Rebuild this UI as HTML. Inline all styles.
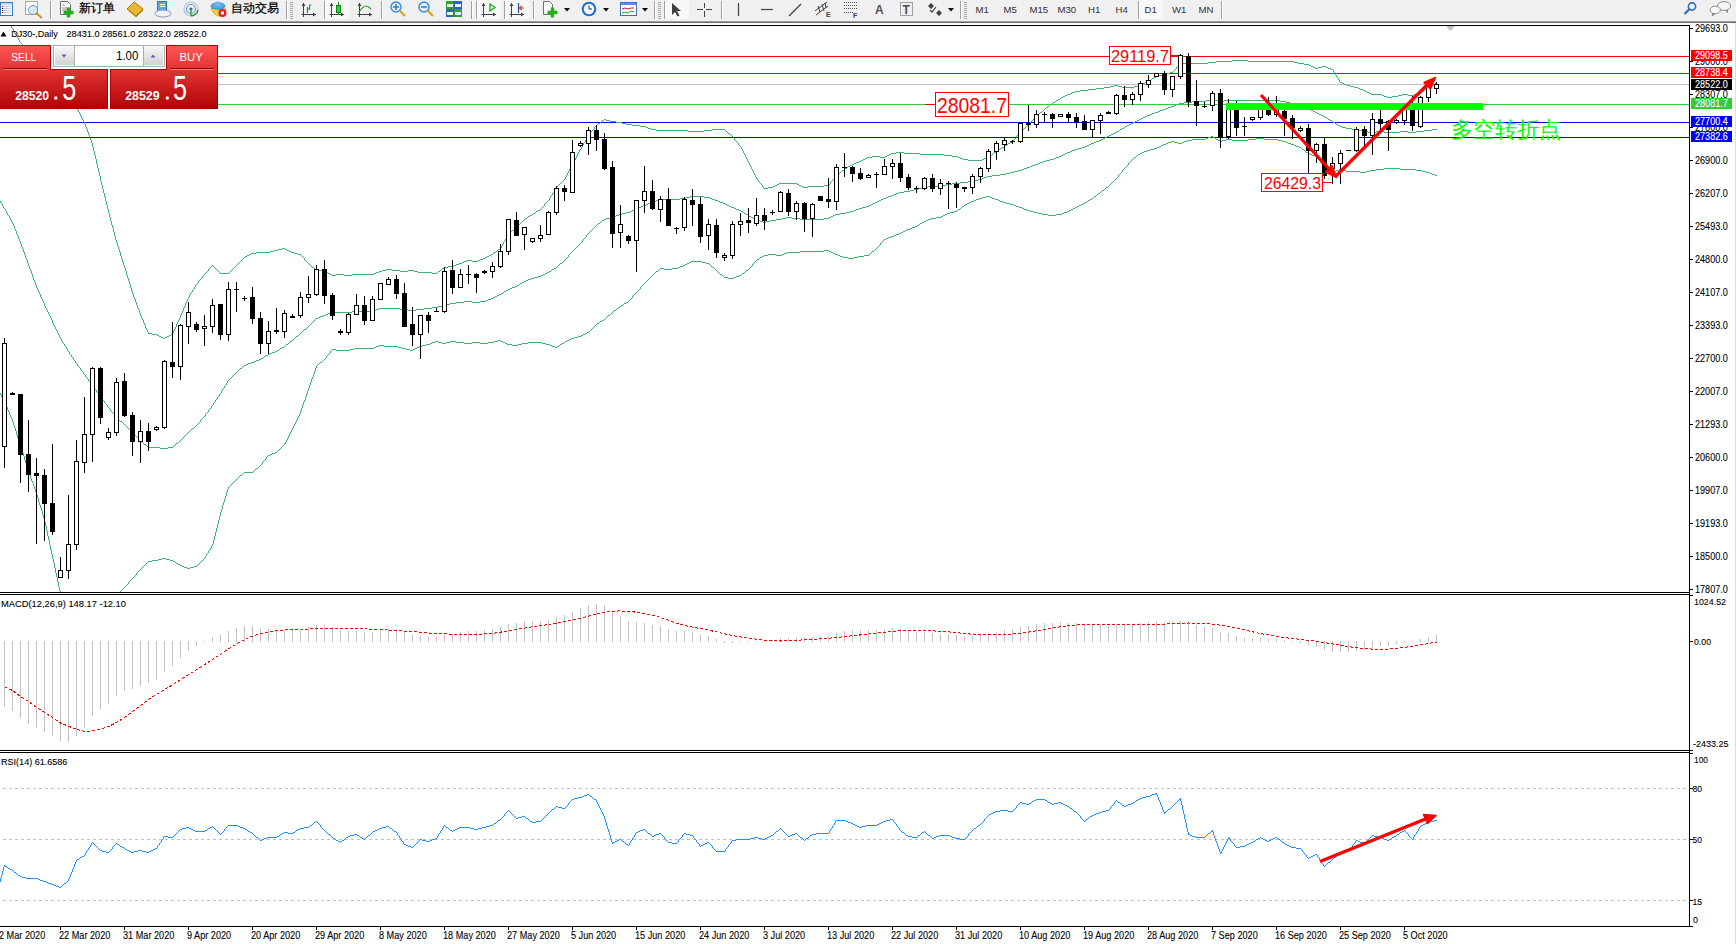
<!DOCTYPE html><html><head><meta charset="utf-8"><title>MT4</title><style>
html,body{margin:0;padding:0;width:1736px;height:944px;overflow:hidden;background:#fff;font-family:"Liberation Sans",sans-serif}
svg{position:absolute;left:0;top:0;display:block}
text{font-family:"Liberation Sans",sans-serif}
</style></head><body>
<svg width="1736" height="944" viewBox="0 0 1736 944">
<rect x="0" y="0" width="1736" height="21" fill="#f0f0f0"/>
<rect x="0" y="21" width="1736" height="1" fill="#a0a0a0"/>
<rect x="0" y="22" width="1736" height="1" fill="#696969"/>
<g>
<rect x="0.5" y="2.5" width="12" height="13" fill="#fff" stroke="#3b78c4" stroke-width="1"/>
<rect x="1" y="3" width="11" height="2" fill="#c8d8f0"/>
<rect x="3" y="6" width="8" height="1" fill="#c0d0ec"/><rect x="2" y="6" width="1" height="1" fill="#e00000"/>
<rect x="3" y="8" width="8" height="1" fill="#c0d0ec"/><rect x="2" y="8" width="1" height="1" fill="#000"/>
<rect x="3" y="10" width="8" height="1" fill="#c0d0ec"/><rect x="2" y="10" width="1" height="1" fill="#000"/>
<rect x="3" y="12" width="8" height="1" fill="#c0d0ec"/><rect x="2" y="12" width="1" height="1" fill="#e00000"/>
<rect x="25.5" y="1.5" width="12" height="13" fill="#fafafa" stroke="#b0a890"/>
<circle cx="33" cy="10" r="4.5" fill="#d8ecf8" stroke="#6a9ad0" stroke-width="1"/>
<path d="M36 13 L42 18" stroke="#c89a20" stroke-width="2.2"/>
<rect x="50" y="1" width="1" height="18" fill="#a0a0a0"/><rect x="51" y="1" width="1" height="18" fill="#ffffff"/>
<path d="M60.5 1.5 h7 l3 3 v10 h-10 z" fill="#fff" stroke="#707070"/>
<path d="M62 5 h3 M62 8 h6 M62 10 h6" stroke="#909090"/>
<path d="M68.5 7.5 v10 M63.5 12.5 h10" stroke="#20b020" stroke-width="3.4"/>
<text x="79" y="12.3" font-size="12" fill="#000" stroke="#000" stroke-width="0.25">新订单</text>
<path d="M127 9 L134 2 L143 9 L136 16 Z" fill="#e8b830" stroke="#a87810" stroke-width="1"/>
<path d="M128 10 L136 17 L143 10" stroke="#c08818" fill="none" stroke-width="1"/>
<rect x="157.5" y="1.5" width="9" height="10" fill="#5aa8e8" stroke="#2a78c8"/>
<rect x="160" y="4" width="5" height="1" fill="#fff"/><rect x="160" y="6" width="5" height="1" fill="#fff"/>
<ellipse cx="163" cy="13.5" rx="8" ry="3.5" fill="#f0f4fa" stroke="#8098b8"/>
<circle cx="191" cy="9" r="7" fill="none" stroke="#a8c4e8" stroke-width="1.2"/>
<circle cx="191" cy="9" r="4.5" fill="none" stroke="#6a98d8" stroke-width="1.2"/>
<circle cx="191" cy="9" r="1.6" fill="#2a60c0"/>
<path d="M191 9 V16 M191 16 Q197 15 198 10" stroke="#30a040" stroke-width="1.4" fill="none"/>
<path d="M211 8 Q214 17 222 16 L226 9 Z" fill="#f0d040" stroke="#c0a020" stroke-width="0.8"/>
<ellipse cx="218" cy="6" rx="7" ry="3.2" fill="#58a8e0" stroke="#3080c0" stroke-width="0.8"/>
<ellipse cx="218" cy="4" rx="3.5" ry="2.5" fill="#68b8f0"/>
<circle cx="222.5" cy="13" r="4" fill="#e02020"/><rect x="221" y="11.5" width="3" height="3" fill="#fff"/>
<text x="231" y="12.3" font-size="12" fill="#000" stroke="#000" stroke-width="0.25">自动交易</text>
<rect x="286" y="1" width="1" height="18" fill="#a0a0a0"/><rect x="287" y="1" width="1" height="18" fill="#ffffff"/>
<rect x="290" y="2" width="3" height="1" fill="#a8a8a8"/><rect x="290" y="4" width="3" height="1" fill="#a8a8a8"/><rect x="290" y="6" width="3" height="1" fill="#a8a8a8"/><rect x="290" y="8" width="3" height="1" fill="#a8a8a8"/><rect x="290" y="10" width="3" height="1" fill="#a8a8a8"/><rect x="290" y="12" width="3" height="1" fill="#a8a8a8"/><rect x="290" y="14" width="3" height="1" fill="#a8a8a8"/><rect x="290" y="16" width="3" height="1" fill="#a8a8a8"/><rect x="290" y="18" width="3" height="1" fill="#a8a8a8"/>
<path d="M303.5 3 V17 M301.5 14.5 H316" stroke="#404040" stroke-width="1" fill="none"/><path d="M303.5 3 l-2 3 h4 z M316 14.5 l-3 -2 v4 z" fill="#404040"/>
<path d="M307.5 7 v6 M307.5 9 h2 M309.5 5 v5 M309.5 5 h2" stroke="#20a020" stroke-width="1.2" fill="none"/>
<rect x="324" y="1" width="1" height="18" fill="#a0a0a0"/><rect x="325" y="1" width="1" height="18" fill="#ffffff"/>
<rect x="326" y="0" width="23" height="19" fill="#f8f8f8"/>
<path d="M331.5 3 V17 M329.5 14.5 H344" stroke="#404040" stroke-width="1" fill="none"/><path d="M331.5 3 l-2 3 h4 z M344 14.5 l-3 -2 v4 z" fill="#404040"/>
<path d="M338.5 2 v13" stroke="#108010"/><rect x="336.5" y="5.5" width="4" height="7" fill="#30d040" stroke="#108010"/>
<path d="M359.5 3 V17 M357.5 14.5 H372" stroke="#404040" stroke-width="1" fill="none"/><path d="M359.5 3 l-2 3 h4 z M372 14.5 l-3 -2 v4 z" fill="#404040"/>
<path d="M359 12 Q363 6 366 6 Q368 6 371 9" stroke="#20a020" stroke-width="1.2" fill="none"/>
<rect x="381" y="1" width="1" height="18" fill="#a0a0a0"/><rect x="382" y="1" width="1" height="18" fill="#ffffff"/>
<circle cx="396" cy="7" r="5" fill="#dff0fc" stroke="#3a88d8" stroke-width="1.4"/>
<path d="M399.5 10.5 L405 16" stroke="#d0a820" stroke-width="2.4"/>
<path d="M393 7 h6" stroke="#3a80c8" stroke-width="1.6"/>
<path d="M396 4 v6" stroke="#3a80c8" stroke-width="1.6"/>
<circle cx="424" cy="7" r="5" fill="#dff0fc" stroke="#3a88d8" stroke-width="1.4"/>
<path d="M427.5 10.5 L433 16" stroke="#d0a820" stroke-width="2.4"/>
<path d="M421 7 h6" stroke="#3a80c8" stroke-width="1.6"/>
<rect x="446" y="1" width="8" height="8" fill="#30a030"/><rect x="454" y="1" width="8" height="8" fill="#2a60c8"/>
<rect x="446" y="9" width="8" height="8" fill="#2a60c8"/><rect x="454" y="9" width="8" height="8" fill="#30a030"/>
<rect x="447" y="4" width="6" height="3" fill="#e8f0e8"/>
<rect x="455" y="4" width="6" height="3" fill="#e8f0e8"/>
<rect x="447" y="12" width="6" height="3" fill="#e8f0e8"/>
<rect x="455" y="12" width="6" height="3" fill="#e8f0e8"/>
<rect x="471" y="1" width="1" height="18" fill="#a0a0a0"/><rect x="472" y="1" width="1" height="18" fill="#ffffff"/>
<rect x="476" y="1" width="1" height="18" fill="#a0a0a0"/><rect x="477" y="1" width="1" height="18" fill="#ffffff"/>
<rect x="478" y="0" width="23" height="19" fill="#f8f8f8"/>
<path d="M483.5 3 V17 M481.5 14.5 H496" stroke="#404040" stroke-width="1" fill="none"/><path d="M483.5 3 l-2 3 h4 z M496 14.5 l-3 -2 v4 z" fill="#404040"/>
<path d="M490 4 v7 l5 -3.5 z" fill="none" stroke="#20b020" stroke-width="1.4"/>
<rect x="504" y="1" width="1" height="18" fill="#a0a0a0"/><rect x="505" y="1" width="1" height="18" fill="#ffffff"/>
<rect x="506" y="0" width="23" height="19" fill="#f8f8f8"/>
<path d="M511.5 3 V17 M509.5 14.5 H524" stroke="#404040" stroke-width="1" fill="none"/><path d="M511.5 3 l-2 3 h4 z M524 14.5 l-3 -2 v4 z" fill="#404040"/>
<path d="M518.5 3 v10" stroke="#2050c0" stroke-width="1.2"/><path d="M519 8 h5 M519 8 l3 -2 M519 8 l3 2" stroke="#e04010" stroke-width="1.2"/>
<rect x="533" y="1" width="1" height="18" fill="#a0a0a0"/><rect x="534" y="1" width="1" height="18" fill="#ffffff"/>
<path d="M543.5 1.5 h6 l3 3 v10 h-9 z" fill="#fafafa" stroke="#707070"/>
<path d="M552.5 7.5 v10 M547.5 12.5 h10" stroke="#20b020" stroke-width="3.4"/>
<path d="M564 8 h6 l-3 3.5 z" fill="#000"/>
<circle cx="589" cy="9" r="7.3" fill="#1e70d8"/><circle cx="589" cy="9" r="5.2" fill="#f4f8fc"/>
<path d="M589 5.5 V9 H592" stroke="#303030" stroke-width="1" fill="none"/>
<path d="M603 8 h6 l-3 3.5 z" fill="#000"/>
<rect x="620.5" y="2.5" width="16" height="13" fill="#fff" stroke="#3a70c0"/><rect x="621" y="3" width="15" height="2" fill="#5a90d8"/>
<path d="M622 9 l3 -1 l3 1 l3 -1 l3 0" stroke="#c02020" fill="none"/><path d="M622 13 l3 -1 l3 1 l3 -2 l3 1" stroke="#20a020" fill="none"/>
<path d="M642 8 h6 l-3 3.5 z" fill="#000"/>
<rect x="654" y="1" width="1" height="18" fill="#a0a0a0"/><rect x="655" y="1" width="1" height="18" fill="#ffffff"/>
<rect x="658" y="2" width="3" height="1" fill="#a8a8a8"/><rect x="658" y="4" width="3" height="1" fill="#a8a8a8"/><rect x="658" y="6" width="3" height="1" fill="#a8a8a8"/><rect x="658" y="8" width="3" height="1" fill="#a8a8a8"/><rect x="658" y="10" width="3" height="1" fill="#a8a8a8"/><rect x="658" y="12" width="3" height="1" fill="#a8a8a8"/><rect x="658" y="14" width="3" height="1" fill="#a8a8a8"/><rect x="658" y="16" width="3" height="1" fill="#a8a8a8"/><rect x="658" y="18" width="3" height="1" fill="#a8a8a8"/>
<rect x="664" y="1" width="1" height="18" fill="#a0a0a0"/><rect x="665" y="1" width="1" height="18" fill="#ffffff"/>
<rect x="666" y="0" width="23" height="19" fill="#f8f8f8"/>
<path d="M672 3 L672 15 L675 12 L677.5 16.5 L679.5 15.5 L677 11 L681 11 Z" fill="#404040"/>
<path d="M704.5 3 v5 M704.5 11 v6 M697 9.5 h6 M706 9.5 h6" stroke="#404040" stroke-width="1" fill="none"/>
<rect x="721" y="1" width="1" height="18" fill="#a0a0a0"/><rect x="722" y="1" width="1" height="18" fill="#ffffff"/>
<path d="M738.5 3 v13" stroke="#404040" stroke-width="1.2"/>
<path d="M761 9.5 h12" stroke="#404040" stroke-width="1.2"/>
<path d="M789 16 L801 4" stroke="#404040" stroke-width="1.2"/>
<path d="M815 11 L827 2 M816 15 L828 6 M818 6 l2 6 M822 4 l2 7 M825 3 l1 5" stroke="#404040" stroke-width="1" fill="none"/>
<text x="826" y="17" font-size="7" font-weight="bold" fill="#404040">E</text>
<path d="M844 2.5 h13 M844 5.5 h13 M844 8.5 h13 M844 12.5 h9" stroke="#505050" stroke-width="1" stroke-dasharray="1,1" fill="none"/>
<text x="853" y="18" font-size="7" font-weight="bold" fill="#404040">F</text>
<text x="875" y="14" font-size="12" font-weight="bold" fill="#505050">A</text>
<rect x="900.5" y="2.5" width="12" height="13" fill="none" stroke="#505050" stroke-dasharray="1,1"/>
<text x="902.5" y="14" font-size="12" font-weight="bold" fill="#505050">T</text>
<path d="M928 6 l3 -3 l3 3 l-3 3 z M936 13 l3 -3 l3 3 l-3 3 z" fill="#404040"/><path d="M930 10 l2 2 l4 -5" stroke="#404040" fill="none" stroke-width="1.2"/>
<path d="M948 8 h6 l-3 3.5 z" fill="#000"/>
<rect x="960" y="1" width="1" height="18" fill="#a0a0a0"/><rect x="961" y="1" width="1" height="18" fill="#ffffff"/>
<rect x="964" y="2" width="3" height="1" fill="#a8a8a8"/><rect x="964" y="4" width="3" height="1" fill="#a8a8a8"/><rect x="964" y="6" width="3" height="1" fill="#a8a8a8"/><rect x="964" y="8" width="3" height="1" fill="#a8a8a8"/><rect x="964" y="10" width="3" height="1" fill="#a8a8a8"/><rect x="964" y="12" width="3" height="1" fill="#a8a8a8"/><rect x="964" y="14" width="3" height="1" fill="#a8a8a8"/><rect x="964" y="16" width="3" height="1" fill="#a8a8a8"/><rect x="964" y="18" width="3" height="1" fill="#a8a8a8"/>
<rect x="1139" y="0" width="24" height="19" fill="#f8f8f8"/>
<rect x="1138" y="1" width="1" height="18" fill="#a0a0a0"/><rect x="1139" y="1" width="1" height="18" fill="#ffffff"/>
<rect x="1221" y="1" width="1" height="18" fill="#a0a0a0"/><rect x="1222" y="1" width="1" height="18" fill="#ffffff"/>
<text x="975.5" y="13" font-size="9.6" fill="#303030">M1</text>
<text x="1003.5" y="13" font-size="9.6" fill="#303030">M5</text>
<text x="1029.5" y="13" font-size="9.6" fill="#303030">M15</text>
<text x="1057.5" y="13" font-size="9.6" fill="#303030">M30</text>
<text x="1088" y="13" font-size="9.6" fill="#303030">H1</text>
<text x="1115.5" y="13" font-size="9.6" fill="#303030">H4</text>
<text x="1144.5" y="13" font-size="9.6" fill="#303030">D1</text>
<text x="1172" y="13" font-size="9.6" fill="#303030">W1</text>
<text x="1198.5" y="13" font-size="9.6" fill="#303030">MN</text>
<circle cx="1692" cy="6.5" r="3.6" fill="none" stroke="#2a68c0" stroke-width="1.6"/><path d="M1689.5 9 L1684.5 14" stroke="#2a68c0" stroke-width="2.2"/>
<path d="M1726 10 l1.5 2.5 l-0.5 -2.8 z" fill="#707070" stroke="#707070" stroke-width="0.8"/>
<ellipse cx="1724" cy="6" rx="6.6" ry="4.4" fill="#f6f6fa" stroke="#808080" stroke-width="0.9"/>
<path d="M1713 13 l-0.8 3 l2.8 -2.5 z" fill="#707070" stroke="#707070" stroke-width="0.8"/>
<ellipse cx="1715.2" cy="10" rx="5.2" ry="3.8" fill="#f8f8fc" stroke="#808080" stroke-width="0.9"/>
</g>
<g shape-rendering="crispEdges">
<rect x="0" y="25" width="1689" height="1" fill="#000"/>
<rect x="0" y="592" width="1690" height="1" fill="#000"/>
<rect x="0" y="594" width="1690" height="1" fill="#000"/>
<rect x="0" y="750" width="1690" height="1" fill="#000"/>
<rect x="0" y="752" width="1690" height="1" fill="#000"/>
<rect x="0" y="926" width="1690" height="1" fill="#000"/>
<rect x="1689" y="25" width="1" height="902" fill="#000"/>
<rect x="1735" y="23" width="1" height="921" fill="#dcdcdc"/>
</g>
<g shape-rendering="crispEdges">
<rect x="0" y="56" width="1689" height="1" fill="#ff0000"/>
<rect x="0" y="73" width="1689" height="1" fill="#ff0000"/>
<rect x="0" y="84" width="1689" height="1" fill="#c0c0c0"/>
<rect x="0" y="104" width="1689" height="1" fill="#32cd32"/>
<rect x="0" y="122" width="1689" height="1" fill="#0000ff"/>
<rect x="0" y="137" width="1689" height="1" fill="#0000ff"/>
</g>
<defs><clipPath id="mainclip"><rect x="0" y="26" width="1689" height="566"/></clipPath><clipPath id="macdclip"><rect x="0" y="595" width="1689" height="155"/></clipPath><clipPath id="rsiclip"><rect x="0" y="753" width="1689" height="173"/></clipPath></defs>
<g clip-path="url(#mainclip)">
<path fill="#3cb371" shape-rendering="crispEdges" d="M-4 8h1v1h-1zM-3 9h1v1h-1zM-2 10h1v1h-1zM-1 11h1v1h-1zM0 12h2v1h-2zM2 13h1v1h-1zM3 14h1v1h-1zM4 15h1v1h-1zM5 16h1v1h-1zM5 17h1v1h-1zM6 18h1v1h-1zM6 19h1v1h-1zM7 20h1v1h-1zM8 21h1v1h-1zM8 22h1v1h-1zM9 23h1v1h-1zM10 24h1v1h-1zM10 25h1v1h-1zM11 26h1v1h-1zM11 27h1v1h-1zM12 28h1v1h-1zM13 29h1v1h-1zM13 30h1v1h-1zM14 31h1v1h-1zM14 32h1v1h-1zM15 33h1v1h-1zM15 34h1v1h-1zM16 35h1v1h-1zM17 36h1v1h-1zM17 37h1v1h-1zM18 38h1v1h-1zM18 39h1v1h-1zM19 40h1v1h-1zM19 41h1v1h-1zM20 42h1v1h-1zM21 43h1v1h-1zM22 44h1v1h-1zM23 45h1v1h-1zM24 46h1v1h-1zM24 47h1v1h-1zM25 48h1v1h-1zM26 49h1v1h-1zM27 50h1v1h-1zM28 51h1v1h-1zM29 52h1v1h-1zM30 53h1v1h-1zM30 54h1v1h-1zM31 55h1v1h-1zM32 56h1v1h-1zM33 57h1v1h-1zM34 58h1v1h-1zM34 59h1v1h-1zM35 60h1v1h-1zM1232 60h16v1h-16zM36 61h1v1h-1zM1216 61h16v1h-16zM1248 61h46v1h-46zM37 62h1v1h-1zM1208 62h8v1h-8zM1294 62h4v1h-4zM38 63h1v1h-1zM1180 63h28v1h-28zM1298 63h6v1h-6zM39 64h1v1h-1zM1179 64h1v1h-1zM1304 64h5v1h-5zM40 65h1v1h-1zM1178 65h1v1h-1zM1309 65h2v1h-2zM40 66h1v1h-1zM1177 66h1v1h-1zM1311 66h2v1h-2zM1322 66h4v1h-4zM41 67h1v1h-1zM1176 67h1v1h-1zM1313 67h2v1h-2zM1318 67h4v1h-4zM1326 67h2v1h-2zM42 68h1v1h-1zM1176 68h1v1h-1zM1315 68h3v1h-3zM1328 68h3v1h-3zM43 69h1v1h-1zM1175 69h1v1h-1zM1331 69h2v1h-2zM44 70h1v1h-1zM1174 70h1v1h-1zM1333 70h1v1h-1zM45 71h1v1h-1zM1173 71h1v1h-1zM1333 71h1v1h-1zM46 72h1v1h-1zM1170 72h3v1h-3zM1334 72h1v1h-1zM47 73h1v1h-1zM1166 73h4v1h-4zM1334 73h1v1h-1zM48 74h1v1h-1zM1162 74h4v1h-4zM1335 74h1v1h-1zM48 75h1v1h-1zM1158 75h4v1h-4zM1336 75h1v1h-1zM49 76h1v1h-1zM1156 76h2v1h-2zM1336 76h1v1h-1zM50 77h1v1h-1zM1154 77h2v1h-2zM1337 77h1v1h-1zM51 78h1v1h-1zM1152 78h2v1h-2zM1338 78h1v1h-1zM52 79h1v1h-1zM1151 79h1v1h-1zM1338 79h1v1h-1zM53 80h1v1h-1zM1149 80h2v1h-2zM1339 80h1v1h-1zM54 81h1v1h-1zM1147 81h2v1h-2zM1339 81h1v1h-1zM55 82h1v1h-1zM1145 82h2v1h-2zM1340 82h2v1h-2zM56 83h1v1h-1zM1143 83h2v1h-2zM1342 83h2v1h-2zM1435 83h2v1h-2zM56 84h1v1h-1zM1141 84h2v1h-2zM1344 84h3v1h-3zM1433 84h2v1h-2zM57 85h1v1h-1zM1114 85h4v1h-4zM1138 85h3v1h-3zM1347 85h3v1h-3zM1431 85h2v1h-2zM58 86h1v1h-1zM1110 86h4v1h-4zM1118 86h4v1h-4zM1134 86h4v1h-4zM1350 86h4v1h-4zM1429 86h2v1h-2zM59 87h1v1h-1zM1104 87h6v1h-6zM1122 87h12v1h-12zM1354 87h4v1h-4zM1428 87h1v1h-1zM60 88h1v1h-1zM1096 88h8v1h-8zM1358 88h2v1h-2zM1426 88h2v1h-2zM61 89h1v1h-1zM1088 89h8v1h-8zM1360 89h3v1h-3zM1425 89h1v1h-1zM62 90h1v1h-1zM1080 90h8v1h-8zM1363 90h2v1h-2zM1424 90h1v1h-1zM62 91h1v1h-1zM1075 91h5v1h-5zM1365 91h2v1h-2zM1422 91h2v1h-2zM63 92h1v1h-1zM1072 92h3v1h-3zM1367 92h2v1h-2zM1421 92h1v1h-1zM64 93h1v1h-1zM1070 93h2v1h-2zM1369 93h2v1h-2zM1418 93h3v1h-3zM65 94h1v1h-1zM1067 94h3v1h-3zM1371 94h11v1h-11zM1402 94h6v1h-6zM1414 94h4v1h-4zM66 95h1v1h-1zM1065 95h2v1h-2zM1382 95h2v1h-2zM1398 95h4v1h-4zM1408 95h6v1h-6zM66 96h1v1h-1zM1063 96h2v1h-2zM1384 96h3v1h-3zM1392 96h6v1h-6zM67 97h1v1h-1zM1061 97h2v1h-2zM1387 97h5v1h-5zM68 98h1v1h-1zM1060 98h1v1h-1zM69 99h1v1h-1zM1058 99h2v1h-2zM70 100h1v1h-1zM1056 100h2v1h-2zM71 101h1v1h-1zM1055 101h1v1h-1zM72 102h1v1h-1zM1053 102h2v1h-2zM72 103h1v1h-1zM1052 103h1v1h-1zM73 104h1v1h-1zM1050 104h2v1h-2zM74 105h1v1h-1zM1049 105h1v1h-1zM75 106h1v1h-1zM1048 106h1v1h-1zM76 107h1v1h-1zM1046 107h2v1h-2zM77 108h1v1h-1zM1045 108h1v1h-1zM77 109h1v1h-1zM1044 109h1v1h-1zM78 110h1v1h-1zM1043 110h1v1h-1zM78 111h1v1h-1zM1042 111h1v1h-1zM79 112h1v1h-1zM1040 112h2v1h-2zM79 113h1v1h-1zM1039 113h1v1h-1zM80 114h1v1h-1zM1038 114h1v1h-1zM80 115h1v1h-1zM1037 115h1v1h-1zM81 116h1v1h-1zM1036 116h1v1h-1zM81 117h1v1h-1zM1035 117h1v1h-1zM82 118h1v1h-1zM1034 118h1v1h-1zM82 119h1v1h-1zM604 119h2v1h-2zM1033 119h1v1h-1zM83 120h1v1h-1zM602 120h2v1h-2zM606 120h4v1h-4zM1032 120h1v1h-1zM83 121h1v1h-1zM601 121h1v1h-1zM610 121h6v1h-6zM1031 121h1v1h-1zM84 122h1v1h-1zM600 122h1v1h-1zM616 122h6v1h-6zM1030 122h1v1h-1zM84 123h1v1h-1zM598 123h2v1h-2zM622 123h4v1h-4zM1029 123h1v1h-1zM85 124h1v1h-1zM597 124h1v1h-1zM626 124h6v1h-6zM1028 124h1v1h-1zM85 125h1v1h-1zM596 125h1v1h-1zM632 125h8v1h-8zM1027 125h1v1h-1zM85 126h1v1h-1zM595 126h1v1h-1zM640 126h6v1h-6zM1026 126h1v1h-1zM86 127h1v1h-1zM594 127h1v1h-1zM646 127h2v1h-2zM1025 127h1v1h-1zM86 128h1v1h-1zM594 128h1v1h-1zM648 128h3v1h-3zM1024 128h1v1h-1zM87 129h1v1h-1zM593 129h1v1h-1zM651 129h5v1h-5zM712 129h13v1h-13zM1023 129h1v1h-1zM87 130h1v1h-1zM592 130h1v1h-1zM656 130h32v1h-32zM704 130h8v1h-8zM725 130h1v1h-1zM1022 130h1v1h-1zM87 131h1v1h-1zM591 131h1v1h-1zM688 131h16v1h-16zM726 131h1v1h-1zM1021 131h1v1h-1zM88 132h1v1h-1zM590 132h1v1h-1zM727 132h1v1h-1zM1020 132h1v1h-1zM88 133h1v1h-1zM590 133h1v1h-1zM728 133h2v1h-2zM1019 133h1v1h-1zM88 134h1v1h-1zM589 134h1v1h-1zM730 134h1v1h-1zM1018 134h1v1h-1zM89 135h1v1h-1zM588 135h1v1h-1zM731 135h1v1h-1zM1017 135h1v1h-1zM89 136h1v1h-1zM587 136h1v1h-1zM732 136h1v1h-1zM1016 136h1v1h-1zM89 137h1v1h-1zM587 137h1v1h-1zM733 137h1v1h-1zM1016 137h1v1h-1zM90 138h1v1h-1zM586 138h1v1h-1zM734 138h1v1h-1zM1015 138h1v1h-1zM90 139h1v1h-1zM586 139h1v1h-1zM734 139h1v1h-1zM1014 139h1v1h-1zM91 140h1v1h-1zM585 140h1v1h-1zM735 140h1v1h-1zM1013 140h1v1h-1zM91 141h1v1h-1zM585 141h1v1h-1zM736 141h1v1h-1zM1012 141h1v1h-1zM91 142h1v1h-1zM584 142h1v1h-1zM737 142h1v1h-1zM1010 142h2v1h-2zM92 143h1v1h-1zM583 143h1v1h-1zM738 143h1v1h-1zM1008 143h2v1h-2zM92 144h1v1h-1zM583 144h1v1h-1zM738 144h1v1h-1zM1007 144h1v1h-1zM92 145h1v1h-1zM582 145h1v1h-1zM739 145h1v1h-1zM1005 145h2v1h-2zM92 146h1v1h-1zM582 146h1v1h-1zM740 146h1v1h-1zM1004 146h1v1h-1zM93 147h1v1h-1zM581 147h1v1h-1zM741 147h1v1h-1zM1002 147h2v1h-2zM93 148h1v1h-1zM581 148h1v1h-1zM741 148h1v1h-1zM1000 148h2v1h-2zM93 149h1v1h-1zM580 149h1v1h-1zM742 149h1v1h-1zM999 149h1v1h-1zM93 150h1v1h-1zM579 150h1v1h-1zM742 150h1v1h-1zM997 150h2v1h-2zM94 151h1v1h-1zM579 151h1v1h-1zM743 151h1v1h-1zM996 151h1v1h-1zM94 152h1v1h-1zM578 152h1v1h-1zM743 152h1v1h-1zM896 152h8v1h-8zM994 152h2v1h-2zM94 153h1v1h-1zM578 153h1v1h-1zM744 153h1v1h-1zM891 153h5v1h-5zM904 153h16v1h-16zM993 153h1v1h-1zM94 154h1v1h-1zM577 154h1v1h-1zM744 154h1v1h-1zM889 154h2v1h-2zM920 154h24v1h-24zM992 154h1v1h-1zM95 155h1v1h-1zM577 155h1v1h-1zM745 155h1v1h-1zM887 155h2v1h-2zM944 155h8v1h-8zM990 155h2v1h-2zM95 156h1v1h-1zM576 156h1v1h-1zM745 156h1v1h-1zM872 156h8v1h-8zM885 156h2v1h-2zM952 156h6v1h-6zM989 156h1v1h-1zM95 157h1v1h-1zM576 157h1v1h-1zM746 157h1v1h-1zM867 157h5v1h-5zM880 157h5v1h-5zM958 157h2v1h-2zM987 157h2v1h-2zM95 158h1v1h-1zM575 158h1v1h-1zM746 158h1v1h-1zM865 158h2v1h-2zM960 158h3v1h-3zM984 158h3v1h-3zM96 159h1v1h-1zM575 159h1v1h-1zM747 159h1v1h-1zM863 159h2v1h-2zM963 159h5v1h-5zM982 159h2v1h-2zM96 160h1v1h-1zM574 160h1v1h-1zM747 160h1v1h-1zM861 160h2v1h-2zM968 160h14v1h-14zM96 161h1v1h-1zM574 161h1v1h-1zM748 161h1v1h-1zM859 161h2v1h-2zM96 162h1v1h-1zM573 162h1v1h-1zM748 162h1v1h-1zM856 162h3v1h-3zM96 163h1v1h-1zM573 163h1v1h-1zM749 163h1v1h-1zM854 163h2v1h-2zM97 164h1v1h-1zM572 164h1v1h-1zM749 164h1v1h-1zM852 164h2v1h-2zM97 165h1v1h-1zM571 165h1v1h-1zM750 165h1v1h-1zM850 165h2v1h-2zM97 166h1v1h-1zM571 166h1v1h-1zM750 166h1v1h-1zM848 166h2v1h-2zM97 167h1v1h-1zM570 167h1v1h-1zM751 167h1v1h-1zM847 167h1v1h-1zM98 168h1v1h-1zM570 168h1v1h-1zM751 168h1v1h-1zM845 168h2v1h-2zM98 169h1v1h-1zM569 169h1v1h-1zM752 169h1v1h-1zM844 169h1v1h-1zM98 170h1v1h-1zM569 170h1v1h-1zM752 170h1v1h-1zM842 170h2v1h-2zM98 171h1v1h-1zM568 171h1v1h-1zM753 171h1v1h-1zM841 171h1v1h-1zM99 172h1v1h-1zM568 172h1v1h-1zM753 172h1v1h-1zM840 172h1v1h-1zM99 173h1v1h-1zM567 173h1v1h-1zM754 173h1v1h-1zM838 173h2v1h-2zM99 174h1v1h-1zM567 174h1v1h-1zM754 174h1v1h-1zM837 174h1v1h-1zM99 175h1v1h-1zM566 175h1v1h-1zM755 175h1v1h-1zM836 175h1v1h-1zM100 176h1v1h-1zM566 176h1v1h-1zM755 176h1v1h-1zM835 176h1v1h-1zM100 177h1v1h-1zM565 177h1v1h-1zM756 177h1v1h-1zM834 177h1v1h-1zM100 178h1v1h-1zM565 178h1v1h-1zM756 178h1v1h-1zM834 178h1v1h-1zM100 179h1v1h-1zM564 179h1v1h-1zM757 179h1v1h-1zM833 179h1v1h-1zM100 180h1v1h-1zM563 180h1v1h-1zM758 180h1v1h-1zM832 180h1v1h-1zM101 181h1v1h-1zM562 181h1v1h-1zM758 181h1v1h-1zM831 181h1v1h-1zM101 182h1v1h-1zM561 182h1v1h-1zM759 182h1v1h-1zM830 182h1v1h-1zM101 183h1v1h-1zM560 183h1v1h-1zM760 183h1v1h-1zM779 183h18v1h-18zM830 183h1v1h-1zM101 184h1v1h-1zM559 184h1v1h-1zM761 184h1v1h-1zM777 184h2v1h-2zM797 184h2v1h-2zM829 184h1v1h-1zM102 185h1v1h-1zM558 185h1v1h-1zM762 185h1v1h-1zM775 185h2v1h-2zM799 185h2v1h-2zM824 185h5v1h-5zM102 186h1v1h-1zM557 186h1v1h-1zM762 186h1v1h-1zM773 186h2v1h-2zM801 186h2v1h-2zM808 186h16v1h-16zM102 187h1v1h-1zM556 187h1v1h-1zM763 187h1v1h-1zM768 187h5v1h-5zM803 187h5v1h-5zM102 188h1v1h-1zM555 188h1v1h-1zM764 188h4v1h-4zM103 189h1v1h-1zM555 189h1v1h-1zM103 190h1v1h-1zM554 190h1v1h-1zM103 191h1v1h-1zM554 191h1v1h-1zM103 192h1v1h-1zM553 192h1v1h-1zM104 193h1v1h-1zM552 193h1v1h-1zM104 194h1v1h-1zM552 194h1v1h-1zM104 195h1v1h-1zM551 195h1v1h-1zM104 196h1v1h-1zM550 196h1v1h-1zM105 197h1v1h-1zM550 197h1v1h-1zM105 198h1v1h-1zM549 198h1v1h-1zM105 199h1v1h-1zM549 199h1v1h-1zM105 200h1v1h-1zM548 200h1v1h-1zM106 201h1v1h-1zM547 201h1v1h-1zM106 202h1v1h-1zM546 202h1v1h-1zM106 203h1v1h-1zM545 203h1v1h-1zM106 204h1v1h-1zM544 204h1v1h-1zM107 205h1v1h-1zM544 205h1v1h-1zM107 206h1v1h-1zM543 206h1v1h-1zM107 207h1v1h-1zM542 207h1v1h-1zM107 208h1v1h-1zM541 208h1v1h-1zM108 209h1v1h-1zM540 209h1v1h-1zM108 210h1v1h-1zM538 210h2v1h-2zM108 211h1v1h-1zM536 211h2v1h-2zM108 212h1v1h-1zM535 212h1v1h-1zM109 213h1v1h-1zM533 213h2v1h-2zM109 214h1v1h-1zM532 214h1v1h-1zM109 215h1v1h-1zM530 215h2v1h-2zM109 216h1v1h-1zM528 216h2v1h-2zM110 217h1v1h-1zM527 217h1v1h-1zM110 218h1v1h-1zM525 218h2v1h-2zM110 219h1v1h-1zM524 219h1v1h-1zM110 220h1v1h-1zM523 220h1v1h-1zM111 221h1v1h-1zM522 221h1v1h-1zM111 222h1v1h-1zM521 222h1v1h-1zM111 223h1v1h-1zM520 223h1v1h-1zM111 224h1v1h-1zM519 224h1v1h-1zM112 225h1v1h-1zM518 225h1v1h-1zM112 226h1v1h-1zM517 226h1v1h-1zM112 227h1v1h-1zM516 227h1v1h-1zM113 228h1v1h-1zM515 228h1v1h-1zM113 229h1v1h-1zM514 229h1v1h-1zM113 230h1v1h-1zM512 230h2v1h-2zM113 231h1v1h-1zM511 231h1v1h-1zM114 232h1v1h-1zM510 232h1v1h-1zM114 233h1v1h-1zM509 233h1v1h-1zM114 234h1v1h-1zM508 234h1v1h-1zM114 235h1v1h-1zM507 235h1v1h-1zM115 236h1v1h-1zM507 236h1v1h-1zM115 237h1v1h-1zM506 237h1v1h-1zM115 238h1v1h-1zM506 238h1v1h-1zM115 239h1v1h-1zM505 239h1v1h-1zM116 240h1v1h-1zM505 240h1v1h-1zM116 241h1v1h-1zM504 241h1v1h-1zM116 242h1v1h-1zM503 242h1v1h-1zM117 243h1v1h-1zM503 243h1v1h-1zM117 244h1v1h-1zM502 244h1v1h-1zM117 245h1v1h-1zM502 245h1v1h-1zM118 246h1v1h-1zM501 246h1v1h-1zM118 247h1v1h-1zM501 247h1v1h-1zM118 248h1v1h-1zM282 248h3v1h-3zM500 248h1v1h-1zM119 249h1v1h-1zM278 249h4v1h-4zM285 249h2v1h-2zM498 249h2v1h-2zM119 250h1v1h-1zM274 250h4v1h-4zM287 250h2v1h-2zM497 250h1v1h-1zM119 251h1v1h-1zM270 251h4v1h-4zM289 251h2v1h-2zM496 251h1v1h-1zM120 252h1v1h-1zM256 252h14v1h-14zM291 252h3v1h-3zM494 252h2v1h-2zM120 253h1v1h-1zM251 253h5v1h-5zM294 253h4v1h-4zM493 253h1v1h-1zM120 254h1v1h-1zM249 254h2v1h-2zM298 254h3v1h-3zM491 254h2v1h-2zM120 255h1v1h-1zM247 255h2v1h-2zM301 255h1v1h-1zM489 255h2v1h-2zM121 256h1v1h-1zM245 256h2v1h-2zM302 256h1v1h-1zM487 256h2v1h-2zM121 257h1v1h-1zM244 257h1v1h-1zM303 257h1v1h-1zM485 257h2v1h-2zM121 258h1v1h-1zM243 258h1v1h-1zM304 258h1v1h-1zM483 258h2v1h-2zM122 259h1v1h-1zM242 259h1v1h-1zM304 259h1v1h-1zM480 259h3v1h-3zM122 260h1v1h-1zM241 260h1v1h-1zM305 260h1v1h-1zM467 260h5v1h-5zM478 260h2v1h-2zM122 261h1v1h-1zM240 261h1v1h-1zM306 261h1v1h-1zM464 261h3v1h-3zM472 261h6v1h-6zM123 262h1v1h-1zM239 262h1v1h-1zM307 262h1v1h-1zM462 262h2v1h-2zM123 263h1v1h-1zM238 263h1v1h-1zM308 263h1v1h-1zM459 263h3v1h-3zM123 264h1v1h-1zM237 264h1v1h-1zM309 264h1v1h-1zM456 264h3v1h-3zM124 265h1v1h-1zM212 265h1v1h-1zM236 265h1v1h-1zM310 265h1v1h-1zM454 265h2v1h-2zM124 266h1v1h-1zM211 266h1v1h-1zM213 266h1v1h-1zM235 266h1v1h-1zM311 266h1v1h-1zM448 266h6v1h-6zM124 267h1v1h-1zM210 267h1v1h-1zM214 267h1v1h-1zM234 267h1v1h-1zM312 267h2v1h-2zM444 267h4v1h-4zM125 268h1v1h-1zM209 268h1v1h-1zM215 268h1v1h-1zM233 268h1v1h-1zM314 268h1v1h-1zM442 268h2v1h-2zM125 269h1v1h-1zM208 269h1v1h-1zM216 269h1v1h-1zM232 269h1v1h-1zM315 269h1v1h-1zM386 269h6v1h-6zM441 269h1v1h-1zM125 270h1v1h-1zM208 270h1v1h-1zM217 270h1v1h-1zM231 270h1v1h-1zM316 270h9v1h-9zM382 270h4v1h-4zM392 270h8v1h-8zM408 270h6v1h-6zM440 270h1v1h-1zM126 271h1v1h-1zM207 271h1v1h-1zM218 271h1v1h-1zM230 271h1v1h-1zM325 271h2v1h-2zM379 271h3v1h-3zM400 271h8v1h-8zM414 271h4v1h-4zM438 271h2v1h-2zM126 272h1v1h-1zM206 272h1v1h-1zM219 272h1v1h-1zM229 272h1v1h-1zM327 272h1v1h-1zM376 272h3v1h-3zM418 272h14v1h-14zM437 272h1v1h-1zM126 273h1v1h-1zM205 273h1v1h-1zM220 273h9v1h-9zM328 273h2v1h-2zM374 273h2v1h-2zM432 273h5v1h-5zM126 274h1v1h-1zM204 274h1v1h-1zM330 274h2v1h-2zM336 274h8v1h-8zM352 274h22v1h-22zM127 275h1v1h-1zM203 275h1v1h-1zM332 275h4v1h-4zM344 275h8v1h-8zM127 276h1v1h-1zM202 276h1v1h-1zM127 277h1v1h-1zM202 277h1v1h-1zM128 278h1v1h-1zM201 278h1v1h-1zM128 279h1v1h-1zM200 279h1v1h-1zM128 280h1v1h-1zM199 280h1v1h-1zM129 281h1v1h-1zM198 281h1v1h-1zM129 282h1v1h-1zM198 282h1v1h-1zM129 283h1v1h-1zM197 283h1v1h-1zM130 284h1v1h-1zM196 284h1v1h-1zM130 285h1v1h-1zM195 285h1v1h-1zM130 286h1v1h-1zM195 286h1v1h-1zM130 287h1v1h-1zM194 287h1v1h-1zM131 288h1v1h-1zM194 288h1v1h-1zM131 289h1v1h-1zM193 289h1v1h-1zM131 290h1v1h-1zM192 290h1v1h-1zM132 291h1v1h-1zM192 291h1v1h-1zM132 292h1v1h-1zM191 292h1v1h-1zM132 293h1v1h-1zM190 293h1v1h-1zM133 294h1v1h-1zM190 294h1v1h-1zM133 295h1v1h-1zM189 295h1v1h-1zM133 296h1v1h-1zM189 296h1v1h-1zM134 297h1v1h-1zM188 297h1v1h-1zM134 298h1v1h-1zM188 298h1v1h-1zM135 299h1v1h-1zM187 299h1v1h-1zM135 300h1v1h-1zM187 300h1v1h-1zM135 301h1v1h-1zM186 301h1v1h-1zM136 302h1v1h-1zM186 302h1v1h-1zM136 303h1v1h-1zM185 303h1v1h-1zM136 304h1v1h-1zM185 304h1v1h-1zM137 305h1v1h-1zM185 305h1v1h-1zM137 306h1v1h-1zM184 306h1v1h-1zM137 307h1v1h-1zM184 307h1v1h-1zM138 308h1v1h-1zM183 308h1v1h-1zM138 309h1v1h-1zM183 309h1v1h-1zM139 310h1v1h-1zM183 310h1v1h-1zM139 311h1v1h-1zM182 311h1v1h-1zM139 312h1v1h-1zM182 312h1v1h-1zM140 313h1v1h-1zM181 313h1v1h-1zM140 314h1v1h-1zM181 314h1v1h-1zM140 315h1v1h-1zM180 315h1v1h-1zM141 316h1v1h-1zM180 316h1v1h-1zM141 317h1v1h-1zM180 317h1v1h-1zM142 318h1v1h-1zM179 318h1v1h-1zM142 319h1v1h-1zM179 319h1v1h-1zM143 320h1v1h-1zM178 320h1v1h-1zM143 321h1v1h-1zM178 321h1v1h-1zM143 322h1v1h-1zM177 322h1v1h-1zM144 323h1v1h-1zM177 323h1v1h-1zM144 324h1v1h-1zM176 324h1v1h-1zM145 325h1v1h-1zM176 325h1v1h-1zM145 326h1v1h-1zM176 326h1v1h-1zM145 327h1v1h-1zM175 327h1v1h-1zM146 328h1v1h-1zM175 328h1v1h-1zM146 329h1v1h-1zM174 329h1v1h-1zM147 330h1v1h-1zM174 330h1v1h-1zM147 331h1v1h-1zM173 331h1v1h-1zM148 332h1v1h-1zM173 332h1v1h-1zM148 333h4v1h-4zM172 333h1v1h-1zM152 334h5v1h-5zM171 334h2v1h-2zM157 335h2v1h-2zM169 335h2v1h-2zM159 336h2v1h-2zM167 336h2v1h-2zM161 337h2v1h-2zM165 337h2v1h-2zM163 338h2v1h-2z"/>
<path fill="#3cb371" shape-rendering="crispEdges" d="M-4 195h1v1h-1zM891 195h3v1h-3zM-3 196h1v1h-1zM690 196h14v1h-14zM888 196h3v1h-3zM-3 197h1v1h-1zM686 197h4v1h-4zM704 197h6v1h-6zM886 197h2v1h-2zM-2 198h1v1h-1zM680 198h6v1h-6zM710 198h2v1h-2zM883 198h3v1h-3zM-2 199h1v1h-1zM659 199h21v1h-21zM712 199h3v1h-3zM881 199h2v1h-2zM-1 200h1v1h-1zM656 200h3v1h-3zM715 200h3v1h-3zM879 200h2v1h-2zM0 201h1v1h-1zM654 201h2v1h-2zM718 201h2v1h-2zM877 201h2v1h-2zM0 202h1v1h-1zM651 202h3v1h-3zM720 202h3v1h-3zM875 202h2v1h-2zM1 203h1v1h-1zM648 203h3v1h-3zM723 203h2v1h-2zM873 203h2v1h-2zM2 204h1v1h-1zM646 204h2v1h-2zM725 204h2v1h-2zM871 204h2v1h-2zM2 205h1v1h-1zM643 205h3v1h-3zM727 205h2v1h-2zM869 205h2v1h-2zM3 206h1v1h-1zM641 206h2v1h-2zM729 206h2v1h-2zM866 206h3v1h-3zM3 207h1v1h-1zM639 207h2v1h-2zM731 207h3v1h-3zM862 207h4v1h-4zM4 208h1v1h-1zM637 208h2v1h-2zM734 208h2v1h-2zM859 208h3v1h-3zM5 209h1v1h-1zM635 209h2v1h-2zM736 209h3v1h-3zM856 209h3v1h-3zM5 210h1v1h-1zM632 210h3v1h-3zM739 210h2v1h-2zM854 210h2v1h-2zM6 211h1v1h-1zM630 211h2v1h-2zM741 211h2v1h-2zM850 211h4v1h-4zM6 212h1v1h-1zM626 212h4v1h-4zM743 212h1v1h-1zM846 212h4v1h-4zM7 213h1v1h-1zM622 213h4v1h-4zM744 213h2v1h-2zM840 213h6v1h-6zM7 214h1v1h-1zM619 214h3v1h-3zM746 214h2v1h-2zM835 214h5v1h-5zM8 215h1v1h-1zM616 215h3v1h-3zM748 215h1v1h-1zM833 215h2v1h-2zM9 216h1v1h-1zM614 216h2v1h-2zM749 216h2v1h-2zM831 216h2v1h-2zM9 217h1v1h-1zM610 217h4v1h-4zM751 217h2v1h-2zM786 217h6v1h-6zM829 217h2v1h-2zM10 218h1v1h-1zM606 218h4v1h-4zM753 218h2v1h-2zM782 218h4v1h-4zM792 218h8v1h-8zM824 218h5v1h-5zM10 219h1v1h-1zM604 219h2v1h-2zM755 219h3v1h-3zM776 219h6v1h-6zM800 219h24v1h-24zM11 220h1v1h-1zM602 220h2v1h-2zM758 220h2v1h-2zM770 220h6v1h-6zM11 221h1v1h-1zM601 221h1v1h-1zM760 221h3v1h-3zM766 221h4v1h-4zM12 222h1v1h-1zM600 222h1v1h-1zM763 222h3v1h-3zM12 223h1v1h-1zM598 223h2v1h-2zM13 224h1v1h-1zM597 224h1v1h-1zM13 225h1v1h-1zM596 225h1v1h-1zM14 226h1v1h-1zM595 226h1v1h-1zM14 227h1v1h-1zM594 227h1v1h-1zM14 228h1v1h-1zM593 228h1v1h-1zM15 229h1v1h-1zM592 229h1v1h-1zM15 230h1v1h-1zM591 230h1v1h-1zM16 231h1v1h-1zM590 231h1v1h-1zM16 232h1v1h-1zM589 232h1v1h-1zM16 233h1v1h-1zM588 233h1v1h-1zM17 234h1v1h-1zM587 234h1v1h-1zM17 235h1v1h-1zM586 235h1v1h-1zM18 236h1v1h-1zM586 236h1v1h-1zM18 237h1v1h-1zM585 237h1v1h-1zM18 238h1v1h-1zM584 238h1v1h-1zM19 239h1v1h-1zM583 239h1v1h-1zM19 240h1v1h-1zM582 240h1v1h-1zM20 241h1v1h-1zM582 241h1v1h-1zM20 242h1v1h-1zM581 242h1v1h-1zM20 243h1v1h-1zM580 243h1v1h-1zM21 244h1v1h-1zM579 244h1v1h-1zM21 245h1v1h-1zM578 245h1v1h-1zM21 246h1v1h-1zM577 246h1v1h-1zM22 247h1v1h-1zM576 247h1v1h-1zM22 248h1v1h-1zM575 248h1v1h-1zM23 249h1v1h-1zM574 249h1v1h-1zM23 250h1v1h-1zM573 250h1v1h-1zM23 251h1v1h-1zM572 251h1v1h-1zM24 252h1v1h-1zM571 252h1v1h-1zM24 253h1v1h-1zM570 253h1v1h-1zM24 254h1v1h-1zM569 254h1v1h-1zM25 255h1v1h-1zM568 255h1v1h-1zM25 256h1v1h-1zM568 256h1v1h-1zM25 257h1v1h-1zM567 257h1v1h-1zM26 258h1v1h-1zM566 258h1v1h-1zM26 259h1v1h-1zM565 259h1v1h-1zM27 260h1v1h-1zM564 260h1v1h-1zM27 261h1v1h-1zM563 261h1v1h-1zM27 262h1v1h-1zM562 262h1v1h-1zM28 263h1v1h-1zM560 263h2v1h-2zM28 264h1v1h-1zM559 264h1v1h-1zM28 265h1v1h-1zM558 265h1v1h-1zM29 266h1v1h-1zM557 266h1v1h-1zM29 267h1v1h-1zM556 267h1v1h-1zM29 268h1v1h-1zM554 268h2v1h-2zM30 269h1v1h-1zM552 269h2v1h-2zM30 270h1v1h-1zM551 270h1v1h-1zM31 271h1v1h-1zM549 271h2v1h-2zM31 272h1v1h-1zM547 272h2v1h-2zM31 273h1v1h-1zM545 273h2v1h-2zM32 274h1v1h-1zM543 274h2v1h-2zM32 275h1v1h-1zM541 275h2v1h-2zM32 276h1v1h-1zM538 276h3v1h-3zM33 277h1v1h-1zM534 277h4v1h-4zM33 278h1v1h-1zM531 278h3v1h-3zM33 279h1v1h-1zM528 279h3v1h-3zM34 280h1v1h-1zM526 280h2v1h-2zM34 281h1v1h-1zM524 281h2v1h-2zM35 282h1v1h-1zM522 282h2v1h-2zM35 283h1v1h-1zM520 283h2v1h-2zM35 284h1v1h-1zM519 284h1v1h-1zM36 285h1v1h-1zM517 285h2v1h-2zM36 286h1v1h-1zM515 286h2v1h-2zM36 287h1v1h-1zM512 287h3v1h-3zM37 288h1v1h-1zM510 288h2v1h-2zM37 289h1v1h-1zM508 289h2v1h-2zM38 290h1v1h-1zM506 290h2v1h-2zM38 291h1v1h-1zM504 291h2v1h-2zM39 292h1v1h-1zM503 292h1v1h-1zM39 293h1v1h-1zM501 293h2v1h-2zM40 294h1v1h-1zM499 294h2v1h-2zM40 295h1v1h-1zM497 295h2v1h-2zM40 296h1v1h-1zM495 296h2v1h-2zM41 297h1v1h-1zM493 297h2v1h-2zM41 298h1v1h-1zM491 298h2v1h-2zM42 299h1v1h-1zM488 299h3v1h-3zM42 300h1v1h-1zM486 300h2v1h-2zM43 301h1v1h-1zM464 301h8v1h-8zM480 301h6v1h-6zM43 302h1v1h-1zM456 302h8v1h-8zM472 302h8v1h-8zM44 303h1v1h-1zM450 303h6v1h-6zM44 304h1v1h-1zM446 304h4v1h-4zM44 305h1v1h-1zM442 305h4v1h-4zM45 306h1v1h-1zM438 306h4v1h-4zM45 307h1v1h-1zM432 307h6v1h-6zM46 308h1v1h-1zM379 308h21v1h-21zM424 308h8v1h-8zM46 309h1v1h-1zM376 309h3v1h-3zM400 309h8v1h-8zM416 309h8v1h-8zM47 310h1v1h-1zM374 310h2v1h-2zM408 310h8v1h-8zM47 311h1v1h-1zM352 311h22v1h-22zM48 312h1v1h-1zM331 312h21v1h-21zM48 313h1v1h-1zM328 313h3v1h-3zM49 314h1v1h-1zM326 314h2v1h-2zM49 315h1v1h-1zM323 315h3v1h-3zM50 316h1v1h-1zM320 316h3v1h-3zM50 317h1v1h-1zM318 317h2v1h-2zM51 318h1v1h-1zM316 318h2v1h-2zM51 319h1v1h-1zM315 319h1v1h-1zM52 320h1v1h-1zM314 320h1v1h-1zM52 321h1v1h-1zM313 321h1v1h-1zM52 322h1v1h-1zM312 322h1v1h-1zM53 323h1v1h-1zM311 323h1v1h-1zM53 324h1v1h-1zM310 324h1v1h-1zM54 325h1v1h-1zM309 325h1v1h-1zM54 326h1v1h-1zM308 326h1v1h-1zM55 327h1v1h-1zM307 327h1v1h-1zM55 328h1v1h-1zM306 328h1v1h-1zM56 329h1v1h-1zM304 329h2v1h-2zM56 330h1v1h-1zM303 330h1v1h-1zM57 331h1v1h-1zM302 331h1v1h-1zM57 332h1v1h-1zM301 332h1v1h-1zM58 333h1v1h-1zM300 333h1v1h-1zM58 334h1v1h-1zM299 334h1v1h-1zM59 335h1v1h-1zM298 335h1v1h-1zM59 336h1v1h-1zM296 336h2v1h-2zM60 337h1v1h-1zM295 337h1v1h-1zM60 338h1v1h-1zM294 338h1v1h-1zM61 339h1v1h-1zM293 339h1v1h-1zM61 340h1v1h-1zM292 340h1v1h-1zM62 341h1v1h-1zM290 341h2v1h-2zM62 342h1v1h-1zM289 342h1v1h-1zM63 343h1v1h-1zM288 343h1v1h-1zM64 344h1v1h-1zM286 344h2v1h-2zM64 345h1v1h-1zM285 345h1v1h-1zM65 346h1v1h-1zM284 346h1v1h-1zM66 347h1v1h-1zM282 347h2v1h-2zM66 348h1v1h-1zM280 348h2v1h-2zM67 349h1v1h-1zM279 349h1v1h-1zM67 350h1v1h-1zM277 350h2v1h-2zM68 351h1v1h-1zM275 351h2v1h-2zM69 352h1v1h-1zM272 352h3v1h-3zM69 353h1v1h-1zM270 353h2v1h-2zM70 354h1v1h-1zM268 354h2v1h-2zM71 355h1v1h-1zM266 355h2v1h-2zM71 356h1v1h-1zM264 356h2v1h-2zM72 357h1v1h-1zM263 357h1v1h-1zM73 358h1v1h-1zM261 358h2v1h-2zM73 359h1v1h-1zM259 359h2v1h-2zM74 360h1v1h-1zM256 360h3v1h-3zM75 361h1v1h-1zM254 361h2v1h-2zM75 362h1v1h-1zM251 362h3v1h-3zM76 363h1v1h-1zM248 363h3v1h-3zM77 364h1v1h-1zM246 364h2v1h-2zM77 365h1v1h-1zM244 365h2v1h-2zM78 366h1v1h-1zM243 366h1v1h-1zM79 367h1v1h-1zM242 367h1v1h-1zM80 368h1v1h-1zM240 368h2v1h-2zM80 369h1v1h-1zM239 369h1v1h-1zM81 370h1v1h-1zM238 370h1v1h-1zM82 371h1v1h-1zM237 371h1v1h-1zM83 372h1v1h-1zM236 372h1v1h-1zM83 373h1v1h-1zM235 373h1v1h-1zM84 374h1v1h-1zM234 374h1v1h-1zM85 375h1v1h-1zM233 375h1v1h-1zM85 376h1v1h-1zM232 376h1v1h-1zM86 377h1v1h-1zM231 377h1v1h-1zM87 378h1v1h-1zM230 378h1v1h-1zM88 379h1v1h-1zM229 379h1v1h-1zM88 380h1v1h-1zM228 380h1v1h-1zM89 381h1v1h-1zM227 381h1v1h-1zM90 382h1v1h-1zM227 382h1v1h-1zM91 383h1v1h-1zM226 383h1v1h-1zM91 384h1v1h-1zM226 384h1v1h-1zM92 385h1v1h-1zM225 385h1v1h-1zM93 386h1v1h-1zM224 386h1v1h-1zM93 387h1v1h-1zM224 387h1v1h-1zM94 388h1v1h-1zM223 388h1v1h-1zM95 389h1v1h-1zM222 389h1v1h-1zM96 390h1v1h-1zM222 390h1v1h-1zM96 391h1v1h-1zM221 391h1v1h-1zM97 392h1v1h-1zM221 392h1v1h-1zM98 393h1v1h-1zM220 393h1v1h-1zM99 394h1v1h-1zM219 394h1v1h-1zM99 395h1v1h-1zM219 395h1v1h-1zM100 396h1v1h-1zM218 396h1v1h-1zM101 397h1v1h-1zM217 397h1v1h-1zM101 398h1v1h-1zM217 398h1v1h-1zM102 399h1v1h-1zM216 399h1v1h-1zM103 400h1v1h-1zM215 400h1v1h-1zM104 401h1v1h-1zM215 401h1v1h-1zM104 402h1v1h-1zM214 402h1v1h-1zM105 403h1v1h-1zM213 403h1v1h-1zM106 404h1v1h-1zM213 404h1v1h-1zM107 405h1v1h-1zM212 405h1v1h-1zM107 406h1v1h-1zM211 406h1v1h-1zM108 407h1v1h-1zM211 407h1v1h-1zM109 408h1v1h-1zM210 408h1v1h-1zM110 409h1v1h-1zM209 409h1v1h-1zM110 410h1v1h-1zM208 410h1v1h-1zM111 411h1v1h-1zM208 411h1v1h-1zM112 412h1v1h-1zM207 412h1v1h-1zM113 413h1v1h-1zM206 413h1v1h-1zM114 414h1v1h-1zM205 414h1v1h-1zM114 415h1v1h-1zM205 415h1v1h-1zM115 416h1v1h-1zM204 416h1v1h-1zM116 417h1v1h-1zM203 417h1v1h-1zM117 418h1v1h-1zM202 418h1v1h-1zM118 419h1v1h-1zM201 419h1v1h-1zM119 420h1v1h-1zM200 420h1v1h-1zM120 421h2v1h-2zM200 421h1v1h-1zM122 422h1v1h-1zM199 422h1v1h-1zM123 423h1v1h-1zM198 423h1v1h-1zM124 424h1v1h-1zM197 424h1v1h-1zM125 425h1v1h-1zM196 425h1v1h-1zM126 426h1v1h-1zM195 426h1v1h-1zM127 427h1v1h-1zM194 427h1v1h-1zM128 428h1v1h-1zM192 428h2v1h-2zM129 429h1v1h-1zM191 429h1v1h-1zM130 430h1v1h-1zM190 430h1v1h-1zM131 431h1v1h-1zM189 431h1v1h-1zM132 432h1v1h-1zM188 432h1v1h-1zM133 433h1v1h-1zM187 433h1v1h-1zM134 434h1v1h-1zM186 434h1v1h-1zM135 435h1v1h-1zM185 435h1v1h-1zM136 436h1v1h-1zM184 436h1v1h-1zM137 437h1v1h-1zM183 437h1v1h-1zM138 438h1v1h-1zM182 438h1v1h-1zM139 439h1v1h-1zM181 439h1v1h-1zM140 440h1v1h-1zM180 440h1v1h-1zM141 441h1v1h-1zM179 441h1v1h-1zM142 442h1v1h-1zM178 442h1v1h-1zM143 443h1v1h-1zM176 443h2v1h-2zM144 444h2v1h-2zM175 444h1v1h-1zM146 445h1v1h-1zM174 445h1v1h-1zM147 446h1v1h-1zM173 446h1v1h-1zM148 447h12v1h-12zM168 447h5v1h-5zM160 448h8v1h-8zM894 194h2v1h-2zM896 193h3v1h-3zM899 192h5v1h-5zM904 191h6v1h-6zM910 190h4v1h-4zM914 189h4v1h-4zM918 188h4v1h-4zM922 187h6v1h-6zM928 186h14v1h-14zM942 185h4v1h-4zM946 184h6v1h-6zM952 183h8v1h-8zM960 182h8v1h-8zM968 181h6v1h-6zM974 180h4v1h-4zM978 179h4v1h-4zM982 178h2v1h-2zM984 177h3v1h-3zM987 176h5v1h-5zM992 175h8v1h-8zM1000 174h6v1h-6zM1006 173h4v1h-4zM1010 172h4v1h-4zM1014 171h4v1h-4zM1018 170h4v1h-4zM1022 169h2v1h-2zM1024 168h3v1h-3zM1027 167h3v1h-3zM1030 166h2v1h-2zM1032 165h3v1h-3zM1035 164h3v1h-3zM1038 163h2v1h-2zM1040 162h3v1h-3zM1043 161h3v1h-3zM1046 160h4v1h-4zM1050 159h4v1h-4zM1054 158h2v1h-2zM1056 157h3v1h-3zM1059 156h2v1h-2zM1061 155h2v1h-2zM1063 154h2v1h-2zM1065 153h2v1h-2zM1067 152h3v1h-3zM1070 151h2v1h-2zM1072 150h3v1h-3zM1075 149h3v1h-3zM1078 148h4v1h-4zM1082 147h3v1h-3zM1085 146h2v1h-2zM1087 145h2v1h-2zM1089 144h2v1h-2zM1091 143h3v1h-3zM1094 142h2v1h-2zM1096 141h3v1h-3zM1099 140h2v1h-2zM1101 139h2v1h-2zM1103 138h2v1h-2zM1105 137h2v1h-2zM1107 136h2v1h-2zM1109 135h2v1h-2zM1111 134h2v1h-2zM1113 133h2v1h-2zM1115 132h2v1h-2zM1368 132h8v1h-8zM1384 132h16v1h-16zM1408 132h8v1h-8zM1117 131h2v1h-2zM1362 131h6v1h-6zM1376 131h8v1h-8zM1400 131h8v1h-8zM1416 131h8v1h-8zM1119 130h1v1h-1zM1358 130h4v1h-4zM1424 130h8v1h-8zM1120 129h2v1h-2zM1352 129h6v1h-6zM1432 129h5v1h-5zM1122 128h2v1h-2zM1346 128h6v1h-6zM1124 127h1v1h-1zM1342 127h4v1h-4zM1125 126h2v1h-2zM1340 126h2v1h-2zM1127 125h2v1h-2zM1338 125h2v1h-2zM1129 124h2v1h-2zM1336 124h2v1h-2zM1131 123h2v1h-2zM1335 123h1v1h-1zM1133 122h2v1h-2zM1333 122h2v1h-2zM1135 121h2v1h-2zM1332 121h1v1h-1zM1137 120h2v1h-2zM1330 120h2v1h-2zM1139 119h2v1h-2zM1328 119h2v1h-2zM1141 118h2v1h-2zM1327 118h1v1h-1zM1143 117h2v1h-2zM1325 117h2v1h-2zM1145 116h2v1h-2zM1323 116h2v1h-2zM1147 115h3v1h-3zM1321 115h2v1h-2zM1150 114h2v1h-2zM1319 114h2v1h-2zM1152 113h3v1h-3zM1317 113h2v1h-2zM1155 112h3v1h-3zM1315 112h2v1h-2zM1158 111h2v1h-2zM1313 111h2v1h-2zM1160 110h3v1h-3zM1311 110h2v1h-2zM1163 109h3v1h-3zM1309 109h2v1h-2zM1166 108h2v1h-2zM1307 108h2v1h-2zM1168 107h3v1h-3zM1304 107h3v1h-3zM1171 106h3v1h-3zM1302 106h2v1h-2zM1174 105h2v1h-2zM1298 105h4v1h-4zM1176 104h3v1h-3zM1294 104h4v1h-4zM1179 103h5v1h-5zM1290 103h4v1h-4zM1184 102h8v1h-8zM1286 102h4v1h-4zM1192 101h14v1h-14zM1218 101h6v1h-6zM1280 101h6v1h-6zM1206 100h4v1h-4zM1214 100h4v1h-4zM1224 100h56v1h-56zM1210 99h4v1h-4z"/>
<path fill="#3cb371" shape-rendering="crispEdges" d="M-4 386h1v1h-1zM309 386h1v1h-1zM-3 387h1v1h-1zM309 387h1v1h-1zM-3 388h1v1h-1zM308 388h1v1h-1zM-2 389h1v1h-1zM308 389h1v1h-1zM-2 390h1v1h-1zM308 390h1v1h-1zM-1 391h1v1h-1zM307 391h1v1h-1zM-1 392h1v1h-1zM307 392h1v1h-1zM0 393h1v1h-1zM307 393h1v1h-1zM0 394h1v1h-1zM306 394h1v1h-1zM1 395h1v1h-1zM306 395h1v1h-1zM1 396h1v1h-1zM306 396h1v1h-1zM2 397h1v1h-1zM305 397h1v1h-1zM2 398h1v1h-1zM305 398h1v1h-1zM3 399h1v1h-1zM305 399h1v1h-1zM3 400h1v1h-1zM304 400h1v1h-1zM4 401h1v1h-1zM304 401h1v1h-1zM4 402h1v1h-1zM303 402h1v1h-1zM5 403h1v1h-1zM303 403h1v1h-1zM5 404h1v1h-1zM303 404h1v1h-1zM6 405h1v1h-1zM302 405h1v1h-1zM6 406h1v1h-1zM302 406h1v1h-1zM7 407h1v1h-1zM302 407h1v1h-1zM7 408h1v1h-1zM301 408h1v1h-1zM7 409h1v1h-1zM301 409h1v1h-1zM8 410h1v1h-1zM301 410h1v1h-1zM8 411h1v1h-1zM300 411h1v1h-1zM9 412h1v1h-1zM300 412h1v1h-1zM9 413h1v1h-1zM300 413h1v1h-1zM9 414h1v1h-1zM299 414h1v1h-1zM10 415h1v1h-1zM299 415h1v1h-1zM10 416h1v1h-1zM298 416h1v1h-1zM11 417h1v1h-1zM298 417h1v1h-1zM11 418h1v1h-1zM297 418h1v1h-1zM12 419h1v1h-1zM297 419h1v1h-1zM12 420h1v1h-1zM296 420h1v1h-1zM12 421h1v1h-1zM296 421h1v1h-1zM13 422h1v1h-1zM295 422h1v1h-1zM13 423h1v1h-1zM295 423h1v1h-1zM13 424h1v1h-1zM294 424h1v1h-1zM14 425h1v1h-1zM294 425h1v1h-1zM14 426h1v1h-1zM293 426h1v1h-1zM14 427h1v1h-1zM293 427h1v1h-1zM15 428h1v1h-1zM292 428h1v1h-1zM15 429h1v1h-1zM292 429h1v1h-1zM15 430h1v1h-1zM291 430h1v1h-1zM16 431h1v1h-1zM291 431h1v1h-1zM16 432h1v1h-1zM290 432h1v1h-1zM16 433h1v1h-1zM290 433h1v1h-1zM16 434h1v1h-1zM289 434h1v1h-1zM17 435h1v1h-1zM289 435h1v1h-1zM17 436h1v1h-1zM288 436h1v1h-1zM17 437h1v1h-1zM288 437h1v1h-1zM18 438h1v1h-1zM287 438h1v1h-1zM18 439h1v1h-1zM287 439h1v1h-1zM18 440h1v1h-1zM286 440h1v1h-1zM19 441h1v1h-1zM286 441h1v1h-1zM19 442h1v1h-1zM285 442h1v1h-1zM19 443h1v1h-1zM285 443h1v1h-1zM20 444h1v1h-1zM284 444h1v1h-1zM20 445h1v1h-1zM283 445h1v1h-1zM20 446h1v1h-1zM282 446h1v1h-1zM21 447h1v1h-1zM281 447h1v1h-1zM21 448h1v1h-1zM280 448h1v1h-1zM21 449h1v1h-1zM279 449h1v1h-1zM22 450h1v1h-1zM278 450h1v1h-1zM22 451h1v1h-1zM277 451h1v1h-1zM22 452h1v1h-1zM275 452h2v1h-2zM23 453h1v1h-1zM272 453h3v1h-3zM23 454h1v1h-1zM270 454h2v1h-2zM23 455h1v1h-1zM268 455h2v1h-2zM24 456h1v1h-1zM267 456h1v1h-1zM24 457h1v1h-1zM266 457h1v1h-1zM24 458h1v1h-1zM266 458h1v1h-1zM24 459h1v1h-1zM265 459h1v1h-1zM25 460h1v1h-1zM264 460h1v1h-1zM25 461h1v1h-1zM263 461h1v1h-1zM25 462h1v1h-1zM262 462h1v1h-1zM26 463h1v1h-1zM262 463h1v1h-1zM26 464h1v1h-1zM261 464h1v1h-1zM26 465h1v1h-1zM260 465h1v1h-1zM27 466h1v1h-1zM259 466h1v1h-1zM27 467h1v1h-1zM258 467h1v1h-1zM27 468h1v1h-1zM256 468h2v1h-2zM28 469h1v1h-1zM255 469h1v1h-1zM28 470h1v1h-1zM254 470h1v1h-1zM28 471h1v1h-1zM253 471h1v1h-1zM29 472h1v1h-1zM244 472h9v1h-9zM29 473h1v1h-1zM243 473h1v1h-1zM29 474h1v1h-1zM242 474h1v1h-1zM30 475h1v1h-1zM240 475h2v1h-2zM30 476h1v1h-1zM239 476h1v1h-1zM30 477h1v1h-1zM238 477h1v1h-1zM31 478h1v1h-1zM237 478h1v1h-1zM31 479h1v1h-1zM236 479h1v1h-1zM31 480h1v1h-1zM235 480h1v1h-1zM32 481h1v1h-1zM234 481h1v1h-1zM32 482h1v1h-1zM233 482h1v1h-1zM33 483h1v1h-1zM232 483h1v1h-1zM33 484h1v1h-1zM231 484h1v1h-1zM33 485h1v1h-1zM230 485h1v1h-1zM34 486h1v1h-1zM229 486h1v1h-1zM34 487h1v1h-1zM228 487h1v1h-1zM34 488h1v1h-1zM228 488h1v1h-1zM35 489h1v1h-1zM227 489h1v1h-1zM35 490h1v1h-1zM227 490h1v1h-1zM35 491h1v1h-1zM227 491h1v1h-1zM36 492h1v1h-1zM226 492h1v1h-1zM36 493h1v1h-1zM226 493h1v1h-1zM36 494h1v1h-1zM226 494h1v1h-1zM37 495h1v1h-1zM226 495h1v1h-1zM37 496h1v1h-1zM225 496h1v1h-1zM37 497h1v1h-1zM225 497h1v1h-1zM38 498h1v1h-1zM225 498h1v1h-1zM38 499h1v1h-1zM224 499h1v1h-1zM38 500h1v1h-1zM224 500h1v1h-1zM38 501h1v1h-1zM224 501h1v1h-1zM39 502h1v1h-1zM223 502h1v1h-1zM39 503h1v1h-1zM223 503h1v1h-1zM39 504h1v1h-1zM223 504h1v1h-1zM40 505h1v1h-1zM222 505h1v1h-1zM40 506h1v1h-1zM222 506h1v1h-1zM40 507h1v1h-1zM222 507h1v1h-1zM41 508h1v1h-1zM222 508h1v1h-1zM41 509h1v1h-1zM221 509h1v1h-1zM41 510h1v1h-1zM221 510h1v1h-1zM42 511h1v1h-1zM221 511h1v1h-1zM42 512h1v1h-1zM220 512h1v1h-1zM42 513h1v1h-1zM220 513h1v1h-1zM42 514h1v1h-1zM220 514h1v1h-1zM43 515h1v1h-1zM220 515h1v1h-1zM43 516h1v1h-1zM219 516h1v1h-1zM43 517h1v1h-1zM219 517h1v1h-1zM44 518h1v1h-1zM219 518h1v1h-1zM44 519h1v1h-1zM219 519h1v1h-1zM44 520h1v1h-1zM218 520h1v1h-1zM44 521h1v1h-1zM218 521h1v1h-1zM45 522h1v1h-1zM218 522h1v1h-1zM45 523h1v1h-1zM218 523h1v1h-1zM45 524h1v1h-1zM217 524h1v1h-1zM45 525h1v1h-1zM217 525h1v1h-1zM46 526h1v1h-1zM217 526h1v1h-1zM46 527h1v1h-1zM217 527h1v1h-1zM46 528h1v1h-1zM216 528h1v1h-1zM46 529h1v1h-1zM216 529h1v1h-1zM46 530h1v1h-1zM216 530h1v1h-1zM47 531h1v1h-1zM216 531h1v1h-1zM47 532h1v1h-1zM215 532h1v1h-1zM47 533h1v1h-1zM215 533h1v1h-1zM47 534h1v1h-1zM215 534h1v1h-1zM47 535h1v1h-1zM215 535h1v1h-1zM48 536h1v1h-1zM214 536h1v1h-1zM48 537h1v1h-1zM214 537h1v1h-1zM48 538h1v1h-1zM214 538h1v1h-1zM48 539h1v1h-1zM214 539h1v1h-1zM49 540h1v1h-1zM213 540h1v1h-1zM49 541h1v1h-1zM213 541h1v1h-1zM49 542h1v1h-1zM213 542h1v1h-1zM49 543h1v1h-1zM213 543h1v1h-1zM49 544h1v1h-1zM212 544h1v1h-1zM50 545h1v1h-1zM212 545h1v1h-1zM50 546h1v1h-1zM211 546h1v1h-1zM50 547h1v1h-1zM211 547h1v1h-1zM50 548h1v1h-1zM210 548h1v1h-1zM50 549h1v1h-1zM210 549h1v1h-1zM51 550h1v1h-1zM209 550h1v1h-1zM51 551h1v1h-1zM208 551h1v1h-1zM51 552h1v1h-1zM208 552h1v1h-1zM51 553h1v1h-1zM207 553h1v1h-1zM52 554h1v1h-1zM206 554h1v1h-1zM52 555h1v1h-1zM206 555h1v1h-1zM52 556h1v1h-1zM205 556h1v1h-1zM52 557h1v1h-1zM205 557h1v1h-1zM52 558h1v1h-1zM162 558h4v1h-4zM204 558h1v1h-1zM53 559h1v1h-1zM158 559h4v1h-4zM166 559h4v1h-4zM203 559h1v1h-1zM53 560h1v1h-1zM152 560h6v1h-6zM170 560h3v1h-3zM202 560h1v1h-1zM53 561h1v1h-1zM148 561h4v1h-4zM173 561h2v1h-2zM201 561h1v1h-1zM53 562h1v1h-1zM147 562h1v1h-1zM175 562h1v1h-1zM200 562h1v1h-1zM54 563h1v1h-1zM146 563h1v1h-1zM176 563h2v1h-2zM199 563h1v1h-1zM54 564h1v1h-1zM145 564h1v1h-1zM178 564h2v1h-2zM198 564h1v1h-1zM54 565h1v1h-1zM144 565h1v1h-1zM180 565h2v1h-2zM197 565h1v1h-1zM54 566h1v1h-1zM143 566h1v1h-1zM182 566h2v1h-2zM194 566h3v1h-3zM54 567h1v1h-1zM142 567h1v1h-1zM184 567h3v1h-3zM190 567h4v1h-4zM55 568h1v1h-1zM141 568h1v1h-1zM187 568h3v1h-3zM55 569h1v1h-1zM140 569h1v1h-1zM55 570h1v1h-1zM139 570h1v1h-1zM55 571h1v1h-1zM138 571h1v1h-1zM55 572h1v1h-1zM137 572h1v1h-1zM56 573h1v1h-1zM136 573h1v1h-1zM56 574h1v1h-1zM136 574h1v1h-1zM56 575h1v1h-1zM135 575h1v1h-1zM56 576h1v1h-1zM134 576h1v1h-1zM57 577h1v1h-1zM133 577h1v1h-1zM57 578h1v1h-1zM132 578h1v1h-1zM57 579h1v1h-1zM131 579h1v1h-1zM57 580h1v1h-1zM130 580h1v1h-1zM57 581h1v1h-1zM129 581h1v1h-1zM58 582h1v1h-1zM128 582h1v1h-1zM58 583h1v1h-1zM128 583h1v1h-1zM58 584h1v1h-1zM127 584h1v1h-1zM58 585h1v1h-1zM126 585h1v1h-1zM58 586h1v1h-1zM125 586h1v1h-1zM59 587h1v1h-1zM124 587h1v1h-1zM59 588h1v1h-1zM123 588h1v1h-1zM59 589h1v1h-1zM122 589h1v1h-1zM59 590h1v1h-1zM121 590h1v1h-1zM60 591h1v1h-1zM120 591h1v1h-1zM60 592h1v1h-1zM120 592h1v1h-1zM60 593h1v1h-1zM119 593h1v1h-1zM60 594h1v1h-1zM118 594h1v1h-1zM61 595h1v1h-1zM117 595h1v1h-1zM61 596h1v1h-1zM116 596h1v1h-1zM62 597h1v1h-1zM116 597h1v1h-1zM62 598h1v1h-1zM115 598h1v1h-1zM63 599h1v1h-1zM115 599h1v1h-1zM63 600h1v1h-1zM115 600h1v1h-1zM63 601h1v1h-1zM114 601h1v1h-1zM64 602h1v1h-1zM114 602h1v1h-1zM64 603h1v1h-1zM113 603h1v1h-1zM65 604h1v1h-1zM113 604h1v1h-1zM65 605h1v1h-1zM113 605h1v1h-1zM65 606h1v1h-1zM112 606h1v1h-1zM66 607h1v1h-1zM112 607h1v1h-1zM66 608h1v1h-1zM112 608h1v1h-1zM67 609h1v1h-1zM111 609h1v1h-1zM67 610h1v1h-1zM111 610h1v1h-1zM68 611h1v1h-1zM111 611h1v1h-1zM68 612h1v1h-1zM110 612h1v1h-1zM68 613h1v1h-1zM110 613h1v1h-1zM69 614h1v1h-1zM109 614h1v1h-1zM69 615h1v1h-1zM109 615h1v1h-1zM70 616h1v1h-1zM109 616h1v1h-1zM70 617h1v1h-1zM108 617h1v1h-1zM71 618h1v1h-1zM108 618h1v1h-1zM71 619h1v1h-1zM108 619h1v1h-1zM71 620h1v1h-1zM107 620h1v1h-1zM72 621h1v1h-1zM107 621h1v1h-1zM72 622h1v1h-1zM107 622h1v1h-1zM73 623h1v1h-1zM106 623h1v1h-1zM73 624h1v1h-1zM106 624h1v1h-1zM73 625h1v1h-1zM105 625h1v1h-1zM74 626h1v1h-1zM105 626h1v1h-1zM74 627h1v1h-1zM105 627h1v1h-1zM75 628h1v1h-1zM104 628h1v1h-1zM75 629h1v1h-1zM104 629h1v1h-1zM76 630h1v1h-1zM104 630h1v1h-1zM76 631h1v1h-1zM103 631h1v1h-1zM77 632h1v1h-1zM103 632h1v1h-1zM78 633h1v1h-1zM103 633h1v1h-1zM79 634h1v1h-1zM102 634h1v1h-1zM80 635h1v1h-1zM102 635h1v1h-1zM80 636h1v1h-1zM101 636h1v1h-1zM81 637h1v1h-1zM101 637h1v1h-1zM82 638h1v1h-1zM101 638h1v1h-1zM83 639h1v1h-1zM100 639h1v1h-1zM84 640h17v1h-17zM309 385h1v1h-1zM310 384h1v1h-1zM310 383h1v1h-1zM310 382h1v1h-1zM311 381h1v1h-1zM311 380h1v1h-1zM311 379h1v1h-1zM312 378h1v1h-1zM312 377h1v1h-1zM313 376h1v1h-1zM313 375h1v1h-1zM313 374h1v1h-1zM314 373h1v1h-1zM314 372h1v1h-1zM314 371h1v1h-1zM315 370h1v1h-1zM315 369h1v1h-1zM315 368h1v1h-1zM316 367h1v1h-1zM316 366h1v1h-1zM317 365h1v1h-1zM318 364h1v1h-1zM319 363h1v1h-1zM320 362h2v1h-2zM322 361h1v1h-1zM323 360h1v1h-1zM324 359h1v1h-1zM325 358h1v1h-1zM326 357h1v1h-1zM326 356h1v1h-1zM327 355h1v1h-1zM328 354h1v1h-1zM329 353h1v1h-1zM330 352h1v1h-1zM330 351h1v1h-1zM331 350h1v1h-1zM336 350h14v1h-14zM410 350h3v1h-3zM332 349h4v1h-4zM350 349h4v1h-4zM406 349h4v1h-4zM413 349h2v1h-2zM354 348h20v1h-20zM402 348h4v1h-4zM415 348h2v1h-2zM374 347h2v1h-2zM398 347h4v1h-4zM417 347h2v1h-2zM555 347h2v1h-2zM376 346h3v1h-3zM384 346h14v1h-14zM419 346h3v1h-3zM552 346h3v1h-3zM557 346h2v1h-2zM379 345h5v1h-5zM422 345h4v1h-4zM512 345h6v1h-6zM550 345h2v1h-2zM559 345h1v1h-1zM426 344h4v1h-4zM507 344h5v1h-5zM518 344h4v1h-4zM546 344h4v1h-4zM560 344h2v1h-2zM430 343h2v1h-2zM442 343h4v1h-4zM464 343h8v1h-8zM480 343h8v1h-8zM505 343h2v1h-2zM522 343h6v1h-6zM542 343h4v1h-4zM562 343h2v1h-2zM432 342h3v1h-3zM438 342h4v1h-4zM446 342h4v1h-4zM456 342h8v1h-8zM472 342h8v1h-8zM488 342h6v1h-6zM503 342h2v1h-2zM528 342h14v1h-14zM564 342h1v1h-1zM435 341h3v1h-3zM450 341h6v1h-6zM494 341h4v1h-4zM501 341h2v1h-2zM565 341h2v1h-2zM498 340h3v1h-3zM567 340h2v1h-2zM569 339h2v1h-2zM571 338h3v1h-3zM574 337h4v1h-4zM578 336h3v1h-3zM581 335h2v1h-2zM583 334h2v1h-2zM585 333h2v1h-2zM587 332h2v1h-2zM589 331h1v1h-1zM590 330h1v1h-1zM591 329h1v1h-1zM592 328h1v1h-1zM593 327h1v1h-1zM594 326h1v1h-1zM595 325h1v1h-1zM596 324h1v1h-1zM597 323h2v1h-2zM599 322h1v1h-1zM600 321h2v1h-2zM602 320h2v1h-2zM604 319h1v1h-1zM605 318h1v1h-1zM606 317h1v1h-1zM607 316h1v1h-1zM608 315h2v1h-2zM610 314h1v1h-1zM611 313h1v1h-1zM612 312h1v1h-1zM613 311h1v1h-1zM614 310h2v1h-2zM616 309h1v1h-1zM617 308h1v1h-1zM618 307h2v1h-2zM620 306h1v1h-1zM621 305h2v1h-2zM623 304h1v1h-1zM624 303h2v1h-2zM626 302h2v1h-2zM628 301h1v1h-1zM629 300h1v1h-1zM630 299h1v1h-1zM631 298h1v1h-1zM632 297h1v1h-1zM632 296h1v1h-1zM633 295h1v1h-1zM634 294h1v1h-1zM635 293h1v1h-1zM636 292h1v1h-1zM637 291h1v1h-1zM638 290h1v1h-1zM639 289h1v1h-1zM640 288h1v1h-1zM640 287h1v1h-1zM641 286h1v1h-1zM642 285h1v1h-1zM643 284h1v1h-1zM644 283h1v1h-1zM645 282h1v1h-1zM646 281h1v1h-1zM647 280h1v1h-1zM648 279h1v1h-1zM649 278h1v1h-1zM728 278h6v1h-6zM650 277h1v1h-1zM724 277h4v1h-4zM734 277h2v1h-2zM651 276h1v1h-1zM723 276h1v1h-1zM736 276h3v1h-3zM652 275h1v1h-1zM722 275h1v1h-1zM739 275h2v1h-2zM653 274h1v1h-1zM720 274h2v1h-2zM741 274h1v1h-1zM654 273h1v1h-1zM719 273h1v1h-1zM742 273h2v1h-2zM655 272h1v1h-1zM718 272h1v1h-1zM744 272h1v1h-1zM656 271h2v1h-2zM717 271h1v1h-1zM745 271h1v1h-1zM658 270h1v1h-1zM716 270h1v1h-1zM746 270h2v1h-2zM659 269h1v1h-1zM664 269h8v1h-8zM715 269h1v1h-1zM748 269h1v1h-1zM660 268h4v1h-4zM672 268h6v1h-6zM714 268h1v1h-1zM749 268h1v1h-1zM678 267h2v1h-2zM712 267h2v1h-2zM750 267h1v1h-1zM680 266h3v1h-3zM711 266h1v1h-1zM751 266h1v1h-1zM683 265h2v1h-2zM710 265h1v1h-1zM752 265h1v1h-1zM685 264h2v1h-2zM709 264h1v1h-1zM752 264h1v1h-1zM687 263h2v1h-2zM706 263h3v1h-3zM753 263h1v1h-1zM689 262h2v1h-2zM702 262h4v1h-4zM754 262h1v1h-1zM691 261h11v1h-11zM755 261h1v1h-1zM756 260h1v1h-1zM757 259h2v1h-2zM759 258h1v1h-1zM848 258h6v1h-6zM760 257h2v1h-2zM843 257h5v1h-5zM854 257h4v1h-4zM762 256h2v1h-2zM840 256h3v1h-3zM858 256h6v1h-6zM764 255h4v1h-4zM776 255h6v1h-6zM838 255h2v1h-2zM864 255h5v1h-5zM768 254h8v1h-8zM782 254h2v1h-2zM835 254h3v1h-3zM869 254h1v1h-1zM784 253h3v1h-3zM833 253h2v1h-2zM870 253h1v1h-1zM787 252h13v1h-13zM831 252h2v1h-2zM871 252h1v1h-1zM800 251h24v1h-24zM829 251h2v1h-2zM872 251h2v1h-2zM824 250h5v1h-5zM874 250h1v1h-1zM875 249h1v1h-1zM876 248h1v1h-1zM877 247h1v1h-1zM878 246h1v1h-1zM879 245h1v1h-1zM880 244h1v1h-1zM880 243h1v1h-1zM881 242h1v1h-1zM882 241h1v1h-1zM883 240h1v1h-1zM884 239h2v1h-2zM886 238h2v1h-2zM888 237h3v1h-3zM891 236h3v1h-3zM894 235h2v1h-2zM896 234h3v1h-3zM899 233h2v1h-2zM901 232h2v1h-2zM903 231h2v1h-2zM905 230h2v1h-2zM907 229h3v1h-3zM910 228h2v1h-2zM912 227h3v1h-3zM915 226h2v1h-2zM917 225h2v1h-2zM919 224h1v1h-1zM920 223h2v1h-2zM922 222h2v1h-2zM924 221h2v1h-2zM926 220h2v1h-2zM928 219h3v1h-3zM931 218h5v1h-5zM936 217h5v1h-5zM941 216h2v1h-2zM943 215h2v1h-2zM1048 215h8v1h-8zM945 214h2v1h-2zM1042 214h6v1h-6zM1056 214h6v1h-6zM947 213h3v1h-3zM1038 213h4v1h-4zM1062 213h2v1h-2zM950 212h4v1h-4zM1034 212h4v1h-4zM1064 212h3v1h-3zM954 211h3v1h-3zM1030 211h4v1h-4zM1067 211h2v1h-2zM957 210h1v1h-1zM1027 210h3v1h-3zM1069 210h2v1h-2zM958 209h2v1h-2zM1024 209h3v1h-3zM1071 209h2v1h-2zM960 208h1v1h-1zM1022 208h2v1h-2zM1073 208h2v1h-2zM961 207h1v1h-1zM1019 207h3v1h-3zM1075 207h2v1h-2zM962 206h2v1h-2zM1016 206h3v1h-3zM1077 206h2v1h-2zM964 205h1v1h-1zM1014 205h2v1h-2zM1079 205h2v1h-2zM965 204h2v1h-2zM1010 204h4v1h-4zM1081 204h2v1h-2zM967 203h2v1h-2zM1006 203h4v1h-4zM1083 203h2v1h-2zM969 202h2v1h-2zM1003 202h3v1h-3zM1085 202h2v1h-2zM971 201h3v1h-3zM1000 201h3v1h-3zM1087 201h1v1h-1zM974 200h2v1h-2zM998 200h2v1h-2zM1088 200h2v1h-2zM976 199h3v1h-3zM995 199h3v1h-3zM1090 199h2v1h-2zM979 198h3v1h-3zM992 198h3v1h-3zM1092 198h1v1h-1zM982 197h4v1h-4zM990 197h2v1h-2zM1093 197h1v1h-1zM986 196h4v1h-4zM1094 196h2v1h-2zM1096 195h1v1h-1zM1097 194h1v1h-1zM1098 193h2v1h-2zM1100 192h1v1h-1zM1101 191h1v1h-1zM1102 190h2v1h-2zM1104 189h1v1h-1zM1105 188h1v1h-1zM1106 187h2v1h-2zM1108 186h1v1h-1zM1109 185h1v1h-1zM1110 184h1v1h-1zM1111 183h1v1h-1zM1112 182h1v1h-1zM1113 181h1v1h-1zM1114 180h1v1h-1zM1115 179h1v1h-1zM1116 178h1v1h-1zM1117 177h1v1h-1zM1118 176h1v1h-1zM1118 175h1v1h-1zM1435 175h2v1h-2zM1119 174h1v1h-1zM1432 174h3v1h-3zM1120 173h1v1h-1zM1430 173h2v1h-2zM1121 172h1v1h-1zM1332 172h2v1h-2zM1360 172h6v1h-6zM1426 172h4v1h-4zM1122 171h1v1h-1zM1330 171h2v1h-2zM1334 171h2v1h-2zM1346 171h14v1h-14zM1366 171h4v1h-4zM1422 171h4v1h-4zM1122 170h1v1h-1zM1328 170h2v1h-2zM1336 170h3v1h-3zM1342 170h4v1h-4zM1370 170h6v1h-6zM1416 170h6v1h-6zM1123 169h1v1h-1zM1327 169h1v1h-1zM1339 169h3v1h-3zM1376 169h8v1h-8zM1400 169h16v1h-16zM1124 168h1v1h-1zM1325 168h2v1h-2zM1384 168h16v1h-16zM1125 167h1v1h-1zM1324 167h1v1h-1zM1126 166h1v1h-1zM1323 166h1v1h-1zM1127 165h1v1h-1zM1323 165h1v1h-1zM1128 164h1v1h-1zM1322 164h1v1h-1zM1128 163h1v1h-1zM1321 163h1v1h-1zM1129 162h1v1h-1zM1320 162h1v1h-1zM1130 161h1v1h-1zM1320 161h1v1h-1zM1131 160h1v1h-1zM1319 160h1v1h-1zM1132 159h1v1h-1zM1318 159h1v1h-1zM1133 158h1v1h-1zM1317 158h1v1h-1zM1134 157h2v1h-2zM1317 157h1v1h-1zM1136 156h1v1h-1zM1315 156h2v1h-2zM1137 155h1v1h-1zM1312 155h3v1h-3zM1138 154h2v1h-2zM1310 154h2v1h-2zM1140 153h2v1h-2zM1308 153h2v1h-2zM1142 152h2v1h-2zM1306 152h2v1h-2zM1144 151h3v1h-3zM1305 151h1v1h-1zM1147 150h3v1h-3zM1304 150h1v1h-1zM1150 149h4v1h-4zM1302 149h2v1h-2zM1154 148h3v1h-3zM1301 148h1v1h-1zM1157 147h2v1h-2zM1299 147h2v1h-2zM1159 146h2v1h-2zM1296 146h3v1h-3zM1161 145h2v1h-2zM1294 145h2v1h-2zM1163 144h3v1h-3zM1291 144h3v1h-3zM1166 143h2v1h-2zM1178 143h4v1h-4zM1288 143h3v1h-3zM1168 142h3v1h-3zM1174 142h4v1h-4zM1182 142h2v1h-2zM1286 142h2v1h-2zM1171 141h3v1h-3zM1184 141h3v1h-3zM1220 141h2v1h-2zM1282 141h4v1h-4zM1187 140h5v1h-5zM1218 140h2v1h-2zM1222 140h4v1h-4zM1232 140h16v1h-16zM1278 140h4v1h-4zM1192 139h14v1h-14zM1216 139h2v1h-2zM1226 139h6v1h-6zM1248 139h8v1h-8zM1264 139h14v1h-14zM1206 138h2v1h-2zM1215 138h1v1h-1zM1256 138h8v1h-8zM1208 137h3v1h-3zM1213 137h2v1h-2zM1211 136h2v1h-2z"/>
<g shape-rendering="crispEdges">
<rect x="4" y="338" width="1" height="5" fill="#000"/>
<rect x="4" y="447" width="1" height="21" fill="#000"/>
<rect x="2" y="343" width="5" height="104" fill="#000"/>
<rect x="3" y="344" width="3" height="102" fill="#fff"/>
<rect x="12" y="392" width="1" height="1" fill="#000"/>
<rect x="10" y="393" width="5" height="2" fill="#000"/>
<rect x="20" y="455" width="1" height="28" fill="#000"/>
<rect x="18" y="394" width="5" height="61" fill="#000"/>
<rect x="28" y="420" width="1" height="34" fill="#000"/>
<rect x="28" y="475" width="1" height="17" fill="#000"/>
<rect x="26" y="454" width="5" height="21" fill="#000"/>
<rect x="36" y="458" width="1" height="15" fill="#000"/>
<rect x="36" y="476" width="1" height="68" fill="#000"/>
<rect x="34" y="473" width="5" height="3" fill="#000"/>
<rect x="44" y="469" width="1" height="6" fill="#000"/>
<rect x="44" y="504" width="1" height="37" fill="#000"/>
<rect x="42" y="475" width="5" height="29" fill="#000"/>
<rect x="52" y="444" width="1" height="59" fill="#000"/>
<rect x="52" y="532" width="1" height="3" fill="#000"/>
<rect x="50" y="503" width="5" height="29" fill="#000"/>
<rect x="60" y="557" width="1" height="13" fill="#000"/>
<rect x="58" y="570" width="5" height="8" fill="#000"/>
<rect x="59" y="571" width="3" height="6" fill="#fff"/>
<rect x="68" y="495" width="1" height="49" fill="#000"/>
<rect x="68" y="571" width="1" height="8" fill="#000"/>
<rect x="66" y="544" width="5" height="27" fill="#000"/>
<rect x="67" y="545" width="3" height="25" fill="#fff"/>
<rect x="76" y="440" width="1" height="21" fill="#000"/>
<rect x="76" y="545" width="1" height="5" fill="#000"/>
<rect x="74" y="461" width="5" height="84" fill="#000"/>
<rect x="75" y="462" width="3" height="82" fill="#fff"/>
<rect x="84" y="397" width="1" height="37" fill="#000"/>
<rect x="84" y="463" width="1" height="10" fill="#000"/>
<rect x="82" y="434" width="5" height="29" fill="#000"/>
<rect x="83" y="435" width="3" height="27" fill="#fff"/>
<rect x="92" y="367" width="1" height="1" fill="#000"/>
<rect x="92" y="435" width="1" height="27" fill="#000"/>
<rect x="90" y="368" width="5" height="67" fill="#000"/>
<rect x="91" y="369" width="3" height="65" fill="#fff"/>
<rect x="100" y="367" width="1" height="1" fill="#000"/>
<rect x="100" y="418" width="1" height="6" fill="#000"/>
<rect x="98" y="368" width="5" height="50" fill="#000"/>
<rect x="108" y="428" width="1" height="4" fill="#000"/>
<rect x="108" y="438" width="1" height="2" fill="#000"/>
<rect x="106" y="432" width="5" height="6" fill="#000"/>
<rect x="107" y="433" width="3" height="4" fill="#fff"/>
<rect x="116" y="378" width="1" height="4" fill="#000"/>
<rect x="116" y="433" width="1" height="3" fill="#000"/>
<rect x="114" y="382" width="5" height="51" fill="#000"/>
<rect x="115" y="383" width="3" height="49" fill="#fff"/>
<rect x="124" y="373" width="1" height="8" fill="#000"/>
<rect x="124" y="416" width="1" height="1" fill="#000"/>
<rect x="122" y="381" width="5" height="35" fill="#000"/>
<rect x="132" y="412" width="1" height="3" fill="#000"/>
<rect x="132" y="442" width="1" height="14" fill="#000"/>
<rect x="130" y="415" width="5" height="27" fill="#000"/>
<rect x="140" y="420" width="1" height="11" fill="#000"/>
<rect x="140" y="442" width="1" height="21" fill="#000"/>
<rect x="138" y="431" width="5" height="11" fill="#000"/>
<rect x="139" y="432" width="3" height="9" fill="#fff"/>
<rect x="148" y="423" width="1" height="8" fill="#000"/>
<rect x="148" y="442" width="1" height="9" fill="#000"/>
<rect x="146" y="431" width="5" height="11" fill="#000"/>
<rect x="156" y="426" width="1" height="1" fill="#000"/>
<rect x="156" y="430" width="1" height="1" fill="#000"/>
<rect x="154" y="427" width="5" height="3" fill="#000"/>
<rect x="155" y="428" width="3" height="1" fill="#fff"/>
<rect x="164" y="360" width="1" height="1" fill="#000"/>
<rect x="164" y="428" width="1" height="1" fill="#000"/>
<rect x="162" y="361" width="5" height="67" fill="#000"/>
<rect x="163" y="362" width="3" height="65" fill="#fff"/>
<rect x="172" y="322" width="1" height="40" fill="#000"/>
<rect x="172" y="367" width="1" height="11" fill="#000"/>
<rect x="170" y="362" width="5" height="5" fill="#000"/>
<rect x="180" y="324" width="1" height="1" fill="#000"/>
<rect x="180" y="367" width="1" height="13" fill="#000"/>
<rect x="178" y="325" width="5" height="42" fill="#000"/>
<rect x="179" y="326" width="3" height="40" fill="#fff"/>
<rect x="188" y="302" width="1" height="10" fill="#000"/>
<rect x="188" y="327" width="1" height="17" fill="#000"/>
<rect x="186" y="312" width="5" height="15" fill="#000"/>
<rect x="187" y="313" width="3" height="13" fill="#fff"/>
<rect x="196" y="322" width="1" height="2" fill="#000"/>
<rect x="196" y="330" width="1" height="2" fill="#000"/>
<rect x="194" y="324" width="5" height="6" fill="#000"/>
<rect x="204" y="315" width="1" height="11" fill="#000"/>
<rect x="204" y="329" width="1" height="17" fill="#000"/>
<rect x="202" y="326" width="5" height="3" fill="#000"/>
<rect x="203" y="327" width="3" height="1" fill="#fff"/>
<rect x="212" y="299" width="1" height="6" fill="#000"/>
<rect x="212" y="327" width="1" height="6" fill="#000"/>
<rect x="210" y="305" width="5" height="22" fill="#000"/>
<rect x="211" y="306" width="3" height="20" fill="#fff"/>
<rect x="220" y="335" width="1" height="5" fill="#000"/>
<rect x="218" y="304" width="5" height="31" fill="#000"/>
<rect x="228" y="282" width="1" height="7" fill="#000"/>
<rect x="228" y="335" width="1" height="6" fill="#000"/>
<rect x="226" y="289" width="5" height="46" fill="#000"/>
<rect x="227" y="290" width="3" height="44" fill="#fff"/>
<rect x="236" y="282" width="1" height="7" fill="#000"/>
<rect x="236" y="290" width="1" height="22" fill="#000"/>
<rect x="234" y="289" width="5" height="1" fill="#000"/>
<rect x="244" y="296" width="1" height="2" fill="#000"/>
<rect x="244" y="299" width="1" height="2" fill="#000"/>
<rect x="242" y="298" width="5" height="1" fill="#000"/>
<rect x="252" y="287" width="1" height="10" fill="#000"/>
<rect x="252" y="319" width="1" height="5" fill="#000"/>
<rect x="250" y="297" width="5" height="22" fill="#000"/>
<rect x="260" y="312" width="1" height="6" fill="#000"/>
<rect x="260" y="344" width="1" height="10" fill="#000"/>
<rect x="258" y="318" width="5" height="26" fill="#000"/>
<rect x="268" y="321" width="1" height="10" fill="#000"/>
<rect x="268" y="344" width="1" height="10" fill="#000"/>
<rect x="266" y="331" width="5" height="13" fill="#000"/>
<rect x="267" y="332" width="3" height="11" fill="#fff"/>
<rect x="276" y="308" width="1" height="22" fill="#000"/>
<rect x="276" y="332" width="1" height="2" fill="#000"/>
<rect x="274" y="330" width="5" height="2" fill="#000"/>
<rect x="284" y="310" width="1" height="3" fill="#000"/>
<rect x="284" y="332" width="1" height="6" fill="#000"/>
<rect x="282" y="313" width="5" height="19" fill="#000"/>
<rect x="283" y="314" width="3" height="17" fill="#fff"/>
<rect x="292" y="314" width="1" height="2" fill="#000"/>
<rect x="290" y="316" width="5" height="2" fill="#000"/>
<rect x="300" y="292" width="1" height="5" fill="#000"/>
<rect x="300" y="316" width="1" height="2" fill="#000"/>
<rect x="298" y="297" width="5" height="19" fill="#000"/>
<rect x="299" y="298" width="3" height="17" fill="#fff"/>
<rect x="308" y="276" width="1" height="18" fill="#000"/>
<rect x="308" y="298" width="1" height="5" fill="#000"/>
<rect x="306" y="294" width="5" height="4" fill="#000"/>
<rect x="307" y="295" width="3" height="2" fill="#fff"/>
<rect x="316" y="265" width="1" height="4" fill="#000"/>
<rect x="316" y="295" width="1" height="1" fill="#000"/>
<rect x="314" y="269" width="5" height="26" fill="#000"/>
<rect x="315" y="270" width="3" height="24" fill="#fff"/>
<rect x="324" y="260" width="1" height="9" fill="#000"/>
<rect x="324" y="296" width="1" height="8" fill="#000"/>
<rect x="322" y="269" width="5" height="27" fill="#000"/>
<rect x="332" y="293" width="1" height="2" fill="#000"/>
<rect x="332" y="316" width="1" height="4" fill="#000"/>
<rect x="330" y="295" width="5" height="21" fill="#000"/>
<rect x="340" y="329" width="1" height="2" fill="#000"/>
<rect x="340" y="333" width="1" height="2" fill="#000"/>
<rect x="338" y="331" width="5" height="2" fill="#000"/>
<rect x="348" y="313" width="1" height="1" fill="#000"/>
<rect x="348" y="333" width="1" height="2" fill="#000"/>
<rect x="346" y="314" width="5" height="19" fill="#000"/>
<rect x="347" y="315" width="3" height="17" fill="#fff"/>
<rect x="356" y="294" width="1" height="11" fill="#000"/>
<rect x="354" y="305" width="5" height="10" fill="#000"/>
<rect x="355" y="306" width="3" height="8" fill="#fff"/>
<rect x="364" y="296" width="1" height="9" fill="#000"/>
<rect x="364" y="321" width="1" height="4" fill="#000"/>
<rect x="362" y="305" width="5" height="16" fill="#000"/>
<rect x="372" y="296" width="1" height="3" fill="#000"/>
<rect x="370" y="299" width="5" height="22" fill="#000"/>
<rect x="371" y="300" width="3" height="20" fill="#fff"/>
<rect x="378" y="283" width="5" height="17" fill="#000"/>
<rect x="379" y="284" width="3" height="15" fill="#fff"/>
<rect x="388" y="277" width="1" height="2" fill="#000"/>
<rect x="386" y="279" width="5" height="6" fill="#000"/>
<rect x="387" y="280" width="3" height="4" fill="#fff"/>
<rect x="396" y="275" width="1" height="4" fill="#000"/>
<rect x="396" y="294" width="1" height="5" fill="#000"/>
<rect x="394" y="279" width="5" height="15" fill="#000"/>
<rect x="404" y="283" width="1" height="10" fill="#000"/>
<rect x="402" y="293" width="5" height="34" fill="#000"/>
<rect x="412" y="307" width="1" height="17" fill="#000"/>
<rect x="412" y="335" width="1" height="11" fill="#000"/>
<rect x="410" y="324" width="5" height="11" fill="#000"/>
<rect x="420" y="335" width="1" height="24" fill="#000"/>
<rect x="418" y="315" width="5" height="20" fill="#000"/>
<rect x="419" y="316" width="3" height="18" fill="#fff"/>
<rect x="428" y="312" width="1" height="3" fill="#000"/>
<rect x="428" y="321" width="1" height="12" fill="#000"/>
<rect x="426" y="315" width="5" height="6" fill="#000"/>
<rect x="436" y="308" width="1" height="3" fill="#000"/>
<rect x="434" y="311" width="5" height="1" fill="#000"/>
<rect x="444" y="267" width="1" height="4" fill="#000"/>
<rect x="444" y="312" width="1" height="1" fill="#000"/>
<rect x="442" y="271" width="5" height="41" fill="#000"/>
<rect x="443" y="272" width="3" height="39" fill="#fff"/>
<rect x="452" y="260" width="1" height="10" fill="#000"/>
<rect x="452" y="288" width="1" height="6" fill="#000"/>
<rect x="450" y="270" width="5" height="18" fill="#000"/>
<rect x="460" y="269" width="1" height="5" fill="#000"/>
<rect x="458" y="274" width="5" height="14" fill="#000"/>
<rect x="459" y="275" width="3" height="12" fill="#fff"/>
<rect x="468" y="265" width="1" height="9" fill="#000"/>
<rect x="468" y="275" width="1" height="9" fill="#000"/>
<rect x="466" y="274" width="5" height="1" fill="#000"/>
<rect x="476" y="273" width="1" height="1" fill="#000"/>
<rect x="476" y="278" width="1" height="15" fill="#000"/>
<rect x="474" y="274" width="5" height="4" fill="#000"/>
<rect x="484" y="270" width="1" height="1" fill="#000"/>
<rect x="484" y="273" width="1" height="1" fill="#000"/>
<rect x="482" y="271" width="5" height="2" fill="#000"/>
<rect x="492" y="262" width="1" height="4" fill="#000"/>
<rect x="492" y="272" width="1" height="6" fill="#000"/>
<rect x="490" y="266" width="5" height="6" fill="#000"/>
<rect x="491" y="267" width="3" height="4" fill="#fff"/>
<rect x="500" y="244" width="1" height="7" fill="#000"/>
<rect x="500" y="267" width="1" height="1" fill="#000"/>
<rect x="498" y="251" width="5" height="16" fill="#000"/>
<rect x="499" y="252" width="3" height="14" fill="#fff"/>
<rect x="508" y="252" width="1" height="3" fill="#000"/>
<rect x="506" y="219" width="5" height="33" fill="#000"/>
<rect x="507" y="220" width="3" height="31" fill="#fff"/>
<rect x="516" y="212" width="1" height="8" fill="#000"/>
<rect x="514" y="220" width="5" height="16" fill="#000"/>
<rect x="524" y="235" width="1" height="15" fill="#000"/>
<rect x="522" y="227" width="5" height="8" fill="#000"/>
<rect x="523" y="228" width="3" height="6" fill="#fff"/>
<rect x="532" y="242" width="1" height="1" fill="#000"/>
<rect x="530" y="238" width="5" height="4" fill="#000"/>
<rect x="531" y="239" width="3" height="2" fill="#fff"/>
<rect x="540" y="225" width="1" height="10" fill="#000"/>
<rect x="540" y="239" width="1" height="3" fill="#000"/>
<rect x="538" y="235" width="5" height="4" fill="#000"/>
<rect x="539" y="236" width="3" height="2" fill="#fff"/>
<rect x="548" y="211" width="1" height="1" fill="#000"/>
<rect x="546" y="212" width="5" height="23" fill="#000"/>
<rect x="547" y="213" width="3" height="21" fill="#fff"/>
<rect x="556" y="186" width="1" height="2" fill="#000"/>
<rect x="556" y="213" width="1" height="2" fill="#000"/>
<rect x="554" y="188" width="5" height="25" fill="#000"/>
<rect x="555" y="189" width="3" height="23" fill="#fff"/>
<rect x="564" y="185" width="1" height="3" fill="#000"/>
<rect x="564" y="192" width="1" height="9" fill="#000"/>
<rect x="562" y="188" width="5" height="4" fill="#000"/>
<rect x="572" y="140" width="1" height="12" fill="#000"/>
<rect x="570" y="152" width="5" height="41" fill="#000"/>
<rect x="571" y="153" width="3" height="39" fill="#fff"/>
<rect x="580" y="141" width="1" height="2" fill="#000"/>
<rect x="580" y="146" width="1" height="1" fill="#000"/>
<rect x="578" y="143" width="5" height="3" fill="#000"/>
<rect x="579" y="144" width="3" height="1" fill="#fff"/>
<rect x="588" y="127" width="1" height="3" fill="#000"/>
<rect x="588" y="144" width="1" height="11" fill="#000"/>
<rect x="586" y="130" width="5" height="14" fill="#000"/>
<rect x="587" y="131" width="3" height="12" fill="#fff"/>
<rect x="596" y="125" width="1" height="5" fill="#000"/>
<rect x="596" y="140" width="1" height="11" fill="#000"/>
<rect x="594" y="130" width="5" height="10" fill="#000"/>
<rect x="604" y="133" width="1" height="6" fill="#000"/>
<rect x="604" y="169" width="1" height="1" fill="#000"/>
<rect x="602" y="139" width="5" height="30" fill="#000"/>
<rect x="612" y="161" width="1" height="6" fill="#000"/>
<rect x="612" y="234" width="1" height="14" fill="#000"/>
<rect x="610" y="167" width="5" height="67" fill="#000"/>
<rect x="620" y="205" width="1" height="19" fill="#000"/>
<rect x="620" y="233" width="1" height="15" fill="#000"/>
<rect x="618" y="224" width="5" height="9" fill="#000"/>
<rect x="619" y="225" width="3" height="7" fill="#fff"/>
<rect x="628" y="235" width="1" height="1" fill="#000"/>
<rect x="628" y="241" width="1" height="3" fill="#000"/>
<rect x="626" y="236" width="5" height="5" fill="#000"/>
<rect x="636" y="241" width="1" height="31" fill="#000"/>
<rect x="634" y="200" width="5" height="41" fill="#000"/>
<rect x="635" y="201" width="3" height="39" fill="#fff"/>
<rect x="644" y="166" width="1" height="25" fill="#000"/>
<rect x="644" y="201" width="1" height="12" fill="#000"/>
<rect x="642" y="191" width="5" height="10" fill="#000"/>
<rect x="643" y="192" width="3" height="8" fill="#fff"/>
<rect x="652" y="180" width="1" height="11" fill="#000"/>
<rect x="652" y="209" width="1" height="1" fill="#000"/>
<rect x="650" y="191" width="5" height="18" fill="#000"/>
<rect x="660" y="196" width="1" height="3" fill="#000"/>
<rect x="660" y="210" width="1" height="12" fill="#000"/>
<rect x="658" y="199" width="5" height="11" fill="#000"/>
<rect x="659" y="200" width="3" height="9" fill="#fff"/>
<rect x="668" y="188" width="1" height="11" fill="#000"/>
<rect x="666" y="199" width="5" height="27" fill="#000"/>
<rect x="676" y="227" width="1" height="1" fill="#000"/>
<rect x="676" y="229" width="1" height="5" fill="#000"/>
<rect x="674" y="228" width="5" height="1" fill="#000"/>
<rect x="684" y="197" width="1" height="2" fill="#000"/>
<rect x="684" y="228" width="1" height="3" fill="#000"/>
<rect x="682" y="199" width="5" height="29" fill="#000"/>
<rect x="683" y="200" width="3" height="27" fill="#fff"/>
<rect x="692" y="189" width="1" height="11" fill="#000"/>
<rect x="692" y="205" width="1" height="21" fill="#000"/>
<rect x="690" y="200" width="5" height="5" fill="#000"/>
<rect x="700" y="197" width="1" height="7" fill="#000"/>
<rect x="700" y="237" width="1" height="6" fill="#000"/>
<rect x="698" y="204" width="5" height="33" fill="#000"/>
<rect x="708" y="219" width="1" height="5" fill="#000"/>
<rect x="708" y="236" width="1" height="14" fill="#000"/>
<rect x="706" y="224" width="5" height="12" fill="#000"/>
<rect x="707" y="225" width="3" height="10" fill="#fff"/>
<rect x="716" y="219" width="1" height="6" fill="#000"/>
<rect x="716" y="253" width="1" height="5" fill="#000"/>
<rect x="714" y="225" width="5" height="28" fill="#000"/>
<rect x="724" y="253" width="1" height="2" fill="#000"/>
<rect x="724" y="258" width="1" height="3" fill="#000"/>
<rect x="722" y="255" width="5" height="3" fill="#000"/>
<rect x="723" y="256" width="3" height="1" fill="#fff"/>
<rect x="732" y="221" width="1" height="3" fill="#000"/>
<rect x="732" y="256" width="1" height="3" fill="#000"/>
<rect x="730" y="224" width="5" height="32" fill="#000"/>
<rect x="731" y="225" width="3" height="30" fill="#fff"/>
<rect x="740" y="213" width="1" height="8" fill="#000"/>
<rect x="740" y="225" width="1" height="11" fill="#000"/>
<rect x="738" y="221" width="5" height="4" fill="#000"/>
<rect x="739" y="222" width="3" height="2" fill="#fff"/>
<rect x="748" y="208" width="1" height="12" fill="#000"/>
<rect x="748" y="223" width="1" height="10" fill="#000"/>
<rect x="746" y="220" width="5" height="3" fill="#000"/>
<rect x="756" y="198" width="1" height="17" fill="#000"/>
<rect x="756" y="224" width="1" height="2" fill="#000"/>
<rect x="754" y="215" width="5" height="9" fill="#000"/>
<rect x="755" y="216" width="3" height="7" fill="#fff"/>
<rect x="764" y="208" width="1" height="7" fill="#000"/>
<rect x="764" y="221" width="1" height="9" fill="#000"/>
<rect x="762" y="215" width="5" height="6" fill="#000"/>
<rect x="772" y="210" width="1" height="2" fill="#000"/>
<rect x="772" y="213" width="1" height="2" fill="#000"/>
<rect x="770" y="212" width="5" height="1" fill="#000"/>
<rect x="780" y="191" width="1" height="1" fill="#000"/>
<rect x="778" y="192" width="5" height="20" fill="#000"/>
<rect x="779" y="193" width="3" height="18" fill="#fff"/>
<rect x="788" y="189" width="1" height="4" fill="#000"/>
<rect x="788" y="212" width="1" height="4" fill="#000"/>
<rect x="786" y="193" width="5" height="19" fill="#000"/>
<rect x="796" y="201" width="1" height="2" fill="#000"/>
<rect x="796" y="212" width="1" height="8" fill="#000"/>
<rect x="794" y="203" width="5" height="9" fill="#000"/>
<rect x="795" y="204" width="3" height="7" fill="#fff"/>
<rect x="804" y="202" width="1" height="1" fill="#000"/>
<rect x="804" y="219" width="1" height="13" fill="#000"/>
<rect x="802" y="203" width="5" height="16" fill="#000"/>
<rect x="812" y="203" width="1" height="1" fill="#000"/>
<rect x="812" y="219" width="1" height="18" fill="#000"/>
<rect x="810" y="204" width="5" height="15" fill="#000"/>
<rect x="811" y="205" width="3" height="13" fill="#fff"/>
<rect x="818" y="196" width="5" height="5" fill="#000"/>
<rect x="828" y="178" width="1" height="21" fill="#000"/>
<rect x="828" y="202" width="1" height="6" fill="#000"/>
<rect x="826" y="199" width="5" height="3" fill="#000"/>
<rect x="836" y="164" width="1" height="3" fill="#000"/>
<rect x="836" y="202" width="1" height="8" fill="#000"/>
<rect x="834" y="167" width="5" height="35" fill="#000"/>
<rect x="835" y="168" width="3" height="33" fill="#fff"/>
<rect x="844" y="153" width="1" height="14" fill="#000"/>
<rect x="844" y="168" width="1" height="9" fill="#000"/>
<rect x="842" y="167" width="5" height="1" fill="#000"/>
<rect x="852" y="166" width="1" height="1" fill="#000"/>
<rect x="852" y="174" width="1" height="8" fill="#000"/>
<rect x="850" y="167" width="5" height="7" fill="#000"/>
<rect x="860" y="168" width="1" height="5" fill="#000"/>
<rect x="860" y="179" width="1" height="1" fill="#000"/>
<rect x="858" y="173" width="5" height="6" fill="#000"/>
<rect x="868" y="174" width="1" height="1" fill="#000"/>
<rect x="866" y="175" width="5" height="3" fill="#000"/>
<rect x="867" y="176" width="3" height="1" fill="#fff"/>
<rect x="876" y="172" width="1" height="2" fill="#000"/>
<rect x="876" y="175" width="1" height="13" fill="#000"/>
<rect x="874" y="174" width="5" height="1" fill="#000"/>
<rect x="884" y="159" width="1" height="7" fill="#000"/>
<rect x="882" y="166" width="5" height="9" fill="#000"/>
<rect x="883" y="167" width="3" height="7" fill="#fff"/>
<rect x="892" y="159" width="1" height="4" fill="#000"/>
<rect x="892" y="167" width="1" height="12" fill="#000"/>
<rect x="890" y="163" width="5" height="4" fill="#000"/>
<rect x="891" y="164" width="3" height="2" fill="#fff"/>
<rect x="900" y="153" width="1" height="10" fill="#000"/>
<rect x="900" y="178" width="1" height="4" fill="#000"/>
<rect x="898" y="163" width="5" height="15" fill="#000"/>
<rect x="908" y="174" width="1" height="3" fill="#000"/>
<rect x="908" y="188" width="1" height="2" fill="#000"/>
<rect x="906" y="177" width="5" height="11" fill="#000"/>
<rect x="916" y="186" width="1" height="2" fill="#000"/>
<rect x="916" y="189" width="1" height="4" fill="#000"/>
<rect x="914" y="188" width="5" height="1" fill="#000"/>
<rect x="924" y="177" width="1" height="1" fill="#000"/>
<rect x="924" y="189" width="1" height="1" fill="#000"/>
<rect x="922" y="178" width="5" height="11" fill="#000"/>
<rect x="923" y="179" width="3" height="9" fill="#fff"/>
<rect x="932" y="174" width="1" height="4" fill="#000"/>
<rect x="932" y="189" width="1" height="3" fill="#000"/>
<rect x="930" y="178" width="5" height="11" fill="#000"/>
<rect x="940" y="179" width="1" height="4" fill="#000"/>
<rect x="940" y="189" width="1" height="6" fill="#000"/>
<rect x="938" y="183" width="5" height="6" fill="#000"/>
<rect x="939" y="184" width="3" height="4" fill="#fff"/>
<rect x="948" y="181" width="1" height="2" fill="#000"/>
<rect x="948" y="184" width="1" height="25" fill="#000"/>
<rect x="946" y="183" width="5" height="1" fill="#000"/>
<rect x="956" y="182" width="1" height="2" fill="#000"/>
<rect x="956" y="188" width="1" height="20" fill="#000"/>
<rect x="954" y="184" width="5" height="4" fill="#000"/>
<rect x="964" y="189" width="1" height="3" fill="#000"/>
<rect x="962" y="187" width="5" height="2" fill="#000"/>
<rect x="972" y="174" width="1" height="2" fill="#000"/>
<rect x="972" y="188" width="1" height="6" fill="#000"/>
<rect x="970" y="176" width="5" height="12" fill="#000"/>
<rect x="971" y="177" width="3" height="10" fill="#fff"/>
<rect x="980" y="167" width="1" height="1" fill="#000"/>
<rect x="980" y="177" width="1" height="6" fill="#000"/>
<rect x="978" y="168" width="5" height="9" fill="#000"/>
<rect x="979" y="169" width="3" height="7" fill="#fff"/>
<rect x="988" y="149" width="1" height="2" fill="#000"/>
<rect x="988" y="169" width="1" height="3" fill="#000"/>
<rect x="986" y="151" width="5" height="18" fill="#000"/>
<rect x="987" y="152" width="3" height="16" fill="#fff"/>
<rect x="996" y="141" width="1" height="2" fill="#000"/>
<rect x="996" y="152" width="1" height="8" fill="#000"/>
<rect x="994" y="143" width="5" height="9" fill="#000"/>
<rect x="995" y="144" width="3" height="7" fill="#fff"/>
<rect x="1004" y="137" width="1" height="3" fill="#000"/>
<rect x="1004" y="145" width="1" height="6" fill="#000"/>
<rect x="1002" y="140" width="5" height="5" fill="#000"/>
<rect x="1003" y="141" width="3" height="3" fill="#fff"/>
<rect x="1012" y="140" width="1" height="1" fill="#000"/>
<rect x="1012" y="142" width="1" height="2" fill="#000"/>
<rect x="1010" y="141" width="5" height="1" fill="#000"/>
<rect x="1020" y="122" width="1" height="1" fill="#000"/>
<rect x="1020" y="142" width="1" height="1" fill="#000"/>
<rect x="1018" y="123" width="5" height="19" fill="#000"/>
<rect x="1019" y="124" width="3" height="17" fill="#fff"/>
<rect x="1028" y="105" width="1" height="18" fill="#000"/>
<rect x="1028" y="125" width="1" height="6" fill="#000"/>
<rect x="1026" y="123" width="5" height="2" fill="#000"/>
<rect x="1036" y="110" width="1" height="4" fill="#000"/>
<rect x="1036" y="125" width="1" height="3" fill="#000"/>
<rect x="1034" y="114" width="5" height="11" fill="#000"/>
<rect x="1035" y="115" width="3" height="9" fill="#fff"/>
<rect x="1044" y="112" width="1" height="2" fill="#000"/>
<rect x="1044" y="115" width="1" height="8" fill="#000"/>
<rect x="1042" y="114" width="5" height="1" fill="#000"/>
<rect x="1052" y="113" width="1" height="1" fill="#000"/>
<rect x="1052" y="119" width="1" height="9" fill="#000"/>
<rect x="1050" y="114" width="5" height="5" fill="#000"/>
<rect x="1058" y="114" width="5" height="3" fill="#000"/>
<rect x="1059" y="115" width="3" height="1" fill="#fff"/>
<rect x="1068" y="112" width="1" height="2" fill="#000"/>
<rect x="1068" y="118" width="1" height="5" fill="#000"/>
<rect x="1066" y="114" width="5" height="4" fill="#000"/>
<rect x="1076" y="113" width="1" height="4" fill="#000"/>
<rect x="1076" y="122" width="1" height="6" fill="#000"/>
<rect x="1074" y="117" width="5" height="5" fill="#000"/>
<rect x="1084" y="115" width="1" height="6" fill="#000"/>
<rect x="1082" y="121" width="5" height="9" fill="#000"/>
<rect x="1092" y="130" width="1" height="8" fill="#000"/>
<rect x="1090" y="120" width="5" height="10" fill="#000"/>
<rect x="1091" y="121" width="3" height="8" fill="#fff"/>
<rect x="1100" y="113" width="1" height="2" fill="#000"/>
<rect x="1100" y="121" width="1" height="13" fill="#000"/>
<rect x="1098" y="115" width="5" height="6" fill="#000"/>
<rect x="1099" y="116" width="3" height="4" fill="#fff"/>
<rect x="1108" y="111" width="1" height="1" fill="#000"/>
<rect x="1106" y="112" width="5" height="2" fill="#000"/>
<rect x="1116" y="94" width="1" height="1" fill="#000"/>
<rect x="1116" y="114" width="1" height="1" fill="#000"/>
<rect x="1114" y="95" width="5" height="19" fill="#000"/>
<rect x="1115" y="96" width="3" height="17" fill="#fff"/>
<rect x="1124" y="86" width="1" height="9" fill="#000"/>
<rect x="1124" y="100" width="1" height="7" fill="#000"/>
<rect x="1122" y="95" width="5" height="5" fill="#000"/>
<rect x="1132" y="92" width="1" height="2" fill="#000"/>
<rect x="1132" y="100" width="1" height="5" fill="#000"/>
<rect x="1130" y="94" width="5" height="6" fill="#000"/>
<rect x="1131" y="95" width="3" height="4" fill="#fff"/>
<rect x="1140" y="81" width="1" height="2" fill="#000"/>
<rect x="1140" y="95" width="1" height="6" fill="#000"/>
<rect x="1138" y="83" width="5" height="12" fill="#000"/>
<rect x="1139" y="84" width="3" height="10" fill="#fff"/>
<rect x="1148" y="75" width="1" height="5" fill="#000"/>
<rect x="1148" y="85" width="1" height="3" fill="#000"/>
<rect x="1146" y="80" width="5" height="5" fill="#000"/>
<rect x="1147" y="81" width="3" height="3" fill="#fff"/>
<rect x="1154" y="73" width="5" height="4" fill="#000"/>
<rect x="1155" y="74" width="3" height="2" fill="#fff"/>
<rect x="1164" y="71" width="1" height="2" fill="#000"/>
<rect x="1164" y="90" width="1" height="5" fill="#000"/>
<rect x="1162" y="73" width="5" height="17" fill="#000"/>
<rect x="1172" y="90" width="1" height="7" fill="#000"/>
<rect x="1170" y="76" width="5" height="14" fill="#000"/>
<rect x="1171" y="77" width="3" height="12" fill="#fff"/>
<rect x="1180" y="54" width="1" height="1" fill="#000"/>
<rect x="1180" y="77" width="1" height="2" fill="#000"/>
<rect x="1178" y="55" width="5" height="22" fill="#000"/>
<rect x="1179" y="56" width="3" height="20" fill="#fff"/>
<rect x="1188" y="53" width="1" height="3" fill="#000"/>
<rect x="1188" y="102" width="1" height="5" fill="#000"/>
<rect x="1186" y="56" width="5" height="46" fill="#000"/>
<rect x="1196" y="80" width="1" height="21" fill="#000"/>
<rect x="1196" y="106" width="1" height="20" fill="#000"/>
<rect x="1194" y="101" width="5" height="5" fill="#000"/>
<rect x="1204" y="102" width="1" height="4" fill="#000"/>
<rect x="1204" y="107" width="1" height="1" fill="#000"/>
<rect x="1202" y="106" width="5" height="1" fill="#000"/>
<rect x="1212" y="91" width="1" height="2" fill="#000"/>
<rect x="1212" y="106" width="1" height="5" fill="#000"/>
<rect x="1210" y="93" width="5" height="13" fill="#000"/>
<rect x="1211" y="94" width="3" height="11" fill="#fff"/>
<rect x="1220" y="89" width="1" height="4" fill="#000"/>
<rect x="1220" y="138" width="1" height="10" fill="#000"/>
<rect x="1218" y="93" width="5" height="45" fill="#000"/>
<rect x="1228" y="99" width="1" height="7" fill="#000"/>
<rect x="1228" y="137" width="1" height="2" fill="#000"/>
<rect x="1226" y="106" width="5" height="31" fill="#000"/>
<rect x="1227" y="107" width="3" height="29" fill="#fff"/>
<rect x="1236" y="101" width="1" height="5" fill="#000"/>
<rect x="1236" y="128" width="1" height="8" fill="#000"/>
<rect x="1234" y="106" width="5" height="22" fill="#000"/>
<rect x="1244" y="117" width="1" height="9" fill="#000"/>
<rect x="1244" y="127" width="1" height="9" fill="#000"/>
<rect x="1242" y="126" width="5" height="1" fill="#000"/>
<rect x="1252" y="120" width="1" height="1" fill="#000"/>
<rect x="1250" y="117" width="5" height="3" fill="#000"/>
<rect x="1251" y="118" width="3" height="1" fill="#fff"/>
<rect x="1260" y="104" width="1" height="3" fill="#000"/>
<rect x="1260" y="118" width="1" height="2" fill="#000"/>
<rect x="1258" y="107" width="5" height="11" fill="#000"/>
<rect x="1259" y="108" width="3" height="9" fill="#fff"/>
<rect x="1268" y="97" width="1" height="10" fill="#000"/>
<rect x="1268" y="115" width="1" height="1" fill="#000"/>
<rect x="1266" y="107" width="5" height="8" fill="#000"/>
<rect x="1276" y="96" width="1" height="11" fill="#000"/>
<rect x="1276" y="115" width="1" height="2" fill="#000"/>
<rect x="1274" y="107" width="5" height="8" fill="#000"/>
<rect x="1275" y="108" width="3" height="6" fill="#fff"/>
<rect x="1284" y="108" width="1" height="3" fill="#000"/>
<rect x="1284" y="119" width="1" height="17" fill="#000"/>
<rect x="1282" y="111" width="5" height="8" fill="#000"/>
<rect x="1292" y="115" width="1" height="3" fill="#000"/>
<rect x="1292" y="128" width="1" height="11" fill="#000"/>
<rect x="1290" y="118" width="5" height="10" fill="#000"/>
<rect x="1300" y="126" width="1" height="2" fill="#000"/>
<rect x="1300" y="131" width="1" height="1" fill="#000"/>
<rect x="1298" y="128" width="5" height="3" fill="#000"/>
<rect x="1299" y="129" width="3" height="1" fill="#fff"/>
<rect x="1308" y="124" width="1" height="4" fill="#000"/>
<rect x="1308" y="151" width="1" height="25" fill="#000"/>
<rect x="1306" y="128" width="5" height="23" fill="#000"/>
<rect x="1316" y="143" width="1" height="1" fill="#000"/>
<rect x="1316" y="151" width="1" height="12" fill="#000"/>
<rect x="1314" y="144" width="5" height="7" fill="#000"/>
<rect x="1315" y="145" width="3" height="5" fill="#fff"/>
<rect x="1324" y="137" width="1" height="7" fill="#000"/>
<rect x="1324" y="176" width="1" height="3" fill="#000"/>
<rect x="1322" y="144" width="5" height="32" fill="#000"/>
<rect x="1332" y="157" width="1" height="6" fill="#000"/>
<rect x="1332" y="169" width="1" height="15" fill="#000"/>
<rect x="1330" y="163" width="5" height="6" fill="#000"/>
<rect x="1331" y="164" width="3" height="4" fill="#fff"/>
<rect x="1340" y="150" width="1" height="3" fill="#000"/>
<rect x="1340" y="164" width="1" height="20" fill="#000"/>
<rect x="1338" y="153" width="5" height="11" fill="#000"/>
<rect x="1339" y="154" width="3" height="9" fill="#fff"/>
<rect x="1346" y="150" width="5" height="1" fill="#000"/>
<rect x="1356" y="127" width="1" height="2" fill="#000"/>
<rect x="1356" y="151" width="1" height="1" fill="#000"/>
<rect x="1354" y="129" width="5" height="22" fill="#000"/>
<rect x="1355" y="130" width="3" height="20" fill="#fff"/>
<rect x="1364" y="126" width="1" height="3" fill="#000"/>
<rect x="1364" y="136" width="1" height="11" fill="#000"/>
<rect x="1362" y="129" width="5" height="7" fill="#000"/>
<rect x="1372" y="113" width="1" height="6" fill="#000"/>
<rect x="1372" y="136" width="1" height="19" fill="#000"/>
<rect x="1370" y="119" width="5" height="17" fill="#000"/>
<rect x="1371" y="120" width="3" height="15" fill="#fff"/>
<rect x="1380" y="110" width="1" height="9" fill="#000"/>
<rect x="1380" y="124" width="1" height="7" fill="#000"/>
<rect x="1378" y="119" width="5" height="5" fill="#000"/>
<rect x="1388" y="120" width="1" height="1" fill="#000"/>
<rect x="1388" y="130" width="1" height="21" fill="#000"/>
<rect x="1386" y="121" width="5" height="9" fill="#000"/>
<rect x="1396" y="119" width="1" height="1" fill="#000"/>
<rect x="1396" y="123" width="1" height="1" fill="#000"/>
<rect x="1394" y="120" width="5" height="3" fill="#000"/>
<rect x="1395" y="121" width="3" height="1" fill="#fff"/>
<rect x="1404" y="104" width="1" height="5" fill="#000"/>
<rect x="1404" y="121" width="1" height="4" fill="#000"/>
<rect x="1402" y="109" width="5" height="12" fill="#000"/>
<rect x="1403" y="110" width="3" height="10" fill="#fff"/>
<rect x="1412" y="96" width="1" height="10" fill="#000"/>
<rect x="1412" y="126" width="1" height="5" fill="#000"/>
<rect x="1410" y="106" width="5" height="20" fill="#000"/>
<rect x="1420" y="96" width="1" height="1" fill="#000"/>
<rect x="1420" y="127" width="1" height="1" fill="#000"/>
<rect x="1418" y="97" width="5" height="30" fill="#000"/>
<rect x="1419" y="98" width="3" height="28" fill="#fff"/>
<rect x="1428" y="85" width="1" height="1" fill="#000"/>
<rect x="1428" y="98" width="1" height="4" fill="#000"/>
<rect x="1426" y="86" width="5" height="12" fill="#000"/>
<rect x="1427" y="87" width="3" height="10" fill="#fff"/>
<rect x="1436" y="82" width="1" height="2" fill="#000"/>
<rect x="1436" y="89" width="1" height="5" fill="#000"/>
<rect x="1434" y="84" width="5" height="5" fill="#000"/>
<rect x="1435" y="85" width="3" height="3" fill="#fff"/>
</g>
</g>
<g clip-path="url(#macdclip)" shape-rendering="crispEdges">
<rect x="4" y="641" width="1" height="66" fill="#c0c0c0"/>
<rect x="12" y="641" width="1" height="70" fill="#c0c0c0"/>
<rect x="20" y="641" width="1" height="77" fill="#c0c0c0"/>
<rect x="28" y="641" width="1" height="83" fill="#c0c0c0"/>
<rect x="36" y="641" width="1" height="87" fill="#c0c0c0"/>
<rect x="44" y="641" width="1" height="91" fill="#c0c0c0"/>
<rect x="52" y="641" width="1" height="95" fill="#c0c0c0"/>
<rect x="60" y="641" width="1" height="100" fill="#c0c0c0"/>
<rect x="68" y="641" width="1" height="101" fill="#c0c0c0"/>
<rect x="76" y="641" width="1" height="95" fill="#c0c0c0"/>
<rect x="84" y="641" width="1" height="87" fill="#c0c0c0"/>
<rect x="92" y="641" width="1" height="75" fill="#c0c0c0"/>
<rect x="100" y="641" width="1" height="68" fill="#c0c0c0"/>
<rect x="108" y="641" width="1" height="63" fill="#c0c0c0"/>
<rect x="116" y="641" width="1" height="55" fill="#c0c0c0"/>
<rect x="124" y="641" width="1" height="50" fill="#c0c0c0"/>
<rect x="132" y="641" width="1" height="48" fill="#c0c0c0"/>
<rect x="140" y="641" width="1" height="45" fill="#c0c0c0"/>
<rect x="148" y="641" width="1" height="42" fill="#c0c0c0"/>
<rect x="156" y="641" width="1" height="39" fill="#c0c0c0"/>
<rect x="164" y="641" width="1" height="31" fill="#c0c0c0"/>
<rect x="172" y="641" width="1" height="25" fill="#c0c0c0"/>
<rect x="180" y="641" width="1" height="17" fill="#c0c0c0"/>
<rect x="188" y="641" width="1" height="10" fill="#c0c0c0"/>
<rect x="196" y="641" width="1" height="5" fill="#c0c0c0"/>
<rect x="204" y="641" width="1" height="1" fill="#c0c0c0"/>
<rect x="212" y="637" width="1" height="5" fill="#c0c0c0"/>
<rect x="220" y="635" width="1" height="7" fill="#c0c0c0"/>
<rect x="228" y="631" width="1" height="11" fill="#c0c0c0"/>
<rect x="236" y="628" width="1" height="14" fill="#c0c0c0"/>
<rect x="244" y="626" width="1" height="16" fill="#c0c0c0"/>
<rect x="252" y="626" width="1" height="16" fill="#c0c0c0"/>
<rect x="260" y="628" width="1" height="14" fill="#c0c0c0"/>
<rect x="268" y="629" width="1" height="13" fill="#c0c0c0"/>
<rect x="276" y="630" width="1" height="12" fill="#c0c0c0"/>
<rect x="284" y="630" width="1" height="12" fill="#c0c0c0"/>
<rect x="292" y="630" width="1" height="12" fill="#c0c0c0"/>
<rect x="300" y="629" width="1" height="13" fill="#c0c0c0"/>
<rect x="308" y="627" width="1" height="15" fill="#c0c0c0"/>
<rect x="316" y="625" width="1" height="17" fill="#c0c0c0"/>
<rect x="324" y="625" width="1" height="17" fill="#c0c0c0"/>
<rect x="332" y="627" width="1" height="15" fill="#c0c0c0"/>
<rect x="340" y="630" width="1" height="12" fill="#c0c0c0"/>
<rect x="348" y="631" width="1" height="11" fill="#c0c0c0"/>
<rect x="356" y="631" width="1" height="11" fill="#c0c0c0"/>
<rect x="364" y="632" width="1" height="10" fill="#c0c0c0"/>
<rect x="372" y="632" width="1" height="10" fill="#c0c0c0"/>
<rect x="380" y="630" width="1" height="12" fill="#c0c0c0"/>
<rect x="388" y="629" width="1" height="13" fill="#c0c0c0"/>
<rect x="396" y="629" width="1" height="13" fill="#c0c0c0"/>
<rect x="404" y="632" width="1" height="10" fill="#c0c0c0"/>
<rect x="412" y="635" width="1" height="7" fill="#c0c0c0"/>
<rect x="420" y="636" width="1" height="6" fill="#c0c0c0"/>
<rect x="428" y="637" width="1" height="5" fill="#c0c0c0"/>
<rect x="436" y="637" width="1" height="5" fill="#c0c0c0"/>
<rect x="444" y="634" width="1" height="8" fill="#c0c0c0"/>
<rect x="452" y="634" width="1" height="8" fill="#c0c0c0"/>
<rect x="460" y="632" width="1" height="10" fill="#c0c0c0"/>
<rect x="468" y="631" width="1" height="11" fill="#c0c0c0"/>
<rect x="476" y="631" width="1" height="11" fill="#c0c0c0"/>
<rect x="484" y="630" width="1" height="12" fill="#c0c0c0"/>
<rect x="492" y="629" width="1" height="13" fill="#c0c0c0"/>
<rect x="500" y="627" width="1" height="15" fill="#c0c0c0"/>
<rect x="508" y="624" width="1" height="18" fill="#c0c0c0"/>
<rect x="516" y="623" width="1" height="19" fill="#c0c0c0"/>
<rect x="524" y="621" width="1" height="21" fill="#c0c0c0"/>
<rect x="532" y="621" width="1" height="21" fill="#c0c0c0"/>
<rect x="540" y="621" width="1" height="21" fill="#c0c0c0"/>
<rect x="548" y="620" width="1" height="22" fill="#c0c0c0"/>
<rect x="556" y="617" width="1" height="25" fill="#c0c0c0"/>
<rect x="564" y="615" width="1" height="27" fill="#c0c0c0"/>
<rect x="572" y="612" width="1" height="30" fill="#c0c0c0"/>
<rect x="580" y="608" width="1" height="34" fill="#c0c0c0"/>
<rect x="588" y="605" width="1" height="37" fill="#c0c0c0"/>
<rect x="596" y="604" width="1" height="38" fill="#c0c0c0"/>
<rect x="604" y="605" width="1" height="37" fill="#c0c0c0"/>
<rect x="612" y="611" width="1" height="31" fill="#c0c0c0"/>
<rect x="620" y="616" width="1" height="26" fill="#c0c0c0"/>
<rect x="628" y="621" width="1" height="21" fill="#c0c0c0"/>
<rect x="636" y="622" width="1" height="20" fill="#c0c0c0"/>
<rect x="644" y="623" width="1" height="19" fill="#c0c0c0"/>
<rect x="652" y="625" width="1" height="17" fill="#c0c0c0"/>
<rect x="660" y="626" width="1" height="16" fill="#c0c0c0"/>
<rect x="668" y="629" width="1" height="13" fill="#c0c0c0"/>
<rect x="676" y="631" width="1" height="11" fill="#c0c0c0"/>
<rect x="684" y="631" width="1" height="11" fill="#c0c0c0"/>
<rect x="692" y="632" width="1" height="10" fill="#c0c0c0"/>
<rect x="700" y="635" width="1" height="7" fill="#c0c0c0"/>
<rect x="708" y="636" width="1" height="6" fill="#c0c0c0"/>
<rect x="716" y="639" width="1" height="3" fill="#c0c0c0"/>
<rect x="724" y="641" width="1" height="2" fill="#c0c0c0"/>
<rect x="732" y="641" width="1" height="2" fill="#c0c0c0"/>
<rect x="740" y="641" width="1" height="1" fill="#c0c0c0"/>
<rect x="748" y="641" width="1" height="1" fill="#c0c0c0"/>
<rect x="756" y="641" width="1" height="1" fill="#c0c0c0"/>
<rect x="764" y="641" width="1" height="1" fill="#c0c0c0"/>
<rect x="772" y="640" width="1" height="2" fill="#c0c0c0"/>
<rect x="780" y="638" width="1" height="4" fill="#c0c0c0"/>
<rect x="788" y="638" width="1" height="4" fill="#c0c0c0"/>
<rect x="796" y="637" width="1" height="5" fill="#c0c0c0"/>
<rect x="804" y="638" width="1" height="4" fill="#c0c0c0"/>
<rect x="812" y="637" width="1" height="5" fill="#c0c0c0"/>
<rect x="820" y="637" width="1" height="5" fill="#c0c0c0"/>
<rect x="828" y="636" width="1" height="6" fill="#c0c0c0"/>
<rect x="836" y="633" width="1" height="9" fill="#c0c0c0"/>
<rect x="844" y="631" width="1" height="11" fill="#c0c0c0"/>
<rect x="852" y="630" width="1" height="12" fill="#c0c0c0"/>
<rect x="860" y="630" width="1" height="12" fill="#c0c0c0"/>
<rect x="868" y="630" width="1" height="12" fill="#c0c0c0"/>
<rect x="876" y="630" width="1" height="12" fill="#c0c0c0"/>
<rect x="884" y="629" width="1" height="13" fill="#c0c0c0"/>
<rect x="892" y="628" width="1" height="14" fill="#c0c0c0"/>
<rect x="900" y="629" width="1" height="13" fill="#c0c0c0"/>
<rect x="908" y="630" width="1" height="12" fill="#c0c0c0"/>
<rect x="916" y="632" width="1" height="10" fill="#c0c0c0"/>
<rect x="924" y="632" width="1" height="10" fill="#c0c0c0"/>
<rect x="932" y="633" width="1" height="9" fill="#c0c0c0"/>
<rect x="940" y="634" width="1" height="8" fill="#c0c0c0"/>
<rect x="948" y="634" width="1" height="8" fill="#c0c0c0"/>
<rect x="956" y="635" width="1" height="7" fill="#c0c0c0"/>
<rect x="964" y="636" width="1" height="6" fill="#c0c0c0"/>
<rect x="972" y="636" width="1" height="6" fill="#c0c0c0"/>
<rect x="980" y="635" width="1" height="7" fill="#c0c0c0"/>
<rect x="988" y="633" width="1" height="9" fill="#c0c0c0"/>
<rect x="996" y="632" width="1" height="10" fill="#c0c0c0"/>
<rect x="1004" y="630" width="1" height="12" fill="#c0c0c0"/>
<rect x="1012" y="629" width="1" height="13" fill="#c0c0c0"/>
<rect x="1020" y="627" width="1" height="15" fill="#c0c0c0"/>
<rect x="1028" y="626" width="1" height="16" fill="#c0c0c0"/>
<rect x="1036" y="624" width="1" height="18" fill="#c0c0c0"/>
<rect x="1044" y="623" width="1" height="19" fill="#c0c0c0"/>
<rect x="1052" y="623" width="1" height="19" fill="#c0c0c0"/>
<rect x="1060" y="622" width="1" height="20" fill="#c0c0c0"/>
<rect x="1068" y="623" width="1" height="19" fill="#c0c0c0"/>
<rect x="1076" y="623" width="1" height="19" fill="#c0c0c0"/>
<rect x="1084" y="625" width="1" height="17" fill="#c0c0c0"/>
<rect x="1092" y="625" width="1" height="17" fill="#c0c0c0"/>
<rect x="1100" y="625" width="1" height="17" fill="#c0c0c0"/>
<rect x="1108" y="626" width="1" height="16" fill="#c0c0c0"/>
<rect x="1116" y="625" width="1" height="17" fill="#c0c0c0"/>
<rect x="1124" y="624" width="1" height="18" fill="#c0c0c0"/>
<rect x="1132" y="624" width="1" height="18" fill="#c0c0c0"/>
<rect x="1140" y="623" width="1" height="19" fill="#c0c0c0"/>
<rect x="1148" y="622" width="1" height="20" fill="#c0c0c0"/>
<rect x="1156" y="621" width="1" height="21" fill="#c0c0c0"/>
<rect x="1164" y="622" width="1" height="20" fill="#c0c0c0"/>
<rect x="1172" y="622" width="1" height="20" fill="#c0c0c0"/>
<rect x="1180" y="621" width="1" height="21" fill="#c0c0c0"/>
<rect x="1188" y="623" width="1" height="19" fill="#c0c0c0"/>
<rect x="1196" y="625" width="1" height="17" fill="#c0c0c0"/>
<rect x="1204" y="627" width="1" height="15" fill="#c0c0c0"/>
<rect x="1212" y="628" width="1" height="14" fill="#c0c0c0"/>
<rect x="1220" y="632" width="1" height="10" fill="#c0c0c0"/>
<rect x="1228" y="633" width="1" height="9" fill="#c0c0c0"/>
<rect x="1236" y="636" width="1" height="6" fill="#c0c0c0"/>
<rect x="1244" y="638" width="1" height="4" fill="#c0c0c0"/>
<rect x="1252" y="638" width="1" height="4" fill="#c0c0c0"/>
<rect x="1260" y="638" width="1" height="4" fill="#c0c0c0"/>
<rect x="1268" y="639" width="1" height="3" fill="#c0c0c0"/>
<rect x="1276" y="639" width="1" height="3" fill="#c0c0c0"/>
<rect x="1284" y="640" width="1" height="2" fill="#c0c0c0"/>
<rect x="1292" y="641" width="1" height="1" fill="#c0c0c0"/>
<rect x="1300" y="641" width="1" height="2" fill="#c0c0c0"/>
<rect x="1308" y="641" width="1" height="4" fill="#c0c0c0"/>
<rect x="1316" y="641" width="1" height="6" fill="#c0c0c0"/>
<rect x="1324" y="641" width="1" height="9" fill="#c0c0c0"/>
<rect x="1332" y="641" width="1" height="11" fill="#c0c0c0"/>
<rect x="1340" y="641" width="1" height="11" fill="#c0c0c0"/>
<rect x="1348" y="641" width="1" height="11" fill="#c0c0c0"/>
<rect x="1356" y="641" width="1" height="10" fill="#c0c0c0"/>
<rect x="1364" y="641" width="1" height="9" fill="#c0c0c0"/>
<rect x="1372" y="641" width="1" height="7" fill="#c0c0c0"/>
<rect x="1380" y="641" width="1" height="5" fill="#c0c0c0"/>
<rect x="1388" y="641" width="1" height="5" fill="#c0c0c0"/>
<rect x="1396" y="641" width="1" height="3" fill="#c0c0c0"/>
<rect x="1404" y="641" width="1" height="2" fill="#c0c0c0"/>
<rect x="1412" y="641" width="1" height="1" fill="#c0c0c0"/>
<rect x="1420" y="639" width="1" height="3" fill="#c0c0c0"/>
<rect x="1428" y="637" width="1" height="5" fill="#c0c0c0"/>
<rect x="1436" y="635" width="1" height="7" fill="#c0c0c0"/>
</g>
<g clip-path="url(#macdclip)">
<polyline fill="none" stroke="#ff0000" stroke-width="1" shape-rendering="crispEdges" points="4.5,686.8 12.5,690.5 20.5,696.5 28.5,701.5 36.5,707.5 44.5,712.5 52.5,717.5 60.5,723.0 68.5,726.2 76.5,729.4 84.5,731.3 92.5,731.0 100.5,729.3 108.5,726.6 116.5,722.5 124.5,717.5 132.5,711.6 140.5,705.4 148.5,699.5 156.5,694.3 164.5,689.5 172.5,684.8 180.5,679.7 188.5,674.8 196.5,669.8 204.5,664.7 212.5,659.4 220.5,654.2 228.5,648.8 236.5,643.9 244.5,639.6 252.5,636.1 260.5,633.7 268.5,631.9 276.5,630.7 284.5,629.9 292.5,629.3 300.5,629.0 308.5,629.0 316.5,628.8 324.5,628.7 332.5,628.5 340.5,628.5 348.5,628.6 356.5,628.7 364.5,628.9 372.5,629.3 380.5,629.6 388.5,630.1 396.5,630.6 404.5,631.1 412.5,631.7 420.5,632.3 428.5,633.0 436.5,633.6 444.5,633.9 452.5,634.2 460.5,634.6 468.5,634.7 476.5,634.6 484.5,634.0 492.5,633.3 500.5,632.2 508.5,630.7 516.5,629.4 524.5,628.1 532.5,626.8 540.5,625.7 548.5,624.5 556.5,623.1 564.5,621.6 572.5,619.8 580.5,618.1 588.5,616.1 596.5,614.2 604.5,612.4 612.5,611.3 620.5,610.9 628.5,611.4 636.5,612.2 644.5,613.4 652.5,615.2 660.5,617.5 668.5,620.3 676.5,623.2 684.5,625.4 692.5,627.1 700.5,628.6 708.5,630.1 716.5,631.9 724.5,633.8 732.5,635.6 740.5,637.0 748.5,638.2 756.5,639.2 764.5,640.2 772.5,640.8 780.5,641.0 788.5,640.8 796.5,640.3 804.5,639.8 812.5,639.3 820.5,638.8 828.5,638.3 836.5,637.5 844.5,636.6 852.5,635.8 860.5,634.9 868.5,634.1 876.5,633.2 884.5,632.3 892.5,631.4 900.5,630.6 908.5,630.3 916.5,630.3 924.5,630.5 932.5,630.9 940.5,631.3 948.5,631.9 956.5,632.6 964.5,633.5 972.5,634.2 980.5,634.7 988.5,634.9 996.5,634.9 1004.5,634.5 1012.5,634.0 1020.5,633.2 1028.5,632.1 1036.5,630.8 1044.5,629.4 1052.5,628.0 1060.5,626.8 1068.5,625.8 1076.5,625.0 1084.5,624.5 1092.5,624.3 1100.5,624.2 1108.5,624.4 1116.5,624.6 1124.5,624.7 1132.5,624.9 1140.5,624.9 1148.5,624.8 1156.5,624.5 1164.5,624.1 1172.5,623.8 1180.5,623.2 1188.5,623.0 1196.5,623.1 1204.5,623.5 1212.5,624.1 1220.5,625.2 1228.5,626.6 1236.5,628.1 1244.5,629.8 1252.5,631.8 1260.5,633.5 1268.5,635.0 1276.5,636.3 1284.5,637.6 1292.5,638.5 1300.5,639.5 1308.5,640.4 1316.5,641.3 1324.5,642.5 1332.5,643.9 1340.5,645.2 1348.5,646.6 1356.5,647.7 1364.5,648.6 1372.5,649.1 1380.5,649.2 1388.5,649.1 1396.5,648.4 1404.5,647.4 1412.5,646.3 1420.5,645.0 1428.5,643.6 1436.5,642.0" stroke-dasharray="3,2"/>
</g>
<g shape-rendering="crispEdges">
<line x1="0" y1="788.5" x2="1689" y2="788.5" stroke="#c0c0c0" stroke-width="1" stroke-dasharray="3,3" stroke-dashoffset="-3"/>
<line x1="0" y1="839.5" x2="1689" y2="839.5" stroke="#c0c0c0" stroke-width="1" stroke-dasharray="3,3" stroke-dashoffset="-3"/>
<line x1="0" y1="900.5" x2="1689" y2="900.5" stroke="#c0c0c0" stroke-width="1" stroke-dasharray="3,3" stroke-dashoffset="-3"/>
</g>
<g clip-path="url(#rsiclip)">
<path fill="#1e90ff" shape-rendering="crispEdges" d="M-4 894h1v1h-1zM-4 893h1v1h-1zM-3 892h1v1h-1zM-3 891h1v1h-1zM-3 890h1v1h-1zM-3 889h1v1h-1zM-2 888h1v1h-1zM-2 887h1v1h-1zM59 887h2v1h-2zM-2 886h1v1h-1zM56 886h3v1h-3zM61 886h1v1h-1zM-2 885h1v1h-1zM54 885h2v1h-2zM62 885h1v1h-1zM-1 884h1v1h-1zM51 884h3v1h-3zM63 884h1v1h-1zM-1 883h1v1h-1zM48 883h3v1h-3zM64 883h2v1h-2zM-1 882h1v1h-1zM46 882h2v1h-2zM66 882h1v1h-1zM0 881h1v1h-1zM43 881h3v1h-3zM67 881h1v1h-1zM0 880h1v1h-1zM40 880h3v1h-3zM68 880h1v1h-1zM0 879h1v1h-1zM38 879h2v1h-2zM68 879h1v1h-1zM0 878h1v1h-1zM26 878h12v1h-12zM69 878h1v1h-1zM1 877h1v1h-1zM22 877h4v1h-4zM69 877h1v1h-1zM1 876h1v1h-1zM20 876h2v1h-2zM70 876h1v1h-1zM1 875h1v1h-1zM18 875h2v1h-2zM70 875h1v1h-1zM2 874h1v1h-1zM17 874h1v1h-1zM70 874h1v1h-1zM2 873h1v1h-1zM16 873h1v1h-1zM71 873h1v1h-1zM2 872h1v1h-1zM14 872h2v1h-2zM71 872h1v1h-1zM2 871h1v1h-1zM13 871h1v1h-1zM72 871h1v1h-1zM3 870h1v1h-1zM12 870h1v1h-1zM72 870h1v1h-1zM3 869h1v1h-1zM10 869h2v1h-2zM72 869h1v1h-1zM3 868h1v1h-1zM8 868h2v1h-2zM73 868h1v1h-1zM3 867h1v1h-1zM7 867h1v1h-1zM73 867h1v1h-1zM4 866h3v1h-3zM74 866h1v1h-1zM1324 866h1v1h-1zM4 865h1v1h-1zM74 865h1v1h-1zM1323 865h1v1h-1zM1325 865h1v1h-1zM74 864h1v1h-1zM1323 864h1v1h-1zM1326 864h1v1h-1zM75 863h1v1h-1zM1322 863h1v1h-1zM1327 863h1v1h-1zM75 862h1v1h-1zM1321 862h1v1h-1zM1328 862h2v1h-2zM76 861h1v1h-1zM1321 861h1v1h-1zM1330 861h1v1h-1zM76 860h1v1h-1zM1320 860h1v1h-1zM1331 860h1v1h-1zM77 859h2v1h-2zM1319 859h1v1h-1zM1332 859h1v1h-1zM79 858h1v1h-1zM1308 858h1v1h-1zM1319 858h1v1h-1zM1333 858h1v1h-1zM80 857h2v1h-2zM1307 857h1v1h-1zM1309 857h2v1h-2zM1318 857h1v1h-1zM1334 857h2v1h-2zM82 856h2v1h-2zM1306 856h1v1h-1zM1311 856h2v1h-2zM1317 856h1v1h-1zM1336 856h1v1h-1zM84 855h1v1h-1zM1306 855h1v1h-1zM1313 855h2v1h-2zM1317 855h1v1h-1zM1337 855h1v1h-1zM85 854h1v1h-1zM1305 854h1v1h-1zM1315 854h2v1h-2zM1338 854h2v1h-2zM85 853h1v1h-1zM1220 853h1v1h-1zM1304 853h1v1h-1zM1340 853h2v1h-2zM86 852h1v1h-1zM106 852h3v1h-3zM131 852h3v1h-3zM146 852h3v1h-3zM1220 852h2v1h-2zM1303 852h1v1h-1zM1342 852h4v1h-4zM86 851h1v1h-1zM102 851h4v1h-4zM109 851h1v1h-1zM129 851h2v1h-2zM134 851h4v1h-4zM142 851h4v1h-4zM149 851h2v1h-2zM716 851h9v1h-9zM1219 851h1v1h-1zM1221 851h1v1h-1zM1302 851h1v1h-1zM1346 851h3v1h-3zM87 850h1v1h-1zM100 850h2v1h-2zM110 850h1v1h-1zM127 850h2v1h-2zM138 850h4v1h-4zM151 850h2v1h-2zM715 850h1v1h-1zM725 850h1v1h-1zM1219 850h1v1h-1zM1222 850h1v1h-1zM1302 850h1v1h-1zM1349 850h1v1h-1zM88 849h1v1h-1zM99 849h1v1h-1zM111 849h1v1h-1zM125 849h2v1h-2zM153 849h2v1h-2zM714 849h1v1h-1zM725 849h1v1h-1zM1219 849h1v1h-1zM1222 849h1v1h-1zM1301 849h1v1h-1zM1349 849h1v1h-1zM88 848h1v1h-1zM98 848h1v1h-1zM112 848h1v1h-1zM124 848h1v1h-1zM155 848h2v1h-2zM713 848h1v1h-1zM726 848h1v1h-1zM1218 848h1v1h-1zM1223 848h1v1h-1zM1296 848h5v1h-5zM1350 848h1v1h-1zM89 847h1v1h-1zM97 847h1v1h-1zM112 847h1v1h-1zM122 847h2v1h-2zM157 847h1v1h-1zM411 847h2v1h-2zM712 847h1v1h-1zM727 847h1v1h-1zM1218 847h1v1h-1zM1223 847h1v1h-1zM1236 847h4v1h-4zM1291 847h5v1h-5zM1351 847h1v1h-1zM90 846h1v1h-1zM96 846h1v1h-1zM113 846h1v1h-1zM120 846h2v1h-2zM157 846h1v1h-1zM408 846h3v1h-3zM413 846h1v1h-1zM700 846h1v1h-1zM712 846h1v1h-1zM728 846h1v1h-1zM1218 846h1v1h-1zM1224 846h1v1h-1zM1235 846h1v1h-1zM1240 846h5v1h-5zM1289 846h2v1h-2zM1352 846h1v1h-1zM90 845h1v1h-1zM95 845h1v1h-1zM114 845h1v1h-1zM119 845h1v1h-1zM158 845h1v1h-1zM406 845h2v1h-2zM414 845h1v1h-1zM628 845h1v1h-1zM699 845h1v1h-1zM701 845h2v1h-2zM711 845h1v1h-1zM728 845h1v1h-1zM1217 845h1v1h-1zM1224 845h1v1h-1zM1234 845h1v1h-1zM1245 845h2v1h-2zM1287 845h2v1h-2zM1352 845h1v1h-1zM91 844h1v1h-1zM94 844h1v1h-1zM115 844h1v1h-1zM117 844h2v1h-2zM159 844h1v1h-1zM404 844h2v1h-2zM415 844h1v1h-1zM626 844h2v1h-2zM629 844h1v1h-1zM699 844h1v1h-1zM703 844h2v1h-2zM710 844h1v1h-1zM729 844h1v1h-1zM1217 844h1v1h-1zM1225 844h1v1h-1zM1234 844h1v1h-1zM1247 844h2v1h-2zM1285 844h2v1h-2zM1353 844h1v1h-1zM91 843h1v1h-1zM93 843h1v1h-1zM116 843h1v1h-1zM159 843h1v1h-1zM403 843h1v1h-1zM416 843h1v1h-1zM612 843h1v1h-1zM625 843h1v1h-1zM629 843h1v1h-1zM672 843h5v1h-5zM698 843h1v1h-1zM705 843h2v1h-2zM709 843h1v1h-1zM730 843h1v1h-1zM1217 843h1v1h-1zM1225 843h1v1h-1zM1233 843h1v1h-1zM1249 843h2v1h-2zM1284 843h1v1h-1zM1354 843h1v1h-1zM1363 843h2v1h-2zM92 842h1v1h-1zM160 842h1v1h-1zM340 842h1v1h-1zM403 842h1v1h-1zM417 842h1v1h-1zM612 842h3v1h-3zM624 842h1v1h-1zM630 842h1v1h-1zM668 842h4v1h-4zM677 842h1v1h-1zM697 842h1v1h-1zM707 842h2v1h-2zM731 842h1v1h-1zM1216 842h1v1h-1zM1226 842h1v1h-1zM1232 842h1v1h-1zM1251 842h2v1h-2zM1282 842h2v1h-2zM1355 842h1v1h-1zM1360 842h3v1h-3zM1365 842h1v1h-1zM161 841h1v1h-1zM338 841h2v1h-2zM341 841h1v1h-1zM402 841h1v1h-1zM418 841h1v1h-1zM426 841h4v1h-4zM611 841h1v1h-1zM615 841h2v1h-2zM622 841h2v1h-2zM630 841h1v1h-1zM667 841h1v1h-1zM678 841h1v1h-1zM696 841h1v1h-1zM731 841h1v1h-1zM1216 841h1v1h-1zM1226 841h1v1h-1zM1231 841h1v1h-1zM1253 841h2v1h-2zM1267 841h2v1h-2zM1281 841h1v1h-1zM1355 841h1v1h-1zM1358 841h2v1h-2zM1366 841h1v1h-1zM161 840h1v1h-1zM260 840h2v1h-2zM336 840h2v1h-2zM342 840h2v1h-2zM401 840h1v1h-1zM419 840h1v1h-1zM422 840h4v1h-4zM430 840h2v1h-2zM611 840h1v1h-1zM617 840h2v1h-2zM621 840h1v1h-1zM631 840h1v1h-1zM666 840h1v1h-1zM678 840h1v1h-1zM696 840h1v1h-1zM732 840h4v1h-4zM804 840h1v1h-1zM1215 840h1v1h-1zM1227 840h1v1h-1zM1230 840h1v1h-1zM1255 840h1v1h-1zM1265 840h2v1h-2zM1269 840h2v1h-2zM1280 840h1v1h-1zM1356 840h2v1h-2zM1367 840h1v1h-1zM1387 840h2v1h-2zM162 839h1v1h-1zM259 839h1v1h-1zM262 839h2v1h-2zM335 839h1v1h-1zM344 839h1v1h-1zM364 839h1v1h-1zM401 839h1v1h-1zM420 839h2v1h-2zM432 839h3v1h-3zM611 839h1v1h-1zM619 839h2v1h-2zM632 839h1v1h-1zM665 839h1v1h-1zM679 839h1v1h-1zM695 839h1v1h-1zM736 839h14v1h-14zM762 839h3v1h-3zM803 839h1v1h-1zM805 839h1v1h-1zM960 839h5v1h-5zM1215 839h1v1h-1zM1227 839h1v1h-1zM1230 839h1v1h-1zM1256 839h2v1h-2zM1263 839h2v1h-2zM1271 839h2v1h-2zM1278 839h2v1h-2zM1368 839h1v1h-1zM1384 839h3v1h-3zM1389 839h2v1h-2zM1412 839h1v1h-1zM163 838h1v1h-1zM258 838h1v1h-1zM264 838h3v1h-3zM333 838h2v1h-2zM345 838h1v1h-1zM362 838h2v1h-2zM365 838h1v1h-1zM400 838h1v1h-1zM435 838h2v1h-2zM610 838h1v1h-1zM632 838h1v1h-1zM664 838h1v1h-1zM680 838h1v1h-1zM694 838h1v1h-1zM750 838h4v1h-4zM758 838h4v1h-4zM765 838h2v1h-2zM802 838h1v1h-1zM806 838h2v1h-2zM932 838h2v1h-2zM955 838h5v1h-5zM965 838h1v1h-1zM1215 838h1v1h-1zM1228 838h2v1h-2zM1258 838h2v1h-2zM1261 838h2v1h-2zM1273 838h2v1h-2zM1277 838h1v1h-1zM1369 838h1v1h-1zM1382 838h2v1h-2zM1391 838h1v1h-1zM1411 838h1v1h-1zM1413 838h1v1h-1zM163 837h1v1h-1zM168 837h5v1h-5zM256 837h2v1h-2zM267 837h10v1h-10zM332 837h1v1h-1zM346 837h2v1h-2zM360 837h2v1h-2zM366 837h1v1h-1zM399 837h1v1h-1zM437 837h1v1h-1zM610 837h1v1h-1zM633 837h1v1h-1zM664 837h1v1h-1zM681 837h1v1h-1zM693 837h1v1h-1zM754 837h4v1h-4zM767 837h2v1h-2zM800 837h2v1h-2zM808 837h1v1h-1zM912 837h5v1h-5zM931 837h1v1h-1zM934 837h2v1h-2zM952 837h3v1h-3zM966 837h1v1h-1zM1195 837h10v1h-10zM1214 837h1v1h-1zM1228 837h1v1h-1zM1260 837h1v1h-1zM1275 837h2v1h-2zM1370 837h1v1h-1zM1378 837h4v1h-4zM1392 837h2v1h-2zM1410 837h1v1h-1zM1413 837h1v1h-1zM164 836h4v1h-4zM173 836h1v1h-1zM255 836h1v1h-1zM277 836h2v1h-2zM331 836h1v1h-1zM348 836h2v1h-2zM359 836h1v1h-1zM367 836h1v1h-1zM399 836h1v1h-1zM437 836h1v1h-1zM610 836h1v1h-1zM634 836h1v1h-1zM652 836h2v1h-2zM663 836h1v1h-1zM682 836h1v1h-1zM693 836h1v1h-1zM769 836h2v1h-2zM788 836h2v1h-2zM799 836h1v1h-1zM809 836h1v1h-1zM908 836h4v1h-4zM917 836h1v1h-1zM930 836h1v1h-1zM936 836h3v1h-3zM950 836h2v1h-2zM967 836h1v1h-1zM1192 836h3v1h-3zM1205 836h1v1h-1zM1214 836h1v1h-1zM1371 836h1v1h-1zM1374 836h4v1h-4zM1394 836h2v1h-2zM1409 836h1v1h-1zM1414 836h1v1h-1zM174 835h1v1h-1zM254 835h1v1h-1zM279 835h1v1h-1zM330 835h1v1h-1zM350 835h4v1h-4zM357 835h2v1h-2zM368 835h2v1h-2zM398 835h1v1h-1zM438 835h1v1h-1zM610 835h1v1h-1zM634 835h1v1h-1zM651 835h1v1h-1zM654 835h2v1h-2zM662 835h1v1h-1zM682 835h1v1h-1zM690 835h3v1h-3zM771 835h2v1h-2zM787 835h1v1h-1zM790 835h2v1h-2zM798 835h1v1h-1zM810 835h2v1h-2zM906 835h2v1h-2zM918 835h2v1h-2zM928 835h2v1h-2zM939 835h11v1h-11zM968 835h1v1h-1zM1190 835h2v1h-2zM1206 835h1v1h-1zM1214 835h1v1h-1zM1372 835h2v1h-2zM1396 835h1v1h-1zM1408 835h1v1h-1zM1414 835h1v1h-1zM175 834h1v1h-1zM220 834h1v1h-1zM253 834h1v1h-1zM280 834h2v1h-2zM328 834h2v1h-2zM354 834h3v1h-3zM370 834h1v1h-1zM397 834h1v1h-1zM438 834h1v1h-1zM609 834h1v1h-1zM635 834h1v1h-1zM650 834h1v1h-1zM656 834h3v1h-3zM661 834h1v1h-1zM683 834h1v1h-1zM686 834h4v1h-4zM773 834h1v1h-1zM786 834h1v1h-1zM792 834h3v1h-3zM797 834h1v1h-1zM812 834h4v1h-4zM905 834h1v1h-1zM920 834h1v1h-1zM927 834h1v1h-1zM968 834h1v1h-1zM1188 834h2v1h-2zM1207 834h1v1h-1zM1213 834h1v1h-1zM1397 834h2v1h-2zM1408 834h1v1h-1zM1415 834h1v1h-1zM176 833h1v1h-1zM219 833h1v1h-1zM221 833h1v1h-1zM252 833h1v1h-1zM282 833h2v1h-2zM288 833h5v1h-5zM327 833h1v1h-1zM371 833h1v1h-1zM397 833h1v1h-1zM439 833h1v1h-1zM609 833h1v1h-1zM635 833h1v1h-1zM648 833h2v1h-2zM659 833h2v1h-2zM684 833h2v1h-2zM774 833h1v1h-1zM785 833h1v1h-1zM795 833h2v1h-2zM816 833h13v1h-13zM904 833h1v1h-1zM921 833h1v1h-1zM926 833h1v1h-1zM969 833h1v1h-1zM1188 833h1v1h-1zM1208 833h2v1h-2zM1213 833h1v1h-1zM1399 833h1v1h-1zM1407 833h1v1h-1zM1416 833h1v1h-1zM177 832h1v1h-1zM218 832h1v1h-1zM222 832h1v1h-1zM250 832h2v1h-2zM284 832h4v1h-4zM293 832h2v1h-2zM326 832h1v1h-1zM372 832h1v1h-1zM396 832h1v1h-1zM440 832h1v1h-1zM609 832h1v1h-1zM636 832h2v1h-2zM647 832h1v1h-1zM775 832h1v1h-1zM784 832h1v1h-1zM829 832h1v1h-1zM902 832h2v1h-2zM922 832h2v1h-2zM925 832h1v1h-1zM970 832h1v1h-1zM1188 832h1v1h-1zM1210 832h1v1h-1zM1213 832h1v1h-1zM1400 832h2v1h-2zM1406 832h1v1h-1zM1416 832h1v1h-1zM178 831h1v1h-1zM195 831h10v1h-10zM217 831h1v1h-1zM223 831h1v1h-1zM248 831h2v1h-2zM295 831h1v1h-1zM325 831h1v1h-1zM373 831h2v1h-2zM394 831h2v1h-2zM440 831h1v1h-1zM452 831h1v1h-1zM608 831h1v1h-1zM638 831h2v1h-2zM646 831h1v1h-1zM776 831h2v1h-2zM783 831h1v1h-1zM829 831h1v1h-1zM901 831h1v1h-1zM924 831h1v1h-1zM971 831h1v1h-1zM1187 831h1v1h-1zM1211 831h2v1h-2zM1402 831h2v1h-2zM1405 831h1v1h-1zM1417 831h1v1h-1zM179 830h1v1h-1zM193 830h2v1h-2zM205 830h2v1h-2zM216 830h1v1h-1zM224 830h1v1h-1zM247 830h1v1h-1zM296 830h2v1h-2zM324 830h1v1h-1zM375 830h2v1h-2zM393 830h1v1h-1zM441 830h1v1h-1zM450 830h2v1h-2zM453 830h2v1h-2zM608 830h1v1h-1zM640 830h3v1h-3zM645 830h1v1h-1zM778 830h1v1h-1zM782 830h1v1h-1zM830 830h1v1h-1zM900 830h1v1h-1zM972 830h1v1h-1zM1187 830h1v1h-1zM1212 830h1v1h-1zM1404 830h1v1h-1zM1418 830h1v1h-1zM180 829h2v1h-2zM191 829h2v1h-2zM207 829h1v1h-1zM215 829h1v1h-1zM224 829h1v1h-1zM245 829h2v1h-2zM298 829h2v1h-2zM323 829h1v1h-1zM377 829h2v1h-2zM392 829h1v1h-1zM442 829h1v1h-1zM449 829h1v1h-1zM455 829h2v1h-2zM474 829h4v1h-4zM608 829h1v1h-1zM643 829h2v1h-2zM779 829h1v1h-1zM781 829h1v1h-1zM830 829h1v1h-1zM899 829h1v1h-1zM973 829h1v1h-1zM1187 829h1v1h-1zM1418 829h1v1h-1zM182 828h4v1h-4zM189 828h2v1h-2zM208 828h2v1h-2zM214 828h1v1h-1zM225 828h1v1h-1zM243 828h2v1h-2zM300 828h4v1h-4zM322 828h1v1h-1zM379 828h3v1h-3zM390 828h2v1h-2zM442 828h1v1h-1zM448 828h1v1h-1zM457 828h2v1h-2zM470 828h4v1h-4zM478 828h4v1h-4zM607 828h1v1h-1zM780 828h1v1h-1zM831 828h1v1h-1zM899 828h1v1h-1zM974 828h2v1h-2zM1187 828h1v1h-1zM1419 828h1v1h-1zM186 827h3v1h-3zM210 827h2v1h-2zM213 827h1v1h-1zM226 827h1v1h-1zM240 827h3v1h-3zM304 827h5v1h-5zM321 827h1v1h-1zM382 827h4v1h-4zM389 827h1v1h-1zM443 827h1v1h-1zM446 827h2v1h-2zM459 827h11v1h-11zM482 827h4v1h-4zM607 827h1v1h-1zM832 827h1v1h-1zM859 827h3v1h-3zM898 827h1v1h-1zM976 827h1v1h-1zM1186 827h1v1h-1zM1419 827h1v1h-1zM212 826h1v1h-1zM227 826h1v1h-1zM238 826h2v1h-2zM309 826h1v1h-1zM320 826h1v1h-1zM386 826h3v1h-3zM443 826h1v1h-1zM445 826h1v1h-1zM486 826h4v1h-4zM607 826h1v1h-1zM832 826h1v1h-1zM857 826h2v1h-2zM862 826h4v1h-4zM897 826h1v1h-1zM977 826h1v1h-1zM1186 826h1v1h-1zM1420 826h1v1h-1zM228 825h10v1h-10zM310 825h2v1h-2zM320 825h1v1h-1zM444 825h1v1h-1zM490 825h3v1h-3zM606 825h1v1h-1zM833 825h1v1h-1zM855 825h2v1h-2zM866 825h11v1h-11zM896 825h1v1h-1zM978 825h2v1h-2zM1186 825h1v1h-1zM1421 825h2v1h-2zM312 824h1v1h-1zM319 824h1v1h-1zM493 824h1v1h-1zM606 824h1v1h-1zM834 824h1v1h-1zM853 824h2v1h-2zM877 824h2v1h-2zM896 824h1v1h-1zM980 824h1v1h-1zM1186 824h1v1h-1zM1423 824h2v1h-2zM313 823h1v1h-1zM318 823h1v1h-1zM494 823h2v1h-2zM606 823h1v1h-1zM834 823h1v1h-1zM851 823h2v1h-2zM879 823h2v1h-2zM895 823h1v1h-1zM981 823h1v1h-1zM1186 823h1v1h-1zM1425 823h2v1h-2zM314 822h2v1h-2zM317 822h1v1h-1zM496 822h1v1h-1zM532 822h4v1h-4zM606 822h1v1h-1zM835 822h1v1h-1zM848 822h3v1h-3zM881 822h2v1h-2zM894 822h1v1h-1zM982 822h1v1h-1zM1185 822h1v1h-1zM1427 822h3v1h-3zM316 821h1v1h-1zM497 821h1v1h-1zM530 821h2v1h-2zM536 821h5v1h-5zM605 821h1v1h-1zM835 821h1v1h-1zM846 821h2v1h-2zM883 821h3v1h-3zM893 821h1v1h-1zM983 821h1v1h-1zM1084 821h1v1h-1zM1185 821h1v1h-1zM1430 821h4v1h-4zM498 820h2v1h-2zM529 820h1v1h-1zM541 820h1v1h-1zM605 820h1v1h-1zM836 820h10v1h-10zM886 820h4v1h-4zM893 820h1v1h-1zM984 820h1v1h-1zM1083 820h1v1h-1zM1085 820h1v1h-1zM1185 820h1v1h-1zM1434 820h3v1h-3zM500 819h1v1h-1zM528 819h1v1h-1zM542 819h1v1h-1zM605 819h1v1h-1zM890 819h3v1h-3zM984 819h1v1h-1zM1082 819h1v1h-1zM1086 819h2v1h-2zM1185 819h1v1h-1zM501 818h1v1h-1zM516 818h2v1h-2zM526 818h2v1h-2zM543 818h1v1h-1zM604 818h1v1h-1zM985 818h1v1h-1zM1081 818h1v1h-1zM1088 818h1v1h-1zM1184 818h1v1h-1zM502 817h1v1h-1zM515 817h1v1h-1zM518 817h4v1h-4zM525 817h1v1h-1zM544 817h1v1h-1zM604 817h1v1h-1zM986 817h1v1h-1zM1080 817h1v1h-1zM1089 817h1v1h-1zM1184 817h1v1h-1zM503 816h1v1h-1zM514 816h1v1h-1zM522 816h3v1h-3zM545 816h1v1h-1zM604 816h1v1h-1zM987 816h1v1h-1zM1080 816h1v1h-1zM1090 816h2v1h-2zM1184 816h1v1h-1zM504 815h1v1h-1zM513 815h1v1h-1zM546 815h1v1h-1zM603 815h1v1h-1zM988 815h1v1h-1zM1079 815h1v1h-1zM1092 815h2v1h-2zM1184 815h1v1h-1zM504 814h1v1h-1zM512 814h1v1h-1zM547 814h1v1h-1zM603 814h1v1h-1zM989 814h2v1h-2zM1078 814h1v1h-1zM1094 814h2v1h-2zM1184 814h1v1h-1zM505 813h1v1h-1zM511 813h1v1h-1zM548 813h1v1h-1zM602 813h1v1h-1zM991 813h2v1h-2zM1077 813h1v1h-1zM1096 813h3v1h-3zM1164 813h1v1h-1zM1183 813h1v1h-1zM506 812h1v1h-1zM510 812h1v1h-1zM549 812h1v1h-1zM602 812h1v1h-1zM993 812h2v1h-2zM1076 812h1v1h-1zM1099 812h3v1h-3zM1164 812h2v1h-2zM1183 812h1v1h-1zM507 811h1v1h-1zM509 811h1v1h-1zM550 811h1v1h-1zM601 811h1v1h-1zM995 811h5v1h-5zM1008 811h5v1h-5zM1074 811h2v1h-2zM1102 811h4v1h-4zM1163 811h1v1h-1zM1166 811h1v1h-1zM1183 811h1v1h-1zM508 810h1v1h-1zM551 810h1v1h-1zM601 810h1v1h-1zM1000 810h8v1h-8zM1013 810h1v1h-1zM1073 810h1v1h-1zM1106 810h3v1h-3zM1163 810h1v1h-1zM1167 810h1v1h-1zM1183 810h1v1h-1zM552 809h2v1h-2zM600 809h1v1h-1zM1014 809h1v1h-1zM1072 809h1v1h-1zM1109 809h1v1h-1zM1162 809h1v1h-1zM1168 809h2v1h-2zM1182 809h1v1h-1zM554 808h1v1h-1zM562 808h3v1h-3zM600 808h1v1h-1zM1015 808h1v1h-1zM1070 808h2v1h-2zM1110 808h1v1h-1zM1162 808h1v1h-1zM1170 808h1v1h-1zM1182 808h1v1h-1zM555 807h1v1h-1zM558 807h4v1h-4zM565 807h1v1h-1zM599 807h1v1h-1zM1016 807h1v1h-1zM1069 807h1v1h-1zM1110 807h1v1h-1zM1162 807h1v1h-1zM1171 807h1v1h-1zM1182 807h1v1h-1zM556 806h2v1h-2zM566 806h1v1h-1zM599 806h1v1h-1zM1016 806h1v1h-1zM1067 806h2v1h-2zM1111 806h1v1h-1zM1124 806h2v1h-2zM1161 806h1v1h-1zM1172 806h1v1h-1zM1182 806h1v1h-1zM567 805h1v1h-1zM598 805h1v1h-1zM1017 805h1v1h-1zM1065 805h2v1h-2zM1112 805h1v1h-1zM1122 805h2v1h-2zM1126 805h2v1h-2zM1161 805h1v1h-1zM1173 805h1v1h-1zM1182 805h1v1h-1zM568 804h1v1h-1zM598 804h1v1h-1zM1018 804h1v1h-1zM1026 804h3v1h-3zM1052 804h2v1h-2zM1063 804h2v1h-2zM1113 804h1v1h-1zM1121 804h1v1h-1zM1128 804h3v1h-3zM1160 804h1v1h-1zM1174 804h1v1h-1zM1181 804h1v1h-1zM568 803h1v1h-1zM597 803h1v1h-1zM1019 803h1v1h-1zM1022 803h4v1h-4zM1029 803h2v1h-2zM1050 803h2v1h-2zM1054 803h4v1h-4zM1061 803h2v1h-2zM1114 803h1v1h-1zM1120 803h1v1h-1zM1131 803h2v1h-2zM1160 803h1v1h-1zM1175 803h1v1h-1zM1181 803h1v1h-1zM569 802h1v1h-1zM597 802h1v1h-1zM1020 802h2v1h-2zM1031 802h1v1h-1zM1048 802h2v1h-2zM1058 802h3v1h-3zM1114 802h1v1h-1zM1118 802h2v1h-2zM1133 802h2v1h-2zM1160 802h1v1h-1zM1176 802h1v1h-1zM1181 802h1v1h-1zM570 801h1v1h-1zM596 801h1v1h-1zM1032 801h2v1h-2zM1047 801h1v1h-1zM1115 801h1v1h-1zM1117 801h1v1h-1zM1135 801h1v1h-1zM1159 801h1v1h-1zM1177 801h1v1h-1zM1181 801h1v1h-1zM571 800h1v1h-1zM596 800h1v1h-1zM1034 800h2v1h-2zM1045 800h2v1h-2zM1116 800h1v1h-1zM1136 800h2v1h-2zM1159 800h1v1h-1zM1178 800h1v1h-1zM1180 800h1v1h-1zM572 799h2v1h-2zM594 799h2v1h-2zM1036 799h9v1h-9zM1138 799h2v1h-2zM1158 799h1v1h-1zM1179 799h2v1h-2zM574 798h4v1h-4zM593 798h1v1h-1zM1140 798h2v1h-2zM1158 798h1v1h-1zM1180 798h1v1h-1zM578 797h4v1h-4zM592 797h1v1h-1zM1142 797h4v1h-4zM1158 797h1v1h-1zM582 796h2v1h-2zM590 796h2v1h-2zM1146 796h4v1h-4zM1157 796h1v1h-1zM584 795h3v1h-3zM589 795h1v1h-1zM1150 795h2v1h-2zM1157 795h1v1h-1zM587 794h2v1h-2zM1152 794h3v1h-3zM1156 794h1v1h-1zM1155 793h2v1h-2z"/>
</g>
<g shape-rendering="crispEdges">
<rect x="1690" y="28" width="3" height="1" fill="#000"/>
<rect x="1690" y="61" width="3" height="1" fill="#000"/>
<rect x="1690" y="94" width="3" height="1" fill="#000"/>
<rect x="1690" y="127" width="3" height="1" fill="#000"/>
<rect x="1690" y="160" width="3" height="1" fill="#000"/>
<rect x="1690" y="193" width="3" height="1" fill="#000"/>
<rect x="1690" y="226" width="3" height="1" fill="#000"/>
<rect x="1690" y="259" width="3" height="1" fill="#000"/>
<rect x="1690" y="292" width="3" height="1" fill="#000"/>
<rect x="1690" y="325" width="3" height="1" fill="#000"/>
<rect x="1690" y="358" width="3" height="1" fill="#000"/>
<rect x="1690" y="391" width="3" height="1" fill="#000"/>
<rect x="1690" y="424" width="3" height="1" fill="#000"/>
<rect x="1690" y="457" width="3" height="1" fill="#000"/>
<rect x="1690" y="490" width="3" height="1" fill="#000"/>
<rect x="1690" y="523" width="3" height="1" fill="#000"/>
<rect x="1690" y="556" width="3" height="1" fill="#000"/>
<rect x="1690" y="589" width="3" height="1" fill="#000"/>
</g>
<text x="1695" y="32" font-size="10.4" fill="#000" stroke="#000" stroke-width="0.1" textLength="32.80" lengthAdjust="spacingAndGlyphs" >29693.0</text>
<text x="1695" y="65" font-size="10.4" fill="#000" stroke="#000" stroke-width="0.1" textLength="32.80" lengthAdjust="spacingAndGlyphs" >29000.0</text>
<text x="1695" y="98" font-size="10.4" fill="#000" stroke="#000" stroke-width="0.1" textLength="32.80" lengthAdjust="spacingAndGlyphs" >28307.0</text>
<text x="1695" y="131" font-size="10.4" fill="#000" stroke="#000" stroke-width="0.1" textLength="32.80" lengthAdjust="spacingAndGlyphs" >27600.0</text>
<text x="1695" y="164" font-size="10.4" fill="#000" stroke="#000" stroke-width="0.1" textLength="32.80" lengthAdjust="spacingAndGlyphs" >26900.0</text>
<text x="1695" y="197" font-size="10.4" fill="#000" stroke="#000" stroke-width="0.1" textLength="32.80" lengthAdjust="spacingAndGlyphs" >26207.0</text>
<text x="1695" y="230" font-size="10.4" fill="#000" stroke="#000" stroke-width="0.1" textLength="32.80" lengthAdjust="spacingAndGlyphs" >25493.0</text>
<text x="1695" y="263" font-size="10.4" fill="#000" stroke="#000" stroke-width="0.1" textLength="32.80" lengthAdjust="spacingAndGlyphs" >24800.0</text>
<text x="1695" y="296" font-size="10.4" fill="#000" stroke="#000" stroke-width="0.1" textLength="32.80" lengthAdjust="spacingAndGlyphs" >24107.0</text>
<text x="1695" y="329" font-size="10.4" fill="#000" stroke="#000" stroke-width="0.1" textLength="32.80" lengthAdjust="spacingAndGlyphs" >23393.0</text>
<text x="1695" y="362" font-size="10.4" fill="#000" stroke="#000" stroke-width="0.1" textLength="32.80" lengthAdjust="spacingAndGlyphs" >22700.0</text>
<text x="1695" y="395" font-size="10.4" fill="#000" stroke="#000" stroke-width="0.1" textLength="32.80" lengthAdjust="spacingAndGlyphs" >22007.0</text>
<text x="1695" y="428" font-size="10.4" fill="#000" stroke="#000" stroke-width="0.1" textLength="32.80" lengthAdjust="spacingAndGlyphs" >21293.0</text>
<text x="1695" y="461" font-size="10.4" fill="#000" stroke="#000" stroke-width="0.1" textLength="32.80" lengthAdjust="spacingAndGlyphs" >20600.0</text>
<text x="1695" y="494" font-size="10.4" fill="#000" stroke="#000" stroke-width="0.1" textLength="32.80" lengthAdjust="spacingAndGlyphs" >19907.0</text>
<text x="1695" y="527" font-size="10.4" fill="#000" stroke="#000" stroke-width="0.1" textLength="32.80" lengthAdjust="spacingAndGlyphs" >19193.0</text>
<text x="1695" y="560" font-size="10.4" fill="#000" stroke="#000" stroke-width="0.1" textLength="32.80" lengthAdjust="spacingAndGlyphs" >18500.0</text>
<text x="1695" y="593" font-size="10.4" fill="#000" stroke="#000" stroke-width="0.1" textLength="32.80" lengthAdjust="spacingAndGlyphs" >17807.0</text>
<rect x="1691" y="50" width="41" height="11" fill="#ff0000" shape-rendering="crispEdges"/>
<text x="1695" y="59" font-size="10.4" fill="#fff" stroke="#fff" stroke-width="0.1" textLength="32.80" lengthAdjust="spacingAndGlyphs" >29098.5</text>
<rect x="1691" y="67" width="41" height="11" fill="#ff0000" shape-rendering="crispEdges"/>
<text x="1695" y="76" font-size="10.4" fill="#fff" stroke="#fff" stroke-width="0.1" textLength="32.80" lengthAdjust="spacingAndGlyphs" >28738.4</text>
<rect x="1691" y="79" width="41" height="11" fill="#000000" shape-rendering="crispEdges"/>
<text x="1695" y="88" font-size="10.4" fill="#fff" stroke="#fff" stroke-width="0.1" textLength="32.80" lengthAdjust="spacingAndGlyphs" >28522.0</text>
<rect x="1691" y="98" width="41" height="11" fill="#32cd32" shape-rendering="crispEdges"/>
<text x="1695" y="107" font-size="10.4" fill="#fff" stroke="#fff" stroke-width="0.1" textLength="32.80" lengthAdjust="spacingAndGlyphs" >28081.7</text>
<rect x="1691" y="116" width="41" height="11" fill="#0000ff" shape-rendering="crispEdges"/>
<text x="1695" y="125" font-size="10.4" fill="#fff" stroke="#fff" stroke-width="0.1" textLength="32.80" lengthAdjust="spacingAndGlyphs" >27700.4</text>
<rect x="1691" y="131" width="41" height="11" fill="#0000ff" shape-rendering="crispEdges"/>
<text x="1695" y="140" font-size="10.4" fill="#fff" stroke="#fff" stroke-width="0.1" textLength="32.80" lengthAdjust="spacingAndGlyphs" >27382.6</text>
<g shape-rendering="crispEdges">
<rect x="1690" y="595" width="3" height="1" fill="#000"/>
<rect x="1690" y="641" width="3" height="1" fill="#000"/>
<rect x="1690" y="750" width="3" height="1" fill="#000"/>
<rect x="1690" y="753" width="3" height="1" fill="#000"/>
<rect x="1690" y="788" width="3" height="1" fill="#000"/>
<rect x="1690" y="839" width="3" height="1" fill="#000"/>
<rect x="1690" y="900" width="3" height="1" fill="#000"/>
<rect x="1690" y="926" width="3" height="1" fill="#000"/>
</g>
<text x="1694" y="605" font-size="9.5" fill="#000" stroke="#000" stroke-width="0.1" textLength="32.00" lengthAdjust="spacingAndGlyphs" >1024.52</text>
<text x="1694" y="645" font-size="9.5" fill="#000" stroke="#000" stroke-width="0.1" textLength="17.00" lengthAdjust="spacingAndGlyphs" >0.00</text>
<text x="1693" y="747" font-size="9.5" fill="#000" stroke="#000" stroke-width="0.1" textLength="35.50" lengthAdjust="spacingAndGlyphs" >-2433.25</text>
<text x="1694" y="763" font-size="9.5" fill="#000" stroke="#000" stroke-width="0.1" textLength="14.00" lengthAdjust="spacingAndGlyphs" >100</text>
<text x="1692.5" y="792" font-size="9.5" fill="#000" stroke="#000" stroke-width="0.1" textLength="9.50" lengthAdjust="spacingAndGlyphs" >80</text>
<text x="1692.5" y="843" font-size="9.5" fill="#000" stroke="#000" stroke-width="0.1" textLength="9.50" lengthAdjust="spacingAndGlyphs" >50</text>
<text x="1692.5" y="904.5" font-size="9.5" fill="#000" stroke="#000" stroke-width="0.1" textLength="9.50" lengthAdjust="spacingAndGlyphs" >15</text>
<text x="1693" y="923" font-size="9.5" fill="#000" stroke="#000" stroke-width="0.1" textLength="5.00" lengthAdjust="spacingAndGlyphs" >0</text>
<g shape-rendering="crispEdges">
<rect x="60" y="927" width="1" height="3" fill="#000"/>
<rect x="124" y="927" width="1" height="3" fill="#000"/>
<rect x="188" y="927" width="1" height="3" fill="#000"/>
<rect x="252" y="927" width="1" height="3" fill="#000"/>
<rect x="316" y="927" width="1" height="3" fill="#000"/>
<rect x="380" y="927" width="1" height="3" fill="#000"/>
<rect x="444" y="927" width="1" height="3" fill="#000"/>
<rect x="508" y="927" width="1" height="3" fill="#000"/>
<rect x="572" y="927" width="1" height="3" fill="#000"/>
<rect x="636" y="927" width="1" height="3" fill="#000"/>
<rect x="700" y="927" width="1" height="3" fill="#000"/>
<rect x="764" y="927" width="1" height="3" fill="#000"/>
<rect x="828" y="927" width="1" height="3" fill="#000"/>
<rect x="892" y="927" width="1" height="3" fill="#000"/>
<rect x="956" y="927" width="1" height="3" fill="#000"/>
<rect x="1020" y="927" width="1" height="3" fill="#000"/>
<rect x="1084" y="927" width="1" height="3" fill="#000"/>
<rect x="1148" y="927" width="1" height="3" fill="#000"/>
<rect x="1212" y="927" width="1" height="3" fill="#000"/>
<rect x="1276" y="927" width="1" height="3" fill="#000"/>
<rect x="1340" y="927" width="1" height="3" fill="#000"/>
<rect x="1404" y="927" width="1" height="3" fill="#000"/>
</g>
<text x="-1" y="939" font-size="10.2" fill="#000" stroke="#000" stroke-width="0.1" textLength="46.22" lengthAdjust="spacingAndGlyphs" >2 Mar 2020</text>
<text x="59" y="939" font-size="10.2" fill="#000" stroke="#000" stroke-width="0.1" textLength="51.30" lengthAdjust="spacingAndGlyphs" >22 Mar 2020</text>
<text x="123" y="939" font-size="10.2" fill="#000" stroke="#000" stroke-width="0.1" textLength="51.30" lengthAdjust="spacingAndGlyphs" >31 Mar 2020</text>
<text x="187" y="939" font-size="10.2" fill="#000" stroke="#000" stroke-width="0.1" textLength="44.20" lengthAdjust="spacingAndGlyphs" >9 Apr 2020</text>
<text x="251" y="939" font-size="10.2" fill="#000" stroke="#000" stroke-width="0.1" textLength="49.28" lengthAdjust="spacingAndGlyphs" >20 Apr 2020</text>
<text x="315" y="939" font-size="10.2" fill="#000" stroke="#000" stroke-width="0.1" textLength="49.28" lengthAdjust="spacingAndGlyphs" >29 Apr 2020</text>
<text x="379" y="939" font-size="10.2" fill="#000" stroke="#000" stroke-width="0.1" textLength="47.74" lengthAdjust="spacingAndGlyphs" >8 May 2020</text>
<text x="443" y="939" font-size="10.2" fill="#000" stroke="#000" stroke-width="0.1" textLength="52.83" lengthAdjust="spacingAndGlyphs" >18 May 2020</text>
<text x="507" y="939" font-size="10.2" fill="#000" stroke="#000" stroke-width="0.1" textLength="52.83" lengthAdjust="spacingAndGlyphs" >27 May 2020</text>
<text x="571" y="939" font-size="10.2" fill="#000" stroke="#000" stroke-width="0.1" textLength="45.21" lengthAdjust="spacingAndGlyphs" >5 Jun 2020</text>
<text x="635" y="939" font-size="10.2" fill="#000" stroke="#000" stroke-width="0.1" textLength="50.30" lengthAdjust="spacingAndGlyphs" >15 Jun 2020</text>
<text x="699" y="939" font-size="10.2" fill="#000" stroke="#000" stroke-width="0.1" textLength="50.30" lengthAdjust="spacingAndGlyphs" >24 Jun 2020</text>
<text x="763" y="939" font-size="10.2" fill="#000" stroke="#000" stroke-width="0.1" textLength="42.16" lengthAdjust="spacingAndGlyphs" >3 Jul 2020</text>
<text x="827" y="939" font-size="10.2" fill="#000" stroke="#000" stroke-width="0.1" textLength="47.25" lengthAdjust="spacingAndGlyphs" >13 Jul 2020</text>
<text x="891" y="939" font-size="10.2" fill="#000" stroke="#000" stroke-width="0.1" textLength="47.25" lengthAdjust="spacingAndGlyphs" >22 Jul 2020</text>
<text x="955" y="939" font-size="10.2" fill="#000" stroke="#000" stroke-width="0.1" textLength="47.25" lengthAdjust="spacingAndGlyphs" >31 Jul 2020</text>
<text x="1019" y="939" font-size="10.2" fill="#000" stroke="#000" stroke-width="0.1" textLength="51.32" lengthAdjust="spacingAndGlyphs" >10 Aug 2020</text>
<text x="1083" y="939" font-size="10.2" fill="#000" stroke="#000" stroke-width="0.1" textLength="51.32" lengthAdjust="spacingAndGlyphs" >19 Aug 2020</text>
<text x="1147" y="939" font-size="10.2" fill="#000" stroke="#000" stroke-width="0.1" textLength="51.32" lengthAdjust="spacingAndGlyphs" >28 Aug 2020</text>
<text x="1211" y="939" font-size="10.2" fill="#000" stroke="#000" stroke-width="0.1" textLength="46.74" lengthAdjust="spacingAndGlyphs" >7 Sep 2020</text>
<text x="1275" y="939" font-size="10.2" fill="#000" stroke="#000" stroke-width="0.1" textLength="51.82" lengthAdjust="spacingAndGlyphs" >16 Sep 2020</text>
<text x="1339" y="939" font-size="10.2" fill="#000" stroke="#000" stroke-width="0.1" textLength="51.82" lengthAdjust="spacingAndGlyphs" >25 Sep 2020</text>
<text x="1403" y="939" font-size="10.2" fill="#000" stroke="#000" stroke-width="0.1" textLength="44.70" lengthAdjust="spacingAndGlyphs" >5 Oct 2020</text>
<text x="11.2" y="37" font-size="9.5" fill="#000" stroke="#000" stroke-width="0.1" textLength="46.70" lengthAdjust="spacingAndGlyphs" >DJ30-,Daily</text>
<text x="66.5" y="37" font-size="9.5" fill="#000" stroke="#000" stroke-width="0.1" textLength="140.00" lengthAdjust="spacingAndGlyphs" >28431.0 28561.0 28322.0 28522.0</text>
<path d="M0.5 36.5 L3.5 31.5 L6.5 36.5 Z" fill="#000"/>
<text x="1" y="607" font-size="9.5" fill="#000" stroke="#000" stroke-width="0.1" textLength="125.00" lengthAdjust="spacingAndGlyphs" >MACD(12,26,9) 148.17 -12.10</text>
<text x="1" y="765" font-size="9.5" fill="#000" stroke="#000" stroke-width="0.1" textLength="66.40" lengthAdjust="spacingAndGlyphs" >RSI(14) 61.6586</text>
<defs><linearGradient id="gtab" x1="0" y1="0" x2="0" y2="1"><stop offset="0" stop-color="#ff5656"/><stop offset="1" stop-color="#e43434"/></linearGradient><linearGradient id="gbody" x1="0" y1="0" x2="0" y2="1"><stop offset="0" stop-color="#e43434"/><stop offset="1" stop-color="#b00404"/></linearGradient><linearGradient id="gbtn" x1="0" y1="0" x2="0" y2="1"><stop offset="0" stop-color="#f6f6f6"/><stop offset="1" stop-color="#d2d2d2"/></linearGradient></defs>
<g shape-rendering="crispEdges">
<rect x="0" y="45" width="218" height="64" fill="#fff"/>
<rect x="0" y="45" width="51" height="24" fill="url(#gtab)"/>
<rect x="0" y="69" width="108" height="40" fill="url(#gbody)"/>
<rect x="0" y="45" width="51" height="1" fill="#b00000"/>
<rect x="50" y="45" width="1" height="24" fill="#b00000"/>
<rect x="50" y="69" width="58" height="1" fill="#b00000"/>
<rect x="107" y="69" width="1" height="40" fill="#b00000"/>
<rect x="0" y="108" width="108" height="1" fill="#b00000"/>
<rect x="166" y="45" width="52" height="24" fill="url(#gtab)"/>
<rect x="110" y="69" width="108" height="40" fill="url(#gbody)"/>
<rect x="166" y="45" width="52" height="1" fill="#b00000"/>
<rect x="166" y="45" width="1" height="25" fill="#b00000"/>
<rect x="217" y="45" width="1" height="64" fill="#b00000"/>
<rect x="110" y="69" width="57" height="1" fill="#b00000"/>
<rect x="110" y="69" width="1" height="40" fill="#b00000"/>
<rect x="110" y="108" width="108" height="1" fill="#b00000"/>
<rect x="53" y="45" width="112" height="22" fill="#a9adb5"/>
<rect x="54" y="46" width="110" height="20" fill="#fff"/>
<rect x="55" y="47" width="19" height="18" fill="url(#gbtn)"/>
<rect x="144" y="47" width="19" height="18" fill="url(#gbtn)"/>
<rect x="74" y="46" width="1" height="20" fill="#a9adb5"/>
<rect x="143" y="46" width="1" height="20" fill="#a9adb5"/>
<rect x="3" y="68" width="44" height="1" fill="#900000"/><rect x="3" y="69" width="44" height="1" fill="#ff8080"/>
<rect x="170" y="68" width="44" height="1" fill="#900000"/><rect x="170" y="69" width="44" height="1" fill="#ff8080"/>
</g>
<path d="M61.5 54.5 L66.5 54.5 L64 57.5 Z" fill="#4a5ec8"/>
<path d="M150.5 57.5 L155.5 57.5 L153 54.5 Z" fill="#4a5ec8"/>
<text x="116" y="60" font-size="12" fill="#000" textLength="22.4" lengthAdjust="spacingAndGlyphs" >1.00</text>
<text x="11.3" y="61" font-size="11.8" fill="#fff" textLength="25" lengthAdjust="spacingAndGlyphs" >SELL</text>
<text x="179.5" y="61" font-size="11.8" fill="#fff" textLength="23.2" lengthAdjust="spacingAndGlyphs" >BUY</text>
<text x="15.2" y="99.6" font-size="12.5" fill="#fff" textLength="33.8" lengthAdjust="spacingAndGlyphs" font-weight="bold">28520</text>
<rect x="54.3" y="96.4" width="3" height="3.2" rx="0.6" fill="#fff"/>
<text x="62.3" y="100" font-size="35" fill="#fff" textLength="14" lengthAdjust="spacingAndGlyphs" >5</text>
<text x="125.2" y="99.6" font-size="12.5" fill="#fff" textLength="34.4" lengthAdjust="spacingAndGlyphs" font-weight="bold">28529</text>
<rect x="165.8" y="96.4" width="3" height="3.2" rx="0.6" fill="#fff"/>
<text x="173" y="100" font-size="35" fill="#fff" textLength="14" lengthAdjust="spacingAndGlyphs" >5</text>
<rect x="1170" y="55" width="8" height="2" fill="#ff0000" shape-rendering="crispEdges"/>
<rect x="1109.5" y="46.5" width="61" height="18" fill="#fff" stroke="#ff0000" stroke-width="1" shape-rendering="crispEdges"/>
<text x="1111" y="62" font-size="16.5" fill="#ff0000" textLength="58" lengthAdjust="spacingAndGlyphs" >29119.7</text>
<rect x="925" y="104" width="10" height="1" fill="#ff0000" shape-rendering="crispEdges"/>
<rect x="935.5" y="92.5" width="73" height="24" fill="#fff" stroke="#ff0000" stroke-width="1" shape-rendering="crispEdges"/>
<text x="937" y="113" font-size="21.5" fill="#ff0000" textLength="70" lengthAdjust="spacingAndGlyphs" >28081.7</text>
<rect x="1322" y="182" width="10" height="1" fill="#ff0000" shape-rendering="crispEdges"/>
<rect x="1261.5" y="173.5" width="61" height="18" fill="#fff" stroke="#ff0000" stroke-width="1" shape-rendering="crispEdges"/>
<text x="1264" y="189" font-size="17" fill="#ff0000" textLength="57" lengthAdjust="spacingAndGlyphs" >26429.3</text>
<rect x="1226" y="103" width="257" height="7" fill="#00ff00" shape-rendering="crispEdges"/>
<path d="M1261 95 L1331 171" stroke="#ff0000" stroke-width="3.2" fill="none"/>
<path d="M1336.5 177.5 L1325.5 172 L1332 165.5 Z" fill="#ff0000" stroke="#ff0000" stroke-width="1.5" stroke-linejoin="round"/>
<path d="M1335 177 L1430 82" stroke="#ff0000" stroke-width="3.2" fill="none"/>
<path d="M1435.5 77.5 L1424 82.5 L1430.5 89 Z" fill="#ff0000" stroke="#ff0000" stroke-width="1.5" stroke-linejoin="round"/>
<text x="1450.5" y="137" font-size="22" fill="#00ff00" textLength="111" lengthAdjust="spacingAndGlyphs" font-family="Liberation Serif">多空转折点</text>
<path d="M1446 26 L1455 26 L1450.5 31 Z" fill="#c0c0c0"/>
<path d="M1320 861.5 L1428 818" stroke="#ff0000" stroke-width="3.4" fill="none"/>
<path d="M1436 815.5 L1423.5 814.5 L1427.5 823.5 Z" fill="#ff0000" stroke="#ff0000" stroke-width="1.5" stroke-linejoin="round"/>
</svg>
</body></html>
